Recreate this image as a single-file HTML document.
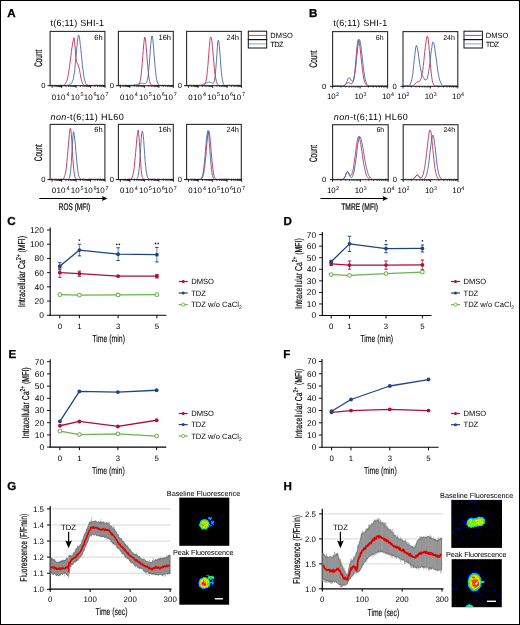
<!DOCTYPE html>
<html><head><meta charset="utf-8"><style>
html,body{margin:0;padding:0;background:#fff;}
svg{display:block;font-family:"Liberation Sans", sans-serif;will-change:transform;text-rendering:geometricPrecision;}
</style></head><body>
<svg width="520" height="625" viewBox="0 0 520 625">
<rect x="0" y="0" width="520" height="625" fill="#fff"/>
<rect x="0.5" y="0.5" width="519" height="624" fill="none" stroke="#000" stroke-width="1"/>
<text x="7.30" y="16.80" font-size="11.6" font-weight="bold" stroke="#000" stroke-width="0.3">A</text>
<text x="308.90" y="16.90" font-size="11.6" font-weight="bold" stroke="#000" stroke-width="0.3">B</text>
<text x="7.30" y="225.00" font-size="11.6" font-weight="bold" stroke="#000" stroke-width="0.3">C</text>
<text x="283.60" y="225.40" font-size="11.6" font-weight="bold" stroke="#000" stroke-width="0.3">D</text>
<text x="8.40" y="357.70" font-size="11.6" font-weight="bold" stroke="#000" stroke-width="0.3">E</text>
<text x="283.20" y="358.00" font-size="11.6" font-weight="bold" stroke="#000" stroke-width="0.3">F</text>
<text x="7.30" y="489.60" font-size="11.6" font-weight="bold" stroke="#000" stroke-width="0.3">G</text>
<text x="283.60" y="490.00" font-size="11.6" font-weight="bold" stroke="#000" stroke-width="0.3">H</text>
<text x="50.60" y="25.80" font-size="9" textLength="53.40" lengthAdjust="spacing">t(6;11) SHI-1</text>
<text x="50.50" y="119.80" font-size="9" textLength="73.20" lengthAdjust="spacing"><tspan font-style="italic">non</tspan>-t(6;11) HL60</text>
<path d="M50.40,85.54 L50.90,85.62 L51.40,85.37 L51.90,85.66 L52.40,85.43 L52.90,85.52 L53.40,85.67 L53.90,85.45 L54.40,85.68 L54.90,85.48 L55.40,85.67 L55.90,85.65 L56.40,85.49 L56.90,85.29 L57.40,85.64 L57.90,85.59 L58.40,85.39 L58.90,85.23 L59.40,85.41 L59.90,85.50 L60.40,85.21 L60.90,85.68 L61.40,85.27 L61.90,85.56 L62.40,85.63 L62.90,85.64 L63.40,85.55 L63.90,84.83 L64.40,84.84 L64.90,84.16 L65.40,83.51 L65.90,82.82 L66.40,81.63 L66.90,80.54 L67.40,78.82 L67.90,76.61 L68.40,73.71 L68.90,70.96 L69.40,67.73 L69.90,63.78 L70.40,59.99 L70.90,56.13 L71.40,51.47 L71.90,47.78 L72.40,45.05 L72.90,41.71 L73.40,39.67 L73.90,37.76 L74.40,39.09 L74.90,44.87 L75.40,50.55 L75.90,57.66 L76.40,61.27 L76.90,62.72 L77.40,63.86 L77.90,63.97 L78.40,65.80 L78.90,67.08 L79.40,69.37 L79.90,72.21 L80.40,74.70 L80.90,77.66 L81.40,79.62 L81.90,81.49 L82.40,82.89 L82.90,83.96 L83.40,84.44 L83.90,84.84 L84.40,85.46 L84.90,85.37 L85.40,85.67 L85.90,85.35 L86.40,85.38 L86.90,85.20 L87.40,85.29 L87.90,85.56 L88.40,85.51 L88.90,85.37 L89.40,85.69 L89.90,85.47 L90.40,85.62 L90.90,85.64 L91.40,85.67 L91.90,85.32 L92.40,85.64 L92.90,85.58 L93.40,85.50 L93.90,85.26 L94.40,85.66 L94.90,85.48 L95.40,85.43 L95.90,85.26 L96.40,85.29 L96.90,85.27 L97.40,85.56 L97.90,85.49 L98.40,85.52 L98.90,85.26 L99.40,85.22 L99.90,85.62 L100.40,85.61 L100.90,85.58 L101.40,85.58 L101.90,85.46 L102.40,85.41 L102.90,85.57 L103.40,85.70 L103.90,85.49 L104.40,85.52" stroke="#c42d55" stroke-width="0.9" fill="none" stroke-linejoin="round"/>
<path d="M50.40,85.42 L50.90,85.22 L51.40,85.35 L51.90,85.44 L52.40,85.39 L52.90,85.36 L53.40,85.67 L53.90,85.25 L54.40,85.31 L54.90,85.26 L55.40,85.30 L55.90,85.50 L56.40,85.50 L56.90,85.65 L57.40,85.38 L57.90,85.67 L58.40,85.67 L58.90,85.60 L59.40,85.62 L59.90,85.53 L60.40,85.67 L60.90,85.70 L61.40,85.62 L61.90,85.65 L62.40,85.52 L62.90,85.69 L63.40,85.26 L63.90,85.39 L64.40,85.63 L64.90,85.57 L65.40,85.53 L65.90,85.52 L66.40,85.64 L66.90,85.28 L67.40,85.20 L67.90,85.47 L68.40,84.98 L68.90,85.02 L69.40,84.82 L69.90,84.46 L70.40,84.23 L70.90,83.57 L71.40,83.46 L71.90,82.88 L72.40,81.38 L72.90,80.28 L73.40,78.64 L73.90,75.80 L74.40,72.87 L74.90,68.28 L75.40,62.86 L75.90,57.40 L76.40,51.74 L76.90,46.67 L77.40,41.51 L77.90,38.06 L78.40,34.98 L78.90,35.59 L79.40,37.10 L79.90,41.10 L80.40,45.48 L80.90,49.48 L81.40,54.43 L81.90,59.74 L82.40,64.63 L82.90,68.99 L83.40,72.85 L83.90,76.39 L84.40,78.72 L84.90,80.82 L85.40,82.51 L85.90,83.61 L86.40,84.26 L86.90,84.81 L87.40,84.96 L87.90,85.22 L88.40,85.48 L88.90,85.23 L89.40,85.21 L89.90,85.22 L90.40,85.52 L90.90,85.59 L91.40,85.59 L91.90,85.60 L92.40,85.60 L92.90,85.39 L93.40,85.25 L93.90,85.28 L94.40,85.46 L94.90,85.37 L95.40,85.30 L95.90,85.66 L96.40,85.37 L96.90,85.25 L97.40,85.31 L97.90,85.32 L98.40,85.46 L98.90,85.61 L99.40,85.31 L99.90,85.53 L100.40,85.30 L100.90,85.21 L101.40,85.50 L101.90,85.50 L102.40,85.23 L102.90,85.34 L103.40,85.61 L103.90,85.64 L104.40,85.62" stroke="#4665a6" stroke-width="0.9" fill="none" stroke-linejoin="round"/>
<rect x="50.10" y="31.40" width="54.80" height="54.30" fill="none" stroke="#2a2a2a" stroke-width="1.1"/>
<text x="102.60" y="39.60" font-size="7.5" text-anchor="end">6h</text>
<text x="45.60" y="88.20" font-size="7.6" text-anchor="end">0</text>
<line x1="47.50" y1="85.70" x2="50.10" y2="85.70" stroke="#000" stroke-width="0.9"/>
<line x1="52.10" y1="85.70" x2="52.10" y2="87.90" stroke="#000" stroke-width="0.8"/>
<line x1="61.60" y1="85.70" x2="61.60" y2="87.90" stroke="#000" stroke-width="0.8"/>
<line x1="76.10" y1="85.70" x2="76.10" y2="87.90" stroke="#000" stroke-width="0.8"/>
<line x1="90.60" y1="85.70" x2="90.60" y2="87.90" stroke="#000" stroke-width="0.8"/>
<line x1="105.10" y1="85.70" x2="105.10" y2="87.90" stroke="#000" stroke-width="0.8"/>
<line x1="54.96" y1="85.70" x2="54.96" y2="87.10" stroke="#000" stroke-width="0.6"/>
<line x1="56.63" y1="85.70" x2="56.63" y2="87.10" stroke="#000" stroke-width="0.6"/>
<line x1="57.82" y1="85.70" x2="57.82" y2="87.10" stroke="#000" stroke-width="0.6"/>
<line x1="58.74" y1="85.70" x2="58.74" y2="87.10" stroke="#000" stroke-width="0.6"/>
<line x1="59.49" y1="85.70" x2="59.49" y2="87.10" stroke="#000" stroke-width="0.6"/>
<line x1="60.13" y1="85.70" x2="60.13" y2="87.10" stroke="#000" stroke-width="0.6"/>
<line x1="60.68" y1="85.70" x2="60.68" y2="87.10" stroke="#000" stroke-width="0.6"/>
<line x1="61.17" y1="85.70" x2="61.17" y2="87.10" stroke="#000" stroke-width="0.6"/>
<line x1="65.96" y1="85.70" x2="65.96" y2="87.10" stroke="#000" stroke-width="0.6"/>
<line x1="68.52" y1="85.70" x2="68.52" y2="87.10" stroke="#000" stroke-width="0.6"/>
<line x1="70.33" y1="85.70" x2="70.33" y2="87.10" stroke="#000" stroke-width="0.6"/>
<line x1="71.74" y1="85.70" x2="71.74" y2="87.10" stroke="#000" stroke-width="0.6"/>
<line x1="72.88" y1="85.70" x2="72.88" y2="87.10" stroke="#000" stroke-width="0.6"/>
<line x1="73.85" y1="85.70" x2="73.85" y2="87.10" stroke="#000" stroke-width="0.6"/>
<line x1="74.69" y1="85.70" x2="74.69" y2="87.10" stroke="#000" stroke-width="0.6"/>
<line x1="75.44" y1="85.70" x2="75.44" y2="87.10" stroke="#000" stroke-width="0.6"/>
<line x1="80.46" y1="85.70" x2="80.46" y2="87.10" stroke="#000" stroke-width="0.6"/>
<line x1="83.02" y1="85.70" x2="83.02" y2="87.10" stroke="#000" stroke-width="0.6"/>
<line x1="84.83" y1="85.70" x2="84.83" y2="87.10" stroke="#000" stroke-width="0.6"/>
<line x1="86.24" y1="85.70" x2="86.24" y2="87.10" stroke="#000" stroke-width="0.6"/>
<line x1="87.38" y1="85.70" x2="87.38" y2="87.10" stroke="#000" stroke-width="0.6"/>
<line x1="88.35" y1="85.70" x2="88.35" y2="87.10" stroke="#000" stroke-width="0.6"/>
<line x1="89.19" y1="85.70" x2="89.19" y2="87.10" stroke="#000" stroke-width="0.6"/>
<line x1="89.94" y1="85.70" x2="89.94" y2="87.10" stroke="#000" stroke-width="0.6"/>
<line x1="94.96" y1="85.70" x2="94.96" y2="87.10" stroke="#000" stroke-width="0.6"/>
<line x1="97.52" y1="85.70" x2="97.52" y2="87.10" stroke="#000" stroke-width="0.6"/>
<line x1="99.33" y1="85.70" x2="99.33" y2="87.10" stroke="#000" stroke-width="0.6"/>
<line x1="100.74" y1="85.70" x2="100.74" y2="87.10" stroke="#000" stroke-width="0.6"/>
<line x1="101.88" y1="85.70" x2="101.88" y2="87.10" stroke="#000" stroke-width="0.6"/>
<line x1="102.85" y1="85.70" x2="102.85" y2="87.10" stroke="#000" stroke-width="0.6"/>
<line x1="103.69" y1="85.70" x2="103.69" y2="87.10" stroke="#000" stroke-width="0.6"/>
<line x1="104.44" y1="85.70" x2="104.44" y2="87.10" stroke="#000" stroke-width="0.6"/>
<text x="51.80" y="99.50" font-size="7.8">0</text>
<text x="56.60" y="99.50" font-size="8.0">10</text>
<text x="66.40" y="96.10" font-size="5.4">4</text>
<text x="70.70" y="99.50" font-size="8.0">10</text>
<text x="80.50" y="96.10" font-size="5.4">5</text>
<text x="83.70" y="99.50" font-size="8.0">10</text>
<text x="93.50" y="96.10" font-size="5.4">6</text>
<text x="95.70" y="99.50" font-size="8.0">10</text>
<text x="105.50" y="96.10" font-size="5.4">7</text>
<path d="M118.70,85.25 L119.20,85.30 L119.70,85.63 L120.20,85.29 L120.70,85.21 L121.20,85.37 L121.70,85.52 L122.20,85.43 L122.70,85.63 L123.20,85.69 L123.70,85.21 L124.20,85.38 L124.70,85.44 L125.20,85.23 L125.70,85.48 L126.20,85.26 L126.70,85.29 L127.20,85.59 L127.70,85.57 L128.20,85.55 L128.70,85.58 L129.20,85.41 L129.70,85.57 L130.20,85.49 L130.70,85.63 L131.20,85.24 L131.70,85.52 L132.20,85.47 L132.70,85.41 L133.20,85.25 L133.70,85.49 L134.20,85.24 L134.70,85.45 L135.20,85.43 L135.70,85.44 L136.20,85.69 L136.70,85.48 L137.20,85.61 L137.70,85.70 L138.20,85.30 L138.70,85.00 L139.20,84.13 L139.70,82.80 L140.20,81.06 L140.70,78.51 L141.20,74.64 L141.70,69.74 L142.20,63.59 L142.70,57.74 L143.20,50.40 L143.70,44.72 L144.20,40.08 L144.70,37.01 L145.20,38.38 L145.70,41.76 L146.20,46.73 L146.70,52.82 L147.20,59.91 L147.70,65.86 L148.20,71.31 L148.70,75.66 L149.20,78.88 L149.70,81.46 L150.20,83.07 L150.70,84.18 L151.20,84.61 L151.70,85.35 L152.20,85.26 L152.70,85.23 L153.20,85.57 L153.70,85.42 L154.20,85.23 L154.70,85.28 L155.20,85.63 L155.70,85.64 L156.20,85.48 L156.70,85.66 L157.20,85.58 L157.70,85.66 L158.20,85.37 L158.70,85.31 L159.20,85.25 L159.70,85.62 L160.20,85.34 L160.70,85.37 L161.20,85.63 L161.70,85.26 L162.20,85.22 L162.70,85.59 L163.20,85.22 L163.70,85.50 L164.20,85.46 L164.70,85.21 L165.20,85.28 L165.70,85.62 L166.20,85.48 L166.70,85.44 L167.20,85.53 L167.70,85.60 L168.20,85.54 L168.70,85.34 L169.20,85.69 L169.70,85.42 L170.20,85.48 L170.70,85.69 L171.20,85.53 L171.70,85.39 L172.20,85.44 L172.70,85.67" stroke="#c42d55" stroke-width="0.9" fill="none" stroke-linejoin="round"/>
<path d="M118.70,85.21 L119.20,85.31 L119.70,85.21 L120.20,85.65 L120.70,85.57 L121.20,85.68 L121.70,85.31 L122.20,85.56 L122.70,85.64 L123.20,85.49 L123.70,85.24 L124.20,85.29 L124.70,85.57 L125.20,85.63 L125.70,85.24 L126.20,85.41 L126.70,85.35 L127.20,85.66 L127.70,85.67 L128.20,85.36 L128.70,85.49 L129.20,85.66 L129.70,85.23 L130.20,85.38 L130.70,85.30 L131.20,85.66 L131.70,85.27 L132.20,85.67 L132.70,85.27 L133.20,85.47 L133.70,85.16 L134.20,84.94 L134.70,84.63 L135.20,84.86 L135.70,84.80 L136.20,84.45 L136.70,84.46 L137.20,84.38 L137.70,84.20 L138.20,84.12 L138.70,83.90 L139.20,83.71 L139.70,83.59 L140.20,83.24 L140.70,83.42 L141.20,83.24 L141.70,83.39 L142.20,83.29 L142.70,83.51 L143.20,83.45 L143.70,83.68 L144.20,83.38 L144.70,83.55 L145.20,83.75 L145.70,83.44 L146.20,82.77 L146.70,82.43 L147.20,80.58 L147.70,78.60 L148.20,75.31 L148.70,70.62 L149.20,65.49 L149.70,58.92 L150.20,51.80 L150.70,44.72 L151.20,40.29 L151.70,36.13 L152.20,35.99 L152.70,38.55 L153.20,43.35 L153.70,49.14 L154.20,55.81 L154.70,61.96 L155.20,67.74 L155.70,72.10 L156.20,76.49 L156.70,79.61 L157.20,81.87 L157.70,82.97 L158.20,83.98 L158.70,84.74 L159.20,85.56 L159.70,85.58 L160.20,85.55 L160.70,85.47 L161.20,85.62 L161.70,85.48 L162.20,85.57 L162.70,85.22 L163.20,85.21 L163.70,85.43 L164.20,85.58 L164.70,85.22 L165.20,85.55 L165.70,85.52 L166.20,85.70 L166.70,85.51 L167.20,85.46 L167.70,85.45 L168.20,85.60 L168.70,85.45 L169.20,85.70 L169.70,85.57 L170.20,85.66 L170.70,85.50 L171.20,85.68 L171.70,85.69 L172.20,85.55 L172.70,85.58" stroke="#4665a6" stroke-width="0.9" fill="none" stroke-linejoin="round"/>
<rect x="118.40" y="31.40" width="54.90" height="54.30" fill="none" stroke="#2a2a2a" stroke-width="1.1"/>
<text x="171.00" y="39.60" font-size="7.5" text-anchor="end">16h</text>
<text x="113.90" y="88.20" font-size="7.6" text-anchor="end">0</text>
<line x1="115.80" y1="85.70" x2="118.40" y2="85.70" stroke="#000" stroke-width="0.9"/>
<line x1="120.40" y1="85.70" x2="120.40" y2="87.90" stroke="#000" stroke-width="0.8"/>
<line x1="129.90" y1="85.70" x2="129.90" y2="87.90" stroke="#000" stroke-width="0.8"/>
<line x1="144.40" y1="85.70" x2="144.40" y2="87.90" stroke="#000" stroke-width="0.8"/>
<line x1="158.90" y1="85.70" x2="158.90" y2="87.90" stroke="#000" stroke-width="0.8"/>
<line x1="173.40" y1="85.70" x2="173.40" y2="87.90" stroke="#000" stroke-width="0.8"/>
<line x1="123.26" y1="85.70" x2="123.26" y2="87.10" stroke="#000" stroke-width="0.6"/>
<line x1="124.93" y1="85.70" x2="124.93" y2="87.10" stroke="#000" stroke-width="0.6"/>
<line x1="126.12" y1="85.70" x2="126.12" y2="87.10" stroke="#000" stroke-width="0.6"/>
<line x1="127.04" y1="85.70" x2="127.04" y2="87.10" stroke="#000" stroke-width="0.6"/>
<line x1="127.79" y1="85.70" x2="127.79" y2="87.10" stroke="#000" stroke-width="0.6"/>
<line x1="128.43" y1="85.70" x2="128.43" y2="87.10" stroke="#000" stroke-width="0.6"/>
<line x1="128.98" y1="85.70" x2="128.98" y2="87.10" stroke="#000" stroke-width="0.6"/>
<line x1="129.47" y1="85.70" x2="129.47" y2="87.10" stroke="#000" stroke-width="0.6"/>
<line x1="134.26" y1="85.70" x2="134.26" y2="87.10" stroke="#000" stroke-width="0.6"/>
<line x1="136.82" y1="85.70" x2="136.82" y2="87.10" stroke="#000" stroke-width="0.6"/>
<line x1="138.63" y1="85.70" x2="138.63" y2="87.10" stroke="#000" stroke-width="0.6"/>
<line x1="140.04" y1="85.70" x2="140.04" y2="87.10" stroke="#000" stroke-width="0.6"/>
<line x1="141.18" y1="85.70" x2="141.18" y2="87.10" stroke="#000" stroke-width="0.6"/>
<line x1="142.15" y1="85.70" x2="142.15" y2="87.10" stroke="#000" stroke-width="0.6"/>
<line x1="142.99" y1="85.70" x2="142.99" y2="87.10" stroke="#000" stroke-width="0.6"/>
<line x1="143.74" y1="85.70" x2="143.74" y2="87.10" stroke="#000" stroke-width="0.6"/>
<line x1="148.76" y1="85.70" x2="148.76" y2="87.10" stroke="#000" stroke-width="0.6"/>
<line x1="151.32" y1="85.70" x2="151.32" y2="87.10" stroke="#000" stroke-width="0.6"/>
<line x1="153.13" y1="85.70" x2="153.13" y2="87.10" stroke="#000" stroke-width="0.6"/>
<line x1="154.54" y1="85.70" x2="154.54" y2="87.10" stroke="#000" stroke-width="0.6"/>
<line x1="155.68" y1="85.70" x2="155.68" y2="87.10" stroke="#000" stroke-width="0.6"/>
<line x1="156.65" y1="85.70" x2="156.65" y2="87.10" stroke="#000" stroke-width="0.6"/>
<line x1="157.49" y1="85.70" x2="157.49" y2="87.10" stroke="#000" stroke-width="0.6"/>
<line x1="158.24" y1="85.70" x2="158.24" y2="87.10" stroke="#000" stroke-width="0.6"/>
<line x1="163.26" y1="85.70" x2="163.26" y2="87.10" stroke="#000" stroke-width="0.6"/>
<line x1="165.82" y1="85.70" x2="165.82" y2="87.10" stroke="#000" stroke-width="0.6"/>
<line x1="167.63" y1="85.70" x2="167.63" y2="87.10" stroke="#000" stroke-width="0.6"/>
<line x1="169.04" y1="85.70" x2="169.04" y2="87.10" stroke="#000" stroke-width="0.6"/>
<line x1="170.18" y1="85.70" x2="170.18" y2="87.10" stroke="#000" stroke-width="0.6"/>
<line x1="171.15" y1="85.70" x2="171.15" y2="87.10" stroke="#000" stroke-width="0.6"/>
<line x1="171.99" y1="85.70" x2="171.99" y2="87.10" stroke="#000" stroke-width="0.6"/>
<line x1="172.74" y1="85.70" x2="172.74" y2="87.10" stroke="#000" stroke-width="0.6"/>
<text x="120.10" y="99.50" font-size="7.8">0</text>
<text x="124.90" y="99.50" font-size="8.0">10</text>
<text x="134.70" y="96.10" font-size="5.4">4</text>
<text x="139.00" y="99.50" font-size="8.0">10</text>
<text x="148.80" y="96.10" font-size="5.4">5</text>
<text x="152.00" y="99.50" font-size="8.0">10</text>
<text x="161.80" y="96.10" font-size="5.4">6</text>
<text x="164.00" y="99.50" font-size="8.0">10</text>
<text x="173.80" y="96.10" font-size="5.4">7</text>
<path d="M186.90,85.41 L187.40,85.44 L187.90,85.32 L188.40,85.37 L188.90,85.34 L189.40,85.26 L189.90,85.51 L190.40,85.54 L190.90,85.21 L191.40,85.63 L191.90,85.34 L192.40,85.38 L192.90,85.68 L193.40,85.28 L193.90,85.25 L194.40,85.39 L194.90,85.33 L195.40,85.29 L195.90,85.63 L196.40,85.44 L196.90,85.45 L197.40,85.28 L197.90,85.30 L198.40,85.29 L198.90,85.41 L199.40,85.25 L199.90,85.36 L200.40,85.35 L200.90,85.59 L201.40,85.68 L201.90,85.63 L202.40,85.52 L202.90,85.65 L203.40,85.28 L203.90,85.42 L204.40,84.75 L204.90,84.06 L205.40,82.92 L205.90,81.33 L206.40,79.18 L206.90,75.20 L207.40,70.75 L207.90,65.48 L208.40,59.16 L208.90,52.34 L209.40,46.80 L209.90,40.39 L210.40,37.64 L210.90,37.00 L211.40,38.31 L211.90,41.05 L212.40,46.69 L212.90,51.54 L213.40,57.16 L213.90,63.40 L214.40,68.65 L214.90,72.96 L215.40,76.41 L215.90,79.17 L216.40,81.37 L216.90,82.85 L217.40,84.19 L217.90,84.83 L218.40,85.21 L218.90,85.33 L219.40,85.55 L219.90,85.42 L220.40,85.69 L220.90,85.67 L221.40,85.57 L221.90,85.36 L222.40,85.35 L222.90,85.36 L223.40,85.55 L223.90,85.44 L224.40,85.47 L224.90,85.47 L225.40,85.64 L225.90,85.25 L226.40,85.60 L226.90,85.21 L227.40,85.23 L227.90,85.69 L228.40,85.47 L228.90,85.29 L229.40,85.22 L229.90,85.48 L230.40,85.57 L230.90,85.60 L231.40,85.23 L231.90,85.59 L232.40,85.41 L232.90,85.63 L233.40,85.44 L233.90,85.22 L234.40,85.63 L234.90,85.29 L235.40,85.45 L235.90,85.26 L236.40,85.35 L236.90,85.58 L237.40,85.25 L237.90,85.46 L238.40,85.69 L238.90,85.70 L239.40,85.45 L239.90,85.47 L240.40,85.55 L240.90,85.63" stroke="#c42d55" stroke-width="0.9" fill="none" stroke-linejoin="round"/>
<path d="M186.90,85.53 L187.40,85.54 L187.90,85.28 L188.40,85.70 L188.90,85.32 L189.40,85.28 L189.90,85.64 L190.40,85.24 L190.90,85.34 L191.40,85.25 L191.90,85.56 L192.40,85.51 L192.90,85.50 L193.40,85.20 L193.90,85.41 L194.40,85.52 L194.90,85.49 L195.40,85.56 L195.90,85.68 L196.40,85.65 L196.90,85.28 L197.40,85.56 L197.90,85.23 L198.40,85.58 L198.90,85.57 L199.40,85.44 L199.90,85.61 L200.40,85.51 L200.90,85.22 L201.40,84.79 L201.90,84.68 L202.40,84.61 L202.90,84.28 L203.40,84.06 L203.90,84.06 L204.40,83.74 L204.90,83.88 L205.40,83.26 L205.90,83.18 L206.40,82.78 L206.90,82.63 L207.40,82.65 L207.90,82.62 L208.40,81.98 L208.90,82.36 L209.40,82.12 L209.90,82.23 L210.40,82.40 L210.90,82.37 L211.40,82.50 L211.90,83.19 L212.40,83.17 L212.90,83.43 L213.40,83.02 L213.90,82.33 L214.40,80.89 L214.90,78.21 L215.40,74.11 L215.90,67.94 L216.40,61.51 L216.90,54.45 L217.40,46.55 L217.90,41.20 L218.40,40.03 L218.90,42.33 L219.40,46.76 L219.90,53.11 L220.40,59.66 L220.90,66.56 L221.40,72.17 L221.90,76.74 L222.40,79.91 L222.90,82.06 L223.40,83.64 L223.90,84.72 L224.40,85.49 L224.90,85.44 L225.40,85.51 L225.90,85.53 L226.40,85.67 L226.90,85.56 L227.40,85.22 L227.90,85.64 L228.40,85.45 L228.90,85.39 L229.40,85.27 L229.90,85.59 L230.40,85.56 L230.90,85.58 L231.40,85.50 L231.90,85.48 L232.40,85.22 L232.90,85.28 L233.40,85.26 L233.90,85.69 L234.40,85.68 L234.90,85.35 L235.40,85.25 L235.90,85.46 L236.40,85.41 L236.90,85.70 L237.40,85.50 L237.90,85.24 L238.40,85.29 L238.90,85.27 L239.40,85.21 L239.90,85.58 L240.40,85.65 L240.90,85.62" stroke="#4665a6" stroke-width="0.9" fill="none" stroke-linejoin="round"/>
<rect x="186.60" y="31.40" width="54.70" height="54.30" fill="none" stroke="#2a2a2a" stroke-width="1.1"/>
<text x="239.00" y="39.60" font-size="7.5" text-anchor="end">24h</text>
<text x="182.10" y="88.20" font-size="7.6" text-anchor="end">0</text>
<line x1="184.00" y1="85.70" x2="186.60" y2="85.70" stroke="#000" stroke-width="0.9"/>
<line x1="188.60" y1="85.70" x2="188.60" y2="87.90" stroke="#000" stroke-width="0.8"/>
<line x1="198.10" y1="85.70" x2="198.10" y2="87.90" stroke="#000" stroke-width="0.8"/>
<line x1="212.60" y1="85.70" x2="212.60" y2="87.90" stroke="#000" stroke-width="0.8"/>
<line x1="227.10" y1="85.70" x2="227.10" y2="87.90" stroke="#000" stroke-width="0.8"/>
<line x1="241.60" y1="85.70" x2="241.60" y2="87.90" stroke="#000" stroke-width="0.8"/>
<line x1="191.46" y1="85.70" x2="191.46" y2="87.10" stroke="#000" stroke-width="0.6"/>
<line x1="193.13" y1="85.70" x2="193.13" y2="87.10" stroke="#000" stroke-width="0.6"/>
<line x1="194.32" y1="85.70" x2="194.32" y2="87.10" stroke="#000" stroke-width="0.6"/>
<line x1="195.24" y1="85.70" x2="195.24" y2="87.10" stroke="#000" stroke-width="0.6"/>
<line x1="195.99" y1="85.70" x2="195.99" y2="87.10" stroke="#000" stroke-width="0.6"/>
<line x1="196.63" y1="85.70" x2="196.63" y2="87.10" stroke="#000" stroke-width="0.6"/>
<line x1="197.18" y1="85.70" x2="197.18" y2="87.10" stroke="#000" stroke-width="0.6"/>
<line x1="197.67" y1="85.70" x2="197.67" y2="87.10" stroke="#000" stroke-width="0.6"/>
<line x1="202.46" y1="85.70" x2="202.46" y2="87.10" stroke="#000" stroke-width="0.6"/>
<line x1="205.02" y1="85.70" x2="205.02" y2="87.10" stroke="#000" stroke-width="0.6"/>
<line x1="206.83" y1="85.70" x2="206.83" y2="87.10" stroke="#000" stroke-width="0.6"/>
<line x1="208.24" y1="85.70" x2="208.24" y2="87.10" stroke="#000" stroke-width="0.6"/>
<line x1="209.38" y1="85.70" x2="209.38" y2="87.10" stroke="#000" stroke-width="0.6"/>
<line x1="210.35" y1="85.70" x2="210.35" y2="87.10" stroke="#000" stroke-width="0.6"/>
<line x1="211.19" y1="85.70" x2="211.19" y2="87.10" stroke="#000" stroke-width="0.6"/>
<line x1="211.94" y1="85.70" x2="211.94" y2="87.10" stroke="#000" stroke-width="0.6"/>
<line x1="216.96" y1="85.70" x2="216.96" y2="87.10" stroke="#000" stroke-width="0.6"/>
<line x1="219.52" y1="85.70" x2="219.52" y2="87.10" stroke="#000" stroke-width="0.6"/>
<line x1="221.33" y1="85.70" x2="221.33" y2="87.10" stroke="#000" stroke-width="0.6"/>
<line x1="222.74" y1="85.70" x2="222.74" y2="87.10" stroke="#000" stroke-width="0.6"/>
<line x1="223.88" y1="85.70" x2="223.88" y2="87.10" stroke="#000" stroke-width="0.6"/>
<line x1="224.85" y1="85.70" x2="224.85" y2="87.10" stroke="#000" stroke-width="0.6"/>
<line x1="225.69" y1="85.70" x2="225.69" y2="87.10" stroke="#000" stroke-width="0.6"/>
<line x1="226.44" y1="85.70" x2="226.44" y2="87.10" stroke="#000" stroke-width="0.6"/>
<line x1="231.46" y1="85.70" x2="231.46" y2="87.10" stroke="#000" stroke-width="0.6"/>
<line x1="234.02" y1="85.70" x2="234.02" y2="87.10" stroke="#000" stroke-width="0.6"/>
<line x1="235.83" y1="85.70" x2="235.83" y2="87.10" stroke="#000" stroke-width="0.6"/>
<line x1="237.24" y1="85.70" x2="237.24" y2="87.10" stroke="#000" stroke-width="0.6"/>
<line x1="238.38" y1="85.70" x2="238.38" y2="87.10" stroke="#000" stroke-width="0.6"/>
<line x1="239.35" y1="85.70" x2="239.35" y2="87.10" stroke="#000" stroke-width="0.6"/>
<line x1="240.19" y1="85.70" x2="240.19" y2="87.10" stroke="#000" stroke-width="0.6"/>
<line x1="240.94" y1="85.70" x2="240.94" y2="87.10" stroke="#000" stroke-width="0.6"/>
<text x="188.30" y="99.50" font-size="7.8">0</text>
<text x="193.10" y="99.50" font-size="8.0">10</text>
<text x="202.90" y="96.10" font-size="5.4">4</text>
<text x="207.20" y="99.50" font-size="8.0">10</text>
<text x="217.00" y="96.10" font-size="5.4">5</text>
<text x="220.20" y="99.50" font-size="8.0">10</text>
<text x="230.00" y="96.10" font-size="5.4">6</text>
<text x="232.20" y="99.50" font-size="8.0">10</text>
<text x="242.00" y="96.10" font-size="5.4">7</text>
<path d="M50.40,179.34 L50.90,179.26 L51.40,179.13 L51.90,179.24 L52.40,179.28 L52.90,179.22 L53.40,179.37 L53.90,179.32 L54.40,179.58 L54.90,179.21 L55.40,179.48 L55.90,179.14 L56.40,179.28 L56.90,179.45 L57.40,179.54 L57.90,179.47 L58.40,179.28 L58.90,179.25 L59.40,179.54 L59.90,179.56 L60.40,179.34 L60.90,179.31 L61.40,179.41 L61.90,179.49 L62.40,179.30 L62.90,179.59 L63.40,178.73 L63.90,177.99 L64.40,176.71 L64.90,175.40 L65.40,173.15 L65.90,170.58 L66.40,167.10 L66.90,162.56 L67.40,156.47 L67.90,150.76 L68.40,145.07 L68.90,139.57 L69.40,133.69 L69.90,129.63 L70.40,128.30 L70.90,130.07 L71.40,134.64 L71.90,141.92 L72.40,151.30 L72.90,159.45 L73.40,165.86 L73.90,170.92 L74.40,174.33 L74.90,176.92 L75.40,177.96 L75.90,178.76 L76.40,179.35 L76.90,179.50 L77.40,179.12 L77.90,179.44 L78.40,179.19 L78.90,179.48 L79.40,179.49 L79.90,179.22 L80.40,179.45 L80.90,179.12 L81.40,179.35 L81.90,179.51 L82.40,179.49 L82.90,179.39 L83.40,179.27 L83.90,179.13 L84.40,179.53 L84.90,179.40 L85.40,179.49 L85.90,179.11 L86.40,179.53 L86.90,179.57 L87.40,179.57 L87.90,179.40 L88.40,179.15 L88.90,179.16 L89.40,179.23 L89.90,179.10 L90.40,179.13 L90.90,179.44 L91.40,179.51 L91.90,179.13 L92.40,179.23 L92.90,179.58 L93.40,179.27 L93.90,179.41 L94.40,179.41 L94.90,179.43 L95.40,179.52 L95.90,179.60 L96.40,179.46 L96.90,179.42 L97.40,179.12 L97.90,179.54 L98.40,179.12 L98.90,179.50 L99.40,179.42 L99.90,179.19 L100.40,179.19 L100.90,179.38 L101.40,179.58 L101.90,179.36 L102.40,179.41 L102.90,179.14 L103.40,179.50 L103.90,179.42 L104.40,179.15" stroke="#c42d55" stroke-width="0.9" fill="none" stroke-linejoin="round"/>
<path d="M50.40,179.58 L50.90,179.39 L51.40,179.19 L51.90,179.22 L52.40,179.58 L52.90,179.58 L53.40,179.57 L53.90,179.14 L54.40,179.47 L54.90,179.23 L55.40,179.15 L55.90,179.43 L56.40,179.46 L56.90,179.12 L57.40,179.29 L57.90,179.47 L58.40,179.24 L58.90,179.44 L59.40,179.46 L59.90,179.60 L60.40,179.22 L60.90,179.14 L61.40,179.28 L61.90,179.13 L62.40,179.59 L62.90,179.48 L63.40,179.36 L63.90,179.12 L64.40,179.12 L64.90,179.41 L65.40,179.47 L65.90,179.39 L66.40,179.35 L66.90,179.14 L67.40,179.51 L67.90,179.20 L68.40,179.23 L68.90,178.64 L69.40,177.71 L69.90,175.99 L70.40,173.07 L70.90,168.28 L71.40,161.54 L71.90,152.78 L72.40,144.86 L72.90,137.08 L73.40,131.66 L73.90,132.55 L74.40,135.60 L74.90,140.18 L75.40,145.11 L75.90,151.55 L76.40,156.87 L76.90,162.48 L77.40,167.08 L77.90,171.34 L78.40,174.24 L78.90,176.23 L79.40,177.38 L79.90,178.17 L80.40,178.87 L80.90,179.48 L81.40,179.39 L81.90,179.29 L82.40,179.26 L82.90,179.23 L83.40,179.18 L83.90,179.27 L84.40,179.54 L84.90,179.18 L85.40,179.45 L85.90,179.32 L86.40,179.41 L86.90,179.23 L87.40,179.50 L87.90,179.48 L88.40,179.48 L88.90,179.52 L89.40,179.16 L89.90,179.31 L90.40,179.44 L90.90,179.40 L91.40,179.10 L91.90,179.35 L92.40,179.48 L92.90,179.20 L93.40,179.27 L93.90,179.10 L94.40,179.55 L94.90,179.36 L95.40,179.19 L95.90,179.18 L96.40,179.14 L96.90,179.58 L97.40,179.45 L97.90,179.54 L98.40,179.51 L98.90,179.11 L99.40,179.31 L99.90,179.13 L100.40,179.41 L100.90,179.17 L101.40,179.38 L101.90,179.47 L102.40,179.21 L102.90,179.13 L103.40,179.55 L103.90,179.30 L104.40,179.29" stroke="#4665a6" stroke-width="0.9" fill="none" stroke-linejoin="round"/>
<rect x="50.10" y="124.40" width="54.80" height="55.20" fill="none" stroke="#2a2a2a" stroke-width="1.1"/>
<text x="102.60" y="132.10" font-size="7.5" text-anchor="end">6h</text>
<text x="45.60" y="182.10" font-size="7.6" text-anchor="end">0</text>
<line x1="47.50" y1="179.60" x2="50.10" y2="179.60" stroke="#000" stroke-width="0.9"/>
<line x1="52.10" y1="179.60" x2="52.10" y2="181.80" stroke="#000" stroke-width="0.8"/>
<line x1="61.60" y1="179.60" x2="61.60" y2="181.80" stroke="#000" stroke-width="0.8"/>
<line x1="76.10" y1="179.60" x2="76.10" y2="181.80" stroke="#000" stroke-width="0.8"/>
<line x1="90.60" y1="179.60" x2="90.60" y2="181.80" stroke="#000" stroke-width="0.8"/>
<line x1="105.10" y1="179.60" x2="105.10" y2="181.80" stroke="#000" stroke-width="0.8"/>
<line x1="54.96" y1="179.60" x2="54.96" y2="181.00" stroke="#000" stroke-width="0.6"/>
<line x1="56.63" y1="179.60" x2="56.63" y2="181.00" stroke="#000" stroke-width="0.6"/>
<line x1="57.82" y1="179.60" x2="57.82" y2="181.00" stroke="#000" stroke-width="0.6"/>
<line x1="58.74" y1="179.60" x2="58.74" y2="181.00" stroke="#000" stroke-width="0.6"/>
<line x1="59.49" y1="179.60" x2="59.49" y2="181.00" stroke="#000" stroke-width="0.6"/>
<line x1="60.13" y1="179.60" x2="60.13" y2="181.00" stroke="#000" stroke-width="0.6"/>
<line x1="60.68" y1="179.60" x2="60.68" y2="181.00" stroke="#000" stroke-width="0.6"/>
<line x1="61.17" y1="179.60" x2="61.17" y2="181.00" stroke="#000" stroke-width="0.6"/>
<line x1="65.96" y1="179.60" x2="65.96" y2="181.00" stroke="#000" stroke-width="0.6"/>
<line x1="68.52" y1="179.60" x2="68.52" y2="181.00" stroke="#000" stroke-width="0.6"/>
<line x1="70.33" y1="179.60" x2="70.33" y2="181.00" stroke="#000" stroke-width="0.6"/>
<line x1="71.74" y1="179.60" x2="71.74" y2="181.00" stroke="#000" stroke-width="0.6"/>
<line x1="72.88" y1="179.60" x2="72.88" y2="181.00" stroke="#000" stroke-width="0.6"/>
<line x1="73.85" y1="179.60" x2="73.85" y2="181.00" stroke="#000" stroke-width="0.6"/>
<line x1="74.69" y1="179.60" x2="74.69" y2="181.00" stroke="#000" stroke-width="0.6"/>
<line x1="75.44" y1="179.60" x2="75.44" y2="181.00" stroke="#000" stroke-width="0.6"/>
<line x1="80.46" y1="179.60" x2="80.46" y2="181.00" stroke="#000" stroke-width="0.6"/>
<line x1="83.02" y1="179.60" x2="83.02" y2="181.00" stroke="#000" stroke-width="0.6"/>
<line x1="84.83" y1="179.60" x2="84.83" y2="181.00" stroke="#000" stroke-width="0.6"/>
<line x1="86.24" y1="179.60" x2="86.24" y2="181.00" stroke="#000" stroke-width="0.6"/>
<line x1="87.38" y1="179.60" x2="87.38" y2="181.00" stroke="#000" stroke-width="0.6"/>
<line x1="88.35" y1="179.60" x2="88.35" y2="181.00" stroke="#000" stroke-width="0.6"/>
<line x1="89.19" y1="179.60" x2="89.19" y2="181.00" stroke="#000" stroke-width="0.6"/>
<line x1="89.94" y1="179.60" x2="89.94" y2="181.00" stroke="#000" stroke-width="0.6"/>
<line x1="94.96" y1="179.60" x2="94.96" y2="181.00" stroke="#000" stroke-width="0.6"/>
<line x1="97.52" y1="179.60" x2="97.52" y2="181.00" stroke="#000" stroke-width="0.6"/>
<line x1="99.33" y1="179.60" x2="99.33" y2="181.00" stroke="#000" stroke-width="0.6"/>
<line x1="100.74" y1="179.60" x2="100.74" y2="181.00" stroke="#000" stroke-width="0.6"/>
<line x1="101.88" y1="179.60" x2="101.88" y2="181.00" stroke="#000" stroke-width="0.6"/>
<line x1="102.85" y1="179.60" x2="102.85" y2="181.00" stroke="#000" stroke-width="0.6"/>
<line x1="103.69" y1="179.60" x2="103.69" y2="181.00" stroke="#000" stroke-width="0.6"/>
<line x1="104.44" y1="179.60" x2="104.44" y2="181.00" stroke="#000" stroke-width="0.6"/>
<text x="51.80" y="193.40" font-size="7.8">0</text>
<text x="56.60" y="193.40" font-size="8.0">10</text>
<text x="66.40" y="190.00" font-size="5.4">4</text>
<text x="70.70" y="193.40" font-size="8.0">10</text>
<text x="80.50" y="190.00" font-size="5.4">5</text>
<text x="83.70" y="193.40" font-size="8.0">10</text>
<text x="93.50" y="190.00" font-size="5.4">6</text>
<text x="95.70" y="193.40" font-size="8.0">10</text>
<text x="105.50" y="190.00" font-size="5.4">7</text>
<path d="M118.70,179.49 L119.20,179.42 L119.70,179.53 L120.20,179.50 L120.70,179.47 L121.20,179.30 L121.70,179.27 L122.20,179.50 L122.70,179.59 L123.20,179.44 L123.70,179.26 L124.20,179.51 L124.70,179.44 L125.20,179.50 L125.70,179.20 L126.20,179.33 L126.70,179.57 L127.20,179.55 L127.70,179.40 L128.20,179.32 L128.70,179.28 L129.20,179.55 L129.70,179.52 L130.20,179.25 L130.70,179.40 L131.20,178.86 L131.70,178.26 L132.20,176.97 L132.70,175.94 L133.20,173.80 L133.70,171.21 L134.20,167.61 L134.70,162.78 L135.20,157.36 L135.70,152.23 L136.20,146.45 L136.70,139.98 L137.20,135.94 L137.70,132.93 L138.20,130.11 L138.70,133.39 L139.20,138.90 L139.70,147.58 L140.20,155.46 L140.70,163.43 L141.20,169.59 L141.70,173.88 L142.20,176.27 L142.70,177.84 L143.20,178.59 L143.70,179.56 L144.20,179.29 L144.70,179.41 L145.20,179.35 L145.70,179.53 L146.20,179.46 L146.70,179.34 L147.20,179.14 L147.70,179.55 L148.20,179.35 L148.70,179.20 L149.20,179.12 L149.70,179.50 L150.20,179.54 L150.70,179.13 L151.20,179.11 L151.70,179.36 L152.20,179.57 L152.70,179.14 L153.20,179.41 L153.70,179.15 L154.20,179.29 L154.70,179.19 L155.20,179.52 L155.70,179.21 L156.20,179.49 L156.70,179.40 L157.20,179.18 L157.70,179.19 L158.20,179.51 L158.70,179.49 L159.20,179.40 L159.70,179.34 L160.20,179.41 L160.70,179.54 L161.20,179.48 L161.70,179.24 L162.20,179.15 L162.70,179.58 L163.20,179.32 L163.70,179.22 L164.20,179.58 L164.70,179.18 L165.20,179.54 L165.70,179.30 L166.20,179.32 L166.70,179.29 L167.20,179.45 L167.70,179.39 L168.20,179.31 L168.70,179.39 L169.20,179.27 L169.70,179.38 L170.20,179.38 L170.70,179.59 L171.20,179.29 L171.70,179.36 L172.20,179.48 L172.70,179.22" stroke="#c42d55" stroke-width="0.9" fill="none" stroke-linejoin="round"/>
<path d="M118.70,179.21 L119.20,179.37 L119.70,179.51 L120.20,179.36 L120.70,179.55 L121.20,179.54 L121.70,179.38 L122.20,179.55 L122.70,179.38 L123.20,179.34 L123.70,179.58 L124.20,179.28 L124.70,179.56 L125.20,179.23 L125.70,179.21 L126.20,179.34 L126.70,179.57 L127.20,179.35 L127.70,179.41 L128.20,179.12 L128.70,179.53 L129.20,179.17 L129.70,179.10 L130.20,179.23 L130.70,179.19 L131.20,179.50 L131.70,179.11 L132.20,179.35 L132.70,179.12 L133.20,179.14 L133.70,179.52 L134.20,179.21 L134.70,179.13 L135.20,179.57 L135.70,179.42 L136.20,179.22 L136.70,179.52 L137.20,178.33 L137.70,177.62 L138.20,175.50 L138.70,173.03 L139.20,168.49 L139.70,162.26 L140.20,155.74 L140.70,147.70 L141.20,139.62 L141.70,133.83 L142.20,131.31 L142.70,132.04 L143.20,135.89 L143.70,140.46 L144.20,147.62 L144.70,154.30 L145.20,161.42 L145.70,166.27 L146.20,171.05 L146.70,173.91 L147.20,176.04 L147.70,177.65 L148.20,178.27 L148.70,178.97 L149.20,179.31 L149.70,179.16 L150.20,179.55 L150.70,179.10 L151.20,179.29 L151.70,179.40 L152.20,179.20 L152.70,179.47 L153.20,179.10 L153.70,179.31 L154.20,179.42 L154.70,179.22 L155.20,179.38 L155.70,179.51 L156.20,179.23 L156.70,179.58 L157.20,179.19 L157.70,179.47 L158.20,179.28 L158.70,179.11 L159.20,179.31 L159.70,179.27 L160.20,179.44 L160.70,179.60 L161.20,179.58 L161.70,179.53 L162.20,179.29 L162.70,179.38 L163.20,179.34 L163.70,179.15 L164.20,179.53 L164.70,179.49 L165.20,179.27 L165.70,179.59 L166.20,179.60 L166.70,179.42 L167.20,179.55 L167.70,179.42 L168.20,179.49 L168.70,179.31 L169.20,179.31 L169.70,179.50 L170.20,179.29 L170.70,179.36 L171.20,179.53 L171.70,179.13 L172.20,179.48 L172.70,179.53" stroke="#4665a6" stroke-width="0.9" fill="none" stroke-linejoin="round"/>
<rect x="118.40" y="124.40" width="54.90" height="55.20" fill="none" stroke="#2a2a2a" stroke-width="1.1"/>
<text x="171.00" y="132.10" font-size="7.5" text-anchor="end">16h</text>
<text x="113.90" y="182.10" font-size="7.6" text-anchor="end">0</text>
<line x1="115.80" y1="179.60" x2="118.40" y2="179.60" stroke="#000" stroke-width="0.9"/>
<line x1="120.40" y1="179.60" x2="120.40" y2="181.80" stroke="#000" stroke-width="0.8"/>
<line x1="129.90" y1="179.60" x2="129.90" y2="181.80" stroke="#000" stroke-width="0.8"/>
<line x1="144.40" y1="179.60" x2="144.40" y2="181.80" stroke="#000" stroke-width="0.8"/>
<line x1="158.90" y1="179.60" x2="158.90" y2="181.80" stroke="#000" stroke-width="0.8"/>
<line x1="173.40" y1="179.60" x2="173.40" y2="181.80" stroke="#000" stroke-width="0.8"/>
<line x1="123.26" y1="179.60" x2="123.26" y2="181.00" stroke="#000" stroke-width="0.6"/>
<line x1="124.93" y1="179.60" x2="124.93" y2="181.00" stroke="#000" stroke-width="0.6"/>
<line x1="126.12" y1="179.60" x2="126.12" y2="181.00" stroke="#000" stroke-width="0.6"/>
<line x1="127.04" y1="179.60" x2="127.04" y2="181.00" stroke="#000" stroke-width="0.6"/>
<line x1="127.79" y1="179.60" x2="127.79" y2="181.00" stroke="#000" stroke-width="0.6"/>
<line x1="128.43" y1="179.60" x2="128.43" y2="181.00" stroke="#000" stroke-width="0.6"/>
<line x1="128.98" y1="179.60" x2="128.98" y2="181.00" stroke="#000" stroke-width="0.6"/>
<line x1="129.47" y1="179.60" x2="129.47" y2="181.00" stroke="#000" stroke-width="0.6"/>
<line x1="134.26" y1="179.60" x2="134.26" y2="181.00" stroke="#000" stroke-width="0.6"/>
<line x1="136.82" y1="179.60" x2="136.82" y2="181.00" stroke="#000" stroke-width="0.6"/>
<line x1="138.63" y1="179.60" x2="138.63" y2="181.00" stroke="#000" stroke-width="0.6"/>
<line x1="140.04" y1="179.60" x2="140.04" y2="181.00" stroke="#000" stroke-width="0.6"/>
<line x1="141.18" y1="179.60" x2="141.18" y2="181.00" stroke="#000" stroke-width="0.6"/>
<line x1="142.15" y1="179.60" x2="142.15" y2="181.00" stroke="#000" stroke-width="0.6"/>
<line x1="142.99" y1="179.60" x2="142.99" y2="181.00" stroke="#000" stroke-width="0.6"/>
<line x1="143.74" y1="179.60" x2="143.74" y2="181.00" stroke="#000" stroke-width="0.6"/>
<line x1="148.76" y1="179.60" x2="148.76" y2="181.00" stroke="#000" stroke-width="0.6"/>
<line x1="151.32" y1="179.60" x2="151.32" y2="181.00" stroke="#000" stroke-width="0.6"/>
<line x1="153.13" y1="179.60" x2="153.13" y2="181.00" stroke="#000" stroke-width="0.6"/>
<line x1="154.54" y1="179.60" x2="154.54" y2="181.00" stroke="#000" stroke-width="0.6"/>
<line x1="155.68" y1="179.60" x2="155.68" y2="181.00" stroke="#000" stroke-width="0.6"/>
<line x1="156.65" y1="179.60" x2="156.65" y2="181.00" stroke="#000" stroke-width="0.6"/>
<line x1="157.49" y1="179.60" x2="157.49" y2="181.00" stroke="#000" stroke-width="0.6"/>
<line x1="158.24" y1="179.60" x2="158.24" y2="181.00" stroke="#000" stroke-width="0.6"/>
<line x1="163.26" y1="179.60" x2="163.26" y2="181.00" stroke="#000" stroke-width="0.6"/>
<line x1="165.82" y1="179.60" x2="165.82" y2="181.00" stroke="#000" stroke-width="0.6"/>
<line x1="167.63" y1="179.60" x2="167.63" y2="181.00" stroke="#000" stroke-width="0.6"/>
<line x1="169.04" y1="179.60" x2="169.04" y2="181.00" stroke="#000" stroke-width="0.6"/>
<line x1="170.18" y1="179.60" x2="170.18" y2="181.00" stroke="#000" stroke-width="0.6"/>
<line x1="171.15" y1="179.60" x2="171.15" y2="181.00" stroke="#000" stroke-width="0.6"/>
<line x1="171.99" y1="179.60" x2="171.99" y2="181.00" stroke="#000" stroke-width="0.6"/>
<line x1="172.74" y1="179.60" x2="172.74" y2="181.00" stroke="#000" stroke-width="0.6"/>
<text x="120.10" y="193.40" font-size="7.8">0</text>
<text x="124.90" y="193.40" font-size="8.0">10</text>
<text x="134.70" y="190.00" font-size="5.4">4</text>
<text x="139.00" y="193.40" font-size="8.0">10</text>
<text x="148.80" y="190.00" font-size="5.4">5</text>
<text x="152.00" y="193.40" font-size="8.0">10</text>
<text x="161.80" y="190.00" font-size="5.4">6</text>
<text x="164.00" y="193.40" font-size="8.0">10</text>
<text x="173.80" y="190.00" font-size="5.4">7</text>
<path d="M186.90,179.55 L187.40,179.28 L187.90,179.16 L188.40,179.21 L188.90,179.40 L189.40,179.47 L189.90,179.59 L190.40,179.28 L190.90,179.32 L191.40,179.42 L191.90,179.28 L192.40,179.38 L192.90,179.13 L193.40,179.23 L193.90,179.48 L194.40,179.15 L194.90,179.58 L195.40,179.33 L195.90,179.40 L196.40,179.48 L196.90,179.57 L197.40,179.21 L197.90,179.59 L198.40,179.32 L198.90,179.13 L199.40,179.53 L199.90,179.50 L200.40,179.30 L200.90,179.35 L201.40,178.76 L201.90,178.14 L202.40,177.68 L202.90,176.42 L203.40,174.72 L203.90,172.54 L204.40,168.83 L204.90,164.96 L205.40,160.29 L205.90,155.68 L206.40,148.91 L206.90,143.19 L207.40,138.23 L207.90,133.42 L208.40,131.08 L208.90,130.74 L209.40,132.86 L209.90,136.67 L210.40,142.40 L210.90,148.18 L211.40,154.01 L211.90,160.00 L212.40,165.02 L212.90,169.36 L213.40,172.92 L213.90,175.11 L214.40,176.84 L214.90,177.76 L215.40,178.61 L215.90,179.47 L216.40,179.28 L216.90,179.12 L217.40,179.49 L217.90,179.16 L218.40,179.59 L218.90,179.47 L219.40,179.48 L219.90,179.23 L220.40,179.13 L220.90,179.23 L221.40,179.44 L221.90,179.16 L222.40,179.44 L222.90,179.48 L223.40,179.15 L223.90,179.28 L224.40,179.25 L224.90,179.27 L225.40,179.11 L225.90,179.37 L226.40,179.18 L226.90,179.25 L227.40,179.17 L227.90,179.38 L228.40,179.24 L228.90,179.31 L229.40,179.45 L229.90,179.49 L230.40,179.29 L230.90,179.56 L231.40,179.14 L231.90,179.53 L232.40,179.59 L232.90,179.55 L233.40,179.14 L233.90,179.43 L234.40,179.53 L234.90,179.59 L235.40,179.58 L235.90,179.25 L236.40,179.28 L236.90,179.25 L237.40,179.23 L237.90,179.57 L238.40,179.30 L238.90,179.42 L239.40,179.19 L239.90,179.19 L240.40,179.15 L240.90,179.57" stroke="#c42d55" stroke-width="0.9" fill="none" stroke-linejoin="round"/>
<path d="M186.90,179.17 L187.40,179.14 L187.90,179.13 L188.40,179.55 L188.90,179.50 L189.40,179.54 L189.90,179.58 L190.40,179.18 L190.90,179.19 L191.40,179.28 L191.90,179.19 L192.40,179.28 L192.90,179.46 L193.40,179.55 L193.90,179.55 L194.40,179.22 L194.90,179.50 L195.40,179.44 L195.90,179.39 L196.40,179.59 L196.90,179.47 L197.40,179.46 L197.90,179.24 L198.40,179.42 L198.90,179.44 L199.40,179.12 L199.90,179.35 L200.40,179.17 L200.90,178.68 L201.40,178.38 L201.90,177.24 L202.40,175.81 L202.90,173.58 L203.40,171.10 L203.90,167.21 L204.40,162.84 L204.90,157.87 L205.40,151.24 L205.90,146.12 L206.40,139.27 L206.90,135.36 L207.40,132.26 L207.90,130.62 L208.40,131.50 L208.90,135.90 L209.40,143.87 L209.90,150.47 L210.40,157.58 L210.90,163.58 L211.40,169.17 L211.90,172.75 L212.40,175.52 L212.90,177.00 L213.40,178.40 L213.90,178.68 L214.40,179.46 L214.90,179.49 L215.40,179.25 L215.90,179.35 L216.40,179.55 L216.90,179.28 L217.40,179.56 L217.90,179.21 L218.40,179.25 L218.90,179.21 L219.40,179.29 L219.90,179.42 L220.40,179.40 L220.90,179.40 L221.40,179.15 L221.90,179.56 L222.40,179.16 L222.90,179.59 L223.40,179.50 L223.90,179.47 L224.40,179.15 L224.90,179.35 L225.40,179.41 L225.90,179.16 L226.40,179.48 L226.90,179.37 L227.40,179.33 L227.90,179.22 L228.40,179.22 L228.90,179.28 L229.40,179.43 L229.90,179.44 L230.40,179.52 L230.90,179.18 L231.40,179.27 L231.90,179.23 L232.40,179.52 L232.90,179.38 L233.40,179.21 L233.90,179.31 L234.40,179.54 L234.90,179.37 L235.40,179.16 L235.90,179.48 L236.40,179.50 L236.90,179.45 L237.40,179.25 L237.90,179.18 L238.40,179.52 L238.90,179.52 L239.40,179.48 L239.90,179.44 L240.40,179.34 L240.90,179.52" stroke="#4665a6" stroke-width="0.9" fill="none" stroke-linejoin="round"/>
<rect x="186.60" y="124.40" width="54.70" height="55.20" fill="none" stroke="#2a2a2a" stroke-width="1.1"/>
<text x="239.00" y="132.10" font-size="7.5" text-anchor="end">24h</text>
<text x="182.10" y="182.10" font-size="7.6" text-anchor="end">0</text>
<line x1="184.00" y1="179.60" x2="186.60" y2="179.60" stroke="#000" stroke-width="0.9"/>
<line x1="188.60" y1="179.60" x2="188.60" y2="181.80" stroke="#000" stroke-width="0.8"/>
<line x1="198.10" y1="179.60" x2="198.10" y2="181.80" stroke="#000" stroke-width="0.8"/>
<line x1="212.60" y1="179.60" x2="212.60" y2="181.80" stroke="#000" stroke-width="0.8"/>
<line x1="227.10" y1="179.60" x2="227.10" y2="181.80" stroke="#000" stroke-width="0.8"/>
<line x1="241.60" y1="179.60" x2="241.60" y2="181.80" stroke="#000" stroke-width="0.8"/>
<line x1="191.46" y1="179.60" x2="191.46" y2="181.00" stroke="#000" stroke-width="0.6"/>
<line x1="193.13" y1="179.60" x2="193.13" y2="181.00" stroke="#000" stroke-width="0.6"/>
<line x1="194.32" y1="179.60" x2="194.32" y2="181.00" stroke="#000" stroke-width="0.6"/>
<line x1="195.24" y1="179.60" x2="195.24" y2="181.00" stroke="#000" stroke-width="0.6"/>
<line x1="195.99" y1="179.60" x2="195.99" y2="181.00" stroke="#000" stroke-width="0.6"/>
<line x1="196.63" y1="179.60" x2="196.63" y2="181.00" stroke="#000" stroke-width="0.6"/>
<line x1="197.18" y1="179.60" x2="197.18" y2="181.00" stroke="#000" stroke-width="0.6"/>
<line x1="197.67" y1="179.60" x2="197.67" y2="181.00" stroke="#000" stroke-width="0.6"/>
<line x1="202.46" y1="179.60" x2="202.46" y2="181.00" stroke="#000" stroke-width="0.6"/>
<line x1="205.02" y1="179.60" x2="205.02" y2="181.00" stroke="#000" stroke-width="0.6"/>
<line x1="206.83" y1="179.60" x2="206.83" y2="181.00" stroke="#000" stroke-width="0.6"/>
<line x1="208.24" y1="179.60" x2="208.24" y2="181.00" stroke="#000" stroke-width="0.6"/>
<line x1="209.38" y1="179.60" x2="209.38" y2="181.00" stroke="#000" stroke-width="0.6"/>
<line x1="210.35" y1="179.60" x2="210.35" y2="181.00" stroke="#000" stroke-width="0.6"/>
<line x1="211.19" y1="179.60" x2="211.19" y2="181.00" stroke="#000" stroke-width="0.6"/>
<line x1="211.94" y1="179.60" x2="211.94" y2="181.00" stroke="#000" stroke-width="0.6"/>
<line x1="216.96" y1="179.60" x2="216.96" y2="181.00" stroke="#000" stroke-width="0.6"/>
<line x1="219.52" y1="179.60" x2="219.52" y2="181.00" stroke="#000" stroke-width="0.6"/>
<line x1="221.33" y1="179.60" x2="221.33" y2="181.00" stroke="#000" stroke-width="0.6"/>
<line x1="222.74" y1="179.60" x2="222.74" y2="181.00" stroke="#000" stroke-width="0.6"/>
<line x1="223.88" y1="179.60" x2="223.88" y2="181.00" stroke="#000" stroke-width="0.6"/>
<line x1="224.85" y1="179.60" x2="224.85" y2="181.00" stroke="#000" stroke-width="0.6"/>
<line x1="225.69" y1="179.60" x2="225.69" y2="181.00" stroke="#000" stroke-width="0.6"/>
<line x1="226.44" y1="179.60" x2="226.44" y2="181.00" stroke="#000" stroke-width="0.6"/>
<line x1="231.46" y1="179.60" x2="231.46" y2="181.00" stroke="#000" stroke-width="0.6"/>
<line x1="234.02" y1="179.60" x2="234.02" y2="181.00" stroke="#000" stroke-width="0.6"/>
<line x1="235.83" y1="179.60" x2="235.83" y2="181.00" stroke="#000" stroke-width="0.6"/>
<line x1="237.24" y1="179.60" x2="237.24" y2="181.00" stroke="#000" stroke-width="0.6"/>
<line x1="238.38" y1="179.60" x2="238.38" y2="181.00" stroke="#000" stroke-width="0.6"/>
<line x1="239.35" y1="179.60" x2="239.35" y2="181.00" stroke="#000" stroke-width="0.6"/>
<line x1="240.19" y1="179.60" x2="240.19" y2="181.00" stroke="#000" stroke-width="0.6"/>
<line x1="240.94" y1="179.60" x2="240.94" y2="181.00" stroke="#000" stroke-width="0.6"/>
<text x="188.30" y="193.40" font-size="7.8">0</text>
<text x="193.10" y="193.40" font-size="8.0">10</text>
<text x="202.90" y="190.00" font-size="5.4">4</text>
<text x="207.20" y="193.40" font-size="8.0">10</text>
<text x="217.00" y="190.00" font-size="5.4">5</text>
<text x="220.20" y="193.40" font-size="8.0">10</text>
<text x="230.00" y="190.00" font-size="5.4">6</text>
<text x="232.20" y="193.40" font-size="8.0">10</text>
<text x="242.00" y="190.00" font-size="5.4">7</text>
<text transform="translate(41.60,66.80) rotate(-90) scale(0.5899,1)" font-size="10.8" fill="#000" stroke="#000" stroke-width="0.18">Count</text>
<text transform="translate(41.60,161.20) rotate(-90) scale(0.5899,1)" font-size="10.8" fill="#000" stroke="#000" stroke-width="0.18">Count</text>
<rect x="248.30" y="31.20" width="18.40" height="8.40" fill="none" stroke="#111" stroke-width="1"/>
<rect x="248.30" y="39.60" width="18.40" height="8.40" fill="none" stroke="#111" stroke-width="1"/>
<line x1="249.10" y1="35.40" x2="265.90" y2="35.40" stroke="#c42d55" stroke-width="0.9"/>
<line x1="249.10" y1="43.90" x2="265.90" y2="43.90" stroke="#8aa0c8" stroke-width="1.0"/>
<text x="270.20" y="37.80" font-size="7.5" textLength="22.60" lengthAdjust="spacing">DMSO</text>
<text x="270.20" y="46.50" font-size="7.5" textLength="13.40" lengthAdjust="spacing">TDZ</text>
<line x1="39.30" y1="198.50" x2="103.40" y2="198.50" stroke="#000" stroke-width="1.0"/>
<path d="M107.40,198.50 L101.90,196.10 L102.80,198.50 L101.90,200.90 Z" stroke="none" stroke-width="1" fill="#000"/>
<text transform="translate(58.80,209.80) scale(0.6747,1)" font-size="9.6" fill="#000" stroke="#000" stroke-width="0.22">ROS (MFI)</text>
<text x="333.20" y="26.20" font-size="9" textLength="54.00" lengthAdjust="spacing">t(6;11) SHI-1</text>
<text x="333.70" y="119.60" font-size="9" textLength="74.00" lengthAdjust="spacing"><tspan font-style="italic">non</tspan>-t(6;11) HL60</text>
<path d="M332.90,86.14 L333.40,86.21 L333.90,85.81 L334.40,85.94 L334.90,86.25 L335.40,85.82 L335.90,86.25 L336.40,86.11 L336.90,85.81 L337.40,85.90 L337.90,85.93 L338.40,86.08 L338.90,86.20 L339.40,85.98 L339.90,86.25 L340.40,86.20 L340.90,86.11 L341.40,86.28 L341.90,86.10 L342.40,85.90 L342.90,85.95 L343.40,86.05 L343.90,85.57 L344.40,85.39 L344.90,85.24 L345.40,84.62 L345.90,84.32 L346.40,83.70 L346.90,83.20 L347.40,83.12 L347.90,82.78 L348.40,82.55 L348.90,82.78 L349.40,83.08 L349.90,83.06 L350.40,83.27 L350.90,83.58 L351.40,83.75 L351.90,83.55 L352.40,83.18 L352.90,82.23 L353.40,80.74 L353.90,78.43 L354.40,74.88 L354.90,71.07 L355.40,65.65 L355.90,59.45 L356.40,53.47 L356.90,47.85 L357.40,43.69 L357.90,40.31 L358.40,39.41 L358.90,40.33 L359.40,43.23 L359.90,46.43 L360.40,50.43 L360.90,56.14 L361.40,60.36 L361.90,64.87 L362.40,69.50 L362.90,73.15 L363.40,75.95 L363.90,79.22 L364.40,80.94 L364.90,82.75 L365.40,83.56 L365.90,84.33 L366.40,85.16 L366.90,85.79 L367.40,86.01 L367.90,86.03 L368.40,85.94 L368.90,86.04 L369.40,85.98 L369.90,85.89 L370.40,86.04 L370.90,86.09 L371.40,85.83 L371.90,86.19 L372.40,85.96 L372.90,86.10 L373.40,85.92 L373.90,86.24 L374.40,85.81 L374.90,86.12 L375.40,86.27 L375.90,86.16 L376.40,86.10 L376.90,86.29 L377.40,86.09 L377.90,86.09 L378.40,85.95 L378.90,86.12 L379.40,86.17 L379.90,86.19 L380.40,85.93 L380.90,85.83 L381.40,86.04 L381.90,86.19 L382.40,85.90 L382.90,86.10 L383.40,86.19 L383.90,86.24 L384.40,85.91 L384.90,85.90 L385.40,85.98 L385.90,86.07 L386.40,86.02 L386.90,86.19" stroke="#c42d55" stroke-width="0.9" fill="none" stroke-linejoin="round"/>
<path d="M332.90,85.82 L333.40,86.12 L333.90,85.98 L334.40,85.89 L334.90,85.89 L335.40,86.07 L335.90,86.15 L336.40,86.03 L336.90,86.24 L337.40,85.88 L337.90,86.12 L338.40,85.87 L338.90,86.17 L339.40,86.11 L339.90,86.17 L340.40,86.09 L340.90,86.21 L341.40,86.30 L341.90,85.94 L342.40,86.16 L342.90,86.18 L343.40,86.15 L343.90,86.06 L344.40,85.51 L344.90,84.95 L345.40,84.31 L345.90,83.67 L346.40,82.37 L346.90,81.30 L347.40,80.66 L347.90,79.06 L348.40,78.11 L348.90,77.63 L349.40,77.98 L349.90,77.85 L350.40,78.66 L350.90,79.89 L351.40,80.67 L351.90,80.64 L352.40,81.05 L352.90,81.05 L353.40,80.30 L353.90,78.78 L354.40,76.52 L354.90,73.15 L355.40,69.90 L355.90,65.90 L356.40,60.42 L356.90,55.64 L357.40,51.66 L357.90,46.25 L358.40,43.07 L358.90,40.36 L359.40,39.62 L359.90,40.06 L360.40,42.39 L360.90,45.53 L361.40,50.42 L361.90,54.15 L362.40,58.95 L362.90,63.23 L363.40,67.78 L363.90,71.20 L364.40,74.80 L364.90,77.79 L365.40,80.05 L365.90,81.88 L366.40,83.03 L366.90,84.28 L367.40,84.79 L367.90,85.48 L368.40,85.66 L368.90,86.05 L369.40,86.03 L369.90,85.87 L370.40,86.30 L370.90,85.88 L371.40,86.07 L371.90,86.02 L372.40,85.97 L372.90,85.88 L373.40,86.11 L373.90,86.09 L374.40,85.82 L374.90,86.26 L375.40,85.98 L375.90,85.98 L376.40,86.29 L376.90,86.00 L377.40,85.96 L377.90,85.83 L378.40,86.13 L378.90,85.81 L379.40,86.04 L379.90,86.06 L380.40,85.85 L380.90,86.28 L381.40,85.94 L381.90,85.99 L382.40,86.13 L382.90,85.87 L383.40,86.12 L383.90,86.06 L384.40,86.04 L384.90,85.91 L385.40,86.19 L385.90,86.08 L386.40,86.09 L386.90,86.02" stroke="#4665a6" stroke-width="0.9" fill="none" stroke-linejoin="round"/>
<rect x="332.60" y="31.60" width="55.00" height="54.70" fill="none" stroke="#2a2a2a" stroke-width="1.1"/>
<text x="383.60" y="39.70" font-size="7.0" text-anchor="end">6h</text>
<text x="326.30" y="88.80" font-size="7.6" text-anchor="end">0</text>
<line x1="330.00" y1="86.30" x2="332.60" y2="86.30" stroke="#000" stroke-width="0.9"/>
<line x1="332.60" y1="86.30" x2="332.60" y2="88.50" stroke="#000" stroke-width="0.8"/>
<line x1="360.10" y1="86.30" x2="360.10" y2="88.50" stroke="#000" stroke-width="0.8"/>
<line x1="387.60" y1="86.30" x2="387.60" y2="88.50" stroke="#000" stroke-width="0.8"/>
<line x1="340.88" y1="86.30" x2="340.88" y2="87.70" stroke="#000" stroke-width="0.6"/>
<line x1="345.72" y1="86.30" x2="345.72" y2="87.70" stroke="#000" stroke-width="0.6"/>
<line x1="349.16" y1="86.30" x2="349.16" y2="87.70" stroke="#000" stroke-width="0.6"/>
<line x1="351.82" y1="86.30" x2="351.82" y2="87.70" stroke="#000" stroke-width="0.6"/>
<line x1="354.00" y1="86.30" x2="354.00" y2="87.70" stroke="#000" stroke-width="0.6"/>
<line x1="355.84" y1="86.30" x2="355.84" y2="87.70" stroke="#000" stroke-width="0.6"/>
<line x1="357.43" y1="86.30" x2="357.43" y2="87.70" stroke="#000" stroke-width="0.6"/>
<line x1="358.84" y1="86.30" x2="358.84" y2="87.70" stroke="#000" stroke-width="0.6"/>
<line x1="368.38" y1="86.30" x2="368.38" y2="87.70" stroke="#000" stroke-width="0.6"/>
<line x1="373.22" y1="86.30" x2="373.22" y2="87.70" stroke="#000" stroke-width="0.6"/>
<line x1="376.66" y1="86.30" x2="376.66" y2="87.70" stroke="#000" stroke-width="0.6"/>
<line x1="379.32" y1="86.30" x2="379.32" y2="87.70" stroke="#000" stroke-width="0.6"/>
<line x1="381.50" y1="86.30" x2="381.50" y2="87.70" stroke="#000" stroke-width="0.6"/>
<line x1="383.34" y1="86.30" x2="383.34" y2="87.70" stroke="#000" stroke-width="0.6"/>
<line x1="384.93" y1="86.30" x2="384.93" y2="87.70" stroke="#000" stroke-width="0.6"/>
<line x1="386.34" y1="86.30" x2="386.34" y2="87.70" stroke="#000" stroke-width="0.6"/>
<text x="326.90" y="99.30" font-size="7.9">10</text>
<text x="335.90" y="95.90" font-size="5.3">2</text>
<text x="354.40" y="99.30" font-size="7.9">10</text>
<text x="363.40" y="95.90" font-size="5.3">3</text>
<text x="381.90" y="99.30" font-size="7.9">10</text>
<text x="390.90" y="95.90" font-size="5.3">4</text>
<path d="M403.30,85.89 L403.80,86.15 L404.30,85.89 L404.80,86.10 L405.30,86.05 L405.80,86.16 L406.30,86.05 L406.80,85.81 L407.30,85.97 L407.80,85.90 L408.30,86.13 L408.80,86.14 L409.30,86.15 L409.80,86.01 L410.30,85.98 L410.80,85.91 L411.30,86.28 L411.80,85.94 L412.30,85.86 L412.80,85.54 L413.30,85.52 L413.80,85.04 L414.30,84.80 L414.80,84.26 L415.30,83.39 L415.80,83.11 L416.30,82.67 L416.80,82.26 L417.30,81.94 L417.80,81.98 L418.30,81.88 L418.80,81.74 L419.30,81.45 L419.80,81.04 L420.30,80.20 L420.80,79.33 L421.30,77.36 L421.80,75.33 L422.30,72.32 L422.80,69.61 L423.30,65.75 L423.80,61.70 L424.30,56.32 L424.80,51.48 L425.30,47.33 L425.80,43.68 L426.30,39.52 L426.80,37.06 L427.30,36.13 L427.80,37.07 L428.30,39.88 L428.80,44.46 L429.30,50.56 L429.80,56.83 L430.30,62.90 L430.80,68.36 L431.30,73.98 L431.80,77.44 L432.30,80.71 L432.80,82.75 L433.30,83.80 L433.80,84.88 L434.30,85.30 L434.80,86.08 L435.30,86.29 L435.80,86.11 L436.30,86.00 L436.80,85.83 L437.30,85.81 L437.80,86.06 L438.30,86.09 L438.80,86.25 L439.30,85.98 L439.80,86.19 L440.30,86.22 L440.80,86.29 L441.30,86.30 L441.80,85.96 L442.30,86.24 L442.80,85.82 L443.30,86.26 L443.80,85.87 L444.30,86.24 L444.80,86.29 L445.30,85.94 L445.80,86.18 L446.30,85.93 L446.80,86.21 L447.30,86.27 L447.80,85.91 L448.30,85.94 L448.80,85.87 L449.30,85.94 L449.80,86.26 L450.30,85.99 L450.80,85.95 L451.30,86.07 L451.80,85.83 L452.30,86.17 L452.80,85.82 L453.30,85.94 L453.80,86.29 L454.30,86.29 L454.80,85.97 L455.30,85.89 L455.80,86.26 L456.30,86.14 L456.80,85.94 L457.30,86.22" stroke="#c42d55" stroke-width="0.9" fill="none" stroke-linejoin="round"/>
<path d="M403.30,85.87 L403.80,86.06 L404.30,86.27 L404.80,86.12 L405.30,86.01 L405.80,86.08 L406.30,85.96 L406.80,86.23 L407.30,85.90 L407.80,86.12 L408.30,85.98 L408.80,85.99 L409.30,85.57 L409.80,85.09 L410.30,84.10 L410.80,82.87 L411.30,81.37 L411.80,79.36 L412.30,76.78 L412.80,73.55 L413.30,68.69 L413.80,64.38 L414.30,59.45 L414.80,55.39 L415.30,50.89 L415.80,47.14 L416.30,45.50 L416.80,45.78 L417.30,47.74 L417.80,50.23 L418.30,53.04 L418.80,57.50 L419.30,60.94 L419.80,64.56 L420.30,67.36 L420.80,70.01 L421.30,72.50 L421.80,74.34 L422.30,75.43 L422.80,76.47 L423.30,77.36 L423.80,78.08 L424.30,78.78 L424.80,79.95 L425.30,79.82 L425.80,79.96 L426.30,79.70 L426.80,79.25 L427.30,78.30 L427.80,76.14 L428.30,73.81 L428.80,70.92 L429.30,67.14 L429.80,63.68 L430.30,59.69 L430.80,54.75 L431.30,50.24 L431.80,47.46 L432.30,43.83 L432.80,41.89 L433.30,42.82 L433.80,43.33 L434.30,45.31 L434.80,48.48 L435.30,52.27 L435.80,55.97 L436.30,59.31 L436.80,63.21 L437.30,67.30 L437.80,71.07 L438.30,73.53 L438.80,76.25 L439.30,78.88 L439.80,80.50 L440.30,81.79 L440.80,82.97 L441.30,84.07 L441.80,84.76 L442.30,85.18 L442.80,85.74 L443.30,86.20 L443.80,86.21 L444.30,85.95 L444.80,86.12 L445.30,86.02 L445.80,86.10 L446.30,86.04 L446.80,86.23 L447.30,86.28 L447.80,85.80 L448.30,86.11 L448.80,86.25 L449.30,85.98 L449.80,85.91 L450.30,86.22 L450.80,86.00 L451.30,86.13 L451.80,86.04 L452.30,86.29 L452.80,86.28 L453.30,85.80 L453.80,85.87 L454.30,86.06 L454.80,86.02 L455.30,86.17 L455.80,85.91 L456.30,86.09 L456.80,85.83 L457.30,85.92" stroke="#4665a6" stroke-width="0.9" fill="none" stroke-linejoin="round"/>
<rect x="403.00" y="31.60" width="54.80" height="54.70" fill="none" stroke="#2a2a2a" stroke-width="1.1"/>
<text x="454.90" y="39.70" font-size="7.0" text-anchor="end">24h</text>
<text x="396.70" y="88.80" font-size="7.6" text-anchor="end">0</text>
<line x1="400.40" y1="86.30" x2="403.00" y2="86.30" stroke="#000" stroke-width="0.9"/>
<line x1="403.00" y1="86.30" x2="403.00" y2="88.50" stroke="#000" stroke-width="0.8"/>
<line x1="430.40" y1="86.30" x2="430.40" y2="88.50" stroke="#000" stroke-width="0.8"/>
<line x1="457.80" y1="86.30" x2="457.80" y2="88.50" stroke="#000" stroke-width="0.8"/>
<line x1="411.25" y1="86.30" x2="411.25" y2="87.70" stroke="#000" stroke-width="0.6"/>
<line x1="416.07" y1="86.30" x2="416.07" y2="87.70" stroke="#000" stroke-width="0.6"/>
<line x1="419.50" y1="86.30" x2="419.50" y2="87.70" stroke="#000" stroke-width="0.6"/>
<line x1="422.15" y1="86.30" x2="422.15" y2="87.70" stroke="#000" stroke-width="0.6"/>
<line x1="424.32" y1="86.30" x2="424.32" y2="87.70" stroke="#000" stroke-width="0.6"/>
<line x1="426.16" y1="86.30" x2="426.16" y2="87.70" stroke="#000" stroke-width="0.6"/>
<line x1="427.74" y1="86.30" x2="427.74" y2="87.70" stroke="#000" stroke-width="0.6"/>
<line x1="429.15" y1="86.30" x2="429.15" y2="87.70" stroke="#000" stroke-width="0.6"/>
<line x1="438.65" y1="86.30" x2="438.65" y2="87.70" stroke="#000" stroke-width="0.6"/>
<line x1="443.47" y1="86.30" x2="443.47" y2="87.70" stroke="#000" stroke-width="0.6"/>
<line x1="446.90" y1="86.30" x2="446.90" y2="87.70" stroke="#000" stroke-width="0.6"/>
<line x1="449.55" y1="86.30" x2="449.55" y2="87.70" stroke="#000" stroke-width="0.6"/>
<line x1="451.72" y1="86.30" x2="451.72" y2="87.70" stroke="#000" stroke-width="0.6"/>
<line x1="453.56" y1="86.30" x2="453.56" y2="87.70" stroke="#000" stroke-width="0.6"/>
<line x1="455.14" y1="86.30" x2="455.14" y2="87.70" stroke="#000" stroke-width="0.6"/>
<line x1="456.55" y1="86.30" x2="456.55" y2="87.70" stroke="#000" stroke-width="0.6"/>
<text x="397.30" y="99.30" font-size="7.9">10</text>
<text x="406.30" y="95.90" font-size="5.3">2</text>
<text x="424.70" y="99.30" font-size="7.9">10</text>
<text x="433.70" y="95.90" font-size="5.3">3</text>
<text x="452.10" y="99.30" font-size="7.9">10</text>
<text x="461.10" y="95.90" font-size="5.3">4</text>
<path d="M332.90,179.29 L333.40,179.22 L333.90,179.57 L334.40,179.68 L334.90,179.60 L335.40,179.61 L335.90,179.66 L336.40,179.67 L336.90,179.42 L337.40,179.26 L337.90,179.47 L338.40,179.23 L338.90,179.25 L339.40,179.67 L339.90,179.40 L340.40,179.50 L340.90,179.64 L341.40,179.22 L341.90,179.57 L342.40,179.42 L342.90,179.38 L343.40,178.83 L343.90,178.50 L344.40,177.95 L344.90,176.96 L345.40,175.95 L345.90,174.14 L346.40,172.82 L346.90,172.31 L347.40,171.90 L347.90,171.88 L348.40,172.50 L348.90,173.12 L349.40,174.15 L349.90,175.03 L350.40,175.98 L350.90,175.54 L351.40,175.09 L351.90,174.12 L352.40,172.37 L352.90,170.99 L353.40,168.43 L353.90,164.94 L354.40,161.34 L354.90,157.82 L355.40,154.26 L355.90,149.88 L356.40,145.74 L356.90,143.08 L357.40,139.80 L357.90,137.75 L358.40,136.82 L358.90,136.33 L359.40,137.89 L359.90,139.63 L360.40,142.25 L360.90,144.48 L361.40,148.67 L361.90,151.29 L362.40,155.43 L362.90,159.03 L363.40,161.42 L363.90,165.08 L364.40,167.19 L364.90,169.64 L365.40,171.68 L365.90,173.90 L366.40,175.10 L366.90,176.44 L367.40,176.86 L367.90,177.61 L368.40,178.26 L368.90,178.75 L369.40,179.10 L369.90,179.29 L370.40,179.46 L370.90,179.39 L371.40,179.63 L371.90,179.59 L372.40,179.67 L372.90,179.34 L373.40,179.42 L373.90,179.63 L374.40,179.26 L374.90,179.57 L375.40,179.49 L375.90,179.62 L376.40,179.56 L376.90,179.28 L377.40,179.53 L377.90,179.62 L378.40,179.45 L378.90,179.54 L379.40,179.25 L379.90,179.64 L380.40,179.21 L380.90,179.67 L381.40,179.25 L381.90,179.37 L382.40,179.59 L382.90,179.46 L383.40,179.56 L383.90,179.57 L384.40,179.60 L384.90,179.52 L385.40,179.20 L385.90,179.20 L386.40,179.24 L386.90,179.65 L387.40,179.56" stroke="#c42d55" stroke-width="0.9" fill="none" stroke-linejoin="round"/>
<path d="M332.90,179.25 L333.40,179.67 L333.90,179.34 L334.40,179.55 L334.90,179.21 L335.40,179.69 L335.90,179.30 L336.40,179.53 L336.90,179.63 L337.40,179.70 L337.90,179.28 L338.40,179.44 L338.90,179.61 L339.40,179.48 L339.90,179.24 L340.40,179.59 L340.90,179.41 L341.40,179.63 L341.90,179.61 L342.40,179.31 L342.90,179.34 L343.40,179.22 L343.90,178.81 L344.40,178.12 L344.90,176.88 L345.40,175.77 L345.90,174.60 L346.40,173.39 L346.90,172.11 L347.40,171.54 L347.90,171.67 L348.40,172.61 L348.90,173.99 L349.40,175.28 L349.90,175.97 L350.40,176.99 L350.90,177.29 L351.40,177.76 L351.90,177.05 L352.40,176.65 L352.90,175.28 L353.40,173.77 L353.90,172.10 L354.40,170.08 L354.90,166.52 L355.40,163.57 L355.90,159.48 L356.40,156.11 L356.90,152.10 L357.40,147.21 L357.90,144.03 L358.40,141.08 L358.90,138.31 L359.40,136.52 L359.90,137.25 L360.40,137.12 L360.90,138.55 L361.40,140.30 L361.90,143.16 L362.40,144.96 L362.90,147.72 L363.40,150.70 L363.90,154.41 L364.40,157.01 L364.90,160.26 L365.40,162.66 L365.90,165.81 L366.40,167.44 L366.90,169.46 L367.40,171.60 L367.90,173.14 L368.40,174.45 L368.90,175.55 L369.40,176.76 L369.90,176.96 L370.40,177.96 L370.90,178.45 L371.40,178.85 L371.90,179.05 L372.40,179.29 L372.90,179.68 L373.40,179.65 L373.90,179.35 L374.40,179.60 L374.90,179.69 L375.40,179.40 L375.90,179.41 L376.40,179.44 L376.90,179.35 L377.40,179.65 L377.90,179.27 L378.40,179.34 L378.90,179.68 L379.40,179.64 L379.90,179.45 L380.40,179.45 L380.90,179.56 L381.40,179.64 L381.90,179.50 L382.40,179.63 L382.90,179.40 L383.40,179.27 L383.90,179.63 L384.40,179.41 L384.90,179.33 L385.40,179.62 L385.90,179.29 L386.40,179.23 L386.90,179.51 L387.40,179.49" stroke="#4665a6" stroke-width="0.9" fill="none" stroke-linejoin="round"/>
<rect x="332.60" y="124.70" width="55.60" height="55.00" fill="none" stroke="#2a2a2a" stroke-width="1.1"/>
<text x="384.20" y="131.70" font-size="7.0" text-anchor="end">6h</text>
<text x="326.30" y="182.20" font-size="7.6" text-anchor="end">0</text>
<line x1="330.00" y1="179.70" x2="332.60" y2="179.70" stroke="#000" stroke-width="0.9"/>
<line x1="332.60" y1="179.70" x2="332.60" y2="181.90" stroke="#000" stroke-width="0.8"/>
<line x1="360.40" y1="179.70" x2="360.40" y2="181.90" stroke="#000" stroke-width="0.8"/>
<line x1="388.20" y1="179.70" x2="388.20" y2="181.90" stroke="#000" stroke-width="0.8"/>
<line x1="340.97" y1="179.70" x2="340.97" y2="181.10" stroke="#000" stroke-width="0.6"/>
<line x1="345.86" y1="179.70" x2="345.86" y2="181.10" stroke="#000" stroke-width="0.6"/>
<line x1="349.34" y1="179.70" x2="349.34" y2="181.10" stroke="#000" stroke-width="0.6"/>
<line x1="352.03" y1="179.70" x2="352.03" y2="181.10" stroke="#000" stroke-width="0.6"/>
<line x1="354.23" y1="179.70" x2="354.23" y2="181.10" stroke="#000" stroke-width="0.6"/>
<line x1="356.09" y1="179.70" x2="356.09" y2="181.10" stroke="#000" stroke-width="0.6"/>
<line x1="357.71" y1="179.70" x2="357.71" y2="181.10" stroke="#000" stroke-width="0.6"/>
<line x1="359.13" y1="179.70" x2="359.13" y2="181.10" stroke="#000" stroke-width="0.6"/>
<line x1="368.77" y1="179.70" x2="368.77" y2="181.10" stroke="#000" stroke-width="0.6"/>
<line x1="373.66" y1="179.70" x2="373.66" y2="181.10" stroke="#000" stroke-width="0.6"/>
<line x1="377.14" y1="179.70" x2="377.14" y2="181.10" stroke="#000" stroke-width="0.6"/>
<line x1="379.83" y1="179.70" x2="379.83" y2="181.10" stroke="#000" stroke-width="0.6"/>
<line x1="382.03" y1="179.70" x2="382.03" y2="181.10" stroke="#000" stroke-width="0.6"/>
<line x1="383.89" y1="179.70" x2="383.89" y2="181.10" stroke="#000" stroke-width="0.6"/>
<line x1="385.51" y1="179.70" x2="385.51" y2="181.10" stroke="#000" stroke-width="0.6"/>
<line x1="386.93" y1="179.70" x2="386.93" y2="181.10" stroke="#000" stroke-width="0.6"/>
<text x="326.90" y="193.00" font-size="7.9">10</text>
<text x="335.90" y="189.60" font-size="5.3">2</text>
<text x="354.70" y="193.00" font-size="7.9">10</text>
<text x="363.70" y="189.60" font-size="5.3">3</text>
<text x="382.50" y="193.00" font-size="7.9">10</text>
<text x="391.50" y="189.60" font-size="5.3">4</text>
<path d="M403.50,179.28 L404.00,179.44 L404.50,179.50 L405.00,179.23 L405.50,179.31 L406.00,179.53 L406.50,179.58 L407.00,179.53 L407.50,179.48 L408.00,179.21 L408.50,179.30 L409.00,179.24 L409.50,179.29 L410.00,179.28 L410.50,179.67 L411.00,179.44 L411.50,179.22 L412.00,179.23 L412.50,179.58 L413.00,179.49 L413.50,178.72 L414.00,178.41 L414.50,177.76 L415.00,177.37 L415.50,176.48 L416.00,175.81 L416.50,175.61 L417.00,175.30 L417.50,174.87 L418.00,175.35 L418.50,175.79 L419.00,176.55 L419.50,177.00 L420.00,177.37 L420.50,177.59 L421.00,178.04 L421.50,177.43 L422.00,177.06 L422.50,175.93 L423.00,174.93 L423.50,173.11 L424.00,170.76 L424.50,168.42 L425.00,165.71 L425.50,161.99 L426.00,158.18 L426.50,153.35 L427.00,149.69 L427.50,145.22 L428.00,140.43 L428.50,137.36 L429.00,133.37 L429.50,130.39 L430.00,129.90 L430.50,130.58 L431.00,132.24 L431.50,135.53 L432.00,140.53 L432.50,145.56 L433.00,150.78 L433.50,155.73 L434.00,160.42 L434.50,164.81 L435.00,168.49 L435.50,171.58 L436.00,173.64 L436.50,175.29 L437.00,176.78 L437.50,177.77 L438.00,178.40 L438.50,179.09 L439.00,179.34 L439.50,179.47 L440.00,179.43 L440.50,179.39 L441.00,179.47 L441.50,179.54 L442.00,179.58 L442.50,179.59 L443.00,179.44 L443.50,179.51 L444.00,179.41 L444.50,179.69 L445.00,179.52 L445.50,179.27 L446.00,179.58 L446.50,179.42 L447.00,179.45 L447.50,179.56 L448.00,179.21 L448.50,179.55 L449.00,179.31 L449.50,179.62 L450.00,179.67 L450.50,179.26 L451.00,179.48 L451.50,179.67 L452.00,179.51 L452.50,179.48 L453.00,179.33 L453.50,179.65 L454.00,179.59 L454.50,179.22 L455.00,179.33 L455.50,179.62 L456.00,179.53 L456.50,179.52 L457.00,179.36 L457.50,179.39" stroke="#c42d55" stroke-width="0.9" fill="none" stroke-linejoin="round"/>
<path d="M403.50,179.28 L404.00,179.29 L404.50,179.44 L405.00,179.33 L405.50,179.33 L406.00,179.32 L406.50,179.46 L407.00,179.31 L407.50,179.35 L408.00,179.24 L408.50,179.64 L409.00,179.26 L409.50,179.70 L410.00,179.32 L410.50,179.41 L411.00,179.45 L411.50,179.22 L412.00,179.41 L412.50,179.49 L413.00,179.31 L413.50,178.59 L414.00,178.28 L414.50,177.84 L415.00,177.15 L415.50,176.47 L416.00,175.69 L416.50,175.47 L417.00,175.18 L417.50,175.18 L418.00,175.67 L418.50,176.29 L419.00,176.69 L419.50,177.33 L420.00,178.12 L420.50,178.64 L421.00,179.13 L421.50,179.55 L422.00,179.63 L422.50,179.41 L423.00,179.41 L423.50,179.66 L424.00,178.79 L424.50,178.74 L425.00,177.93 L425.50,177.17 L426.00,176.06 L426.50,175.13 L427.00,173.21 L427.50,170.60 L428.00,168.53 L428.50,165.27 L429.00,161.08 L429.50,157.03 L430.00,152.19 L430.50,147.96 L431.00,144.10 L431.50,139.76 L432.00,137.60 L432.50,135.78 L433.00,135.04 L433.50,136.64 L434.00,139.09 L434.50,142.15 L435.00,146.57 L435.50,150.29 L436.00,155.17 L436.50,159.70 L437.00,164.10 L437.50,167.37 L438.00,170.34 L438.50,172.68 L439.00,174.61 L439.50,175.93 L440.00,177.01 L440.50,178.08 L441.00,178.67 L441.50,178.96 L442.00,179.20 L442.50,179.53 L443.00,179.43 L443.50,179.29 L444.00,179.61 L444.50,179.54 L445.00,179.21 L445.50,179.29 L446.00,179.44 L446.50,179.64 L447.00,179.25 L447.50,179.36 L448.00,179.29 L448.50,179.20 L449.00,179.26 L449.50,179.49 L450.00,179.62 L450.50,179.56 L451.00,179.44 L451.50,179.45 L452.00,179.61 L452.50,179.61 L453.00,179.38 L453.50,179.40 L454.00,179.52 L454.50,179.20 L455.00,179.38 L455.50,179.68 L456.00,179.49 L456.50,179.31 L457.00,179.55 L457.50,179.35" stroke="#4665a6" stroke-width="0.9" fill="none" stroke-linejoin="round"/>
<rect x="403.20" y="124.70" width="54.80" height="55.00" fill="none" stroke="#2a2a2a" stroke-width="1.1"/>
<text x="455.10" y="131.70" font-size="7.0" text-anchor="end">24h</text>
<text x="396.90" y="182.20" font-size="7.6" text-anchor="end">0</text>
<line x1="400.60" y1="179.70" x2="403.20" y2="179.70" stroke="#000" stroke-width="0.9"/>
<line x1="403.20" y1="179.70" x2="403.20" y2="181.90" stroke="#000" stroke-width="0.8"/>
<line x1="430.60" y1="179.70" x2="430.60" y2="181.90" stroke="#000" stroke-width="0.8"/>
<line x1="458.00" y1="179.70" x2="458.00" y2="181.90" stroke="#000" stroke-width="0.8"/>
<line x1="411.45" y1="179.70" x2="411.45" y2="181.10" stroke="#000" stroke-width="0.6"/>
<line x1="416.27" y1="179.70" x2="416.27" y2="181.10" stroke="#000" stroke-width="0.6"/>
<line x1="419.70" y1="179.70" x2="419.70" y2="181.10" stroke="#000" stroke-width="0.6"/>
<line x1="422.35" y1="179.70" x2="422.35" y2="181.10" stroke="#000" stroke-width="0.6"/>
<line x1="424.52" y1="179.70" x2="424.52" y2="181.10" stroke="#000" stroke-width="0.6"/>
<line x1="426.36" y1="179.70" x2="426.36" y2="181.10" stroke="#000" stroke-width="0.6"/>
<line x1="427.94" y1="179.70" x2="427.94" y2="181.10" stroke="#000" stroke-width="0.6"/>
<line x1="429.35" y1="179.70" x2="429.35" y2="181.10" stroke="#000" stroke-width="0.6"/>
<line x1="438.85" y1="179.70" x2="438.85" y2="181.10" stroke="#000" stroke-width="0.6"/>
<line x1="443.67" y1="179.70" x2="443.67" y2="181.10" stroke="#000" stroke-width="0.6"/>
<line x1="447.10" y1="179.70" x2="447.10" y2="181.10" stroke="#000" stroke-width="0.6"/>
<line x1="449.75" y1="179.70" x2="449.75" y2="181.10" stroke="#000" stroke-width="0.6"/>
<line x1="451.92" y1="179.70" x2="451.92" y2="181.10" stroke="#000" stroke-width="0.6"/>
<line x1="453.76" y1="179.70" x2="453.76" y2="181.10" stroke="#000" stroke-width="0.6"/>
<line x1="455.34" y1="179.70" x2="455.34" y2="181.10" stroke="#000" stroke-width="0.6"/>
<line x1="456.75" y1="179.70" x2="456.75" y2="181.10" stroke="#000" stroke-width="0.6"/>
<text x="397.50" y="193.00" font-size="7.9">10</text>
<text x="406.50" y="189.60" font-size="5.3">2</text>
<text x="424.90" y="193.00" font-size="7.9">10</text>
<text x="433.90" y="189.60" font-size="5.3">3</text>
<text x="452.30" y="193.00" font-size="7.9">10</text>
<text x="461.30" y="189.60" font-size="5.3">4</text>
<text transform="translate(316.60,67.40) rotate(-90) scale(0.5899,1)" font-size="10.8" fill="#000" stroke="#000" stroke-width="0.18">Count</text>
<text transform="translate(316.80,162.00) rotate(-90) scale(0.5899,1)" font-size="10.8" fill="#000" stroke="#000" stroke-width="0.18">Count</text>
<rect x="464.00" y="31.20" width="18.40" height="8.40" fill="none" stroke="#111" stroke-width="1"/>
<rect x="464.00" y="39.60" width="18.40" height="8.40" fill="none" stroke="#111" stroke-width="1"/>
<line x1="464.80" y1="35.40" x2="481.60" y2="35.40" stroke="#c42d55" stroke-width="0.9"/>
<line x1="464.80" y1="43.90" x2="481.60" y2="43.90" stroke="#8aa0c8" stroke-width="1.0"/>
<text x="485.80" y="37.80" font-size="7.5" textLength="22.60" lengthAdjust="spacing">DMSO</text>
<text x="485.80" y="46.50" font-size="7.5" textLength="13.40" lengthAdjust="spacing">TDZ</text>
<line x1="320.40" y1="198.50" x2="384.10" y2="198.50" stroke="#000" stroke-width="1.0"/>
<path d="M388.10,198.50 L382.60,196.10 L383.50,198.50 L382.60,200.90 Z" stroke="none" stroke-width="1" fill="#000"/>
<text transform="translate(341.20,210.00) scale(0.6990,1)" font-size="9.6" fill="#000" stroke="#000" stroke-width="0.22">TMRE (MFI)</text>
<line x1="50.20" y1="227.50" x2="50.20" y2="315.80" stroke="#000" stroke-width="1.1"/>
<line x1="49.70" y1="315.30" x2="166.30" y2="315.30" stroke="#000" stroke-width="1.1"/>
<line x1="47.00" y1="315.30" x2="50.20" y2="315.30" stroke="#000" stroke-width="0.9"/>
<text x="43.90" y="318.20" font-size="8.4" text-anchor="end">0</text>
<line x1="47.00" y1="301.08" x2="50.20" y2="301.08" stroke="#000" stroke-width="0.9"/>
<text x="43.90" y="303.98" font-size="8.4" text-anchor="end">20</text>
<line x1="47.00" y1="286.87" x2="50.20" y2="286.87" stroke="#000" stroke-width="0.9"/>
<text x="43.90" y="289.77" font-size="8.4" text-anchor="end">40</text>
<line x1="47.00" y1="272.65" x2="50.20" y2="272.65" stroke="#000" stroke-width="0.9"/>
<text x="43.90" y="275.55" font-size="8.4" text-anchor="end">60</text>
<line x1="47.00" y1="258.43" x2="50.20" y2="258.43" stroke="#000" stroke-width="0.9"/>
<text x="43.90" y="261.33" font-size="8.4" text-anchor="end">80</text>
<line x1="47.00" y1="244.22" x2="50.20" y2="244.22" stroke="#000" stroke-width="0.9"/>
<text x="43.90" y="247.12" font-size="8.4" text-anchor="end">100</text>
<line x1="47.00" y1="230.00" x2="50.20" y2="230.00" stroke="#000" stroke-width="0.9"/>
<text x="43.90" y="232.90" font-size="8.4" text-anchor="end">120</text>
<line x1="59.80" y1="315.30" x2="59.80" y2="318.30" stroke="#000" stroke-width="1.0"/>
<text x="59.80" y="328.70" font-size="7.8" text-anchor="middle">0</text>
<line x1="79.40" y1="315.30" x2="79.40" y2="318.30" stroke="#000" stroke-width="1.0"/>
<text x="79.40" y="328.70" font-size="7.8" text-anchor="middle">1</text>
<line x1="118.10" y1="315.30" x2="118.10" y2="318.30" stroke="#000" stroke-width="1.0"/>
<text x="118.10" y="328.70" font-size="7.8" text-anchor="middle">3</text>
<line x1="156.90" y1="315.30" x2="156.90" y2="318.30" stroke="#000" stroke-width="1.0"/>
<text x="156.90" y="328.70" font-size="7.8" text-anchor="middle">5</text>
<text transform="translate(92.20,341.80) scale(0.6783,1)" font-size="10.2" fill="#000" stroke="#000" stroke-width="0.1">Time (min)</text>
<text transform="translate(24.80,307.00) rotate(-90) scale(0.6974,1)" font-size="10" fill="#000" stroke="#000" stroke-width="0.16">Intracellular Ca<tspan font-size="7" dy="-4.2">2+</tspan><tspan dy="4.2"> (MFI)</tspan></text>
<line x1="59.80" y1="268.03" x2="59.80" y2="277.27" stroke="#ad0f3b" stroke-width="0.9" stroke-opacity="0.75"/>
<line x1="58.10" y1="268.03" x2="61.50" y2="268.03" stroke="#ad0f3b" stroke-width="1.0"/>
<line x1="58.10" y1="277.27" x2="61.50" y2="277.27" stroke="#ad0f3b" stroke-width="1.0"/>
<line x1="79.40" y1="271.16" x2="79.40" y2="276.28" stroke="#ad0f3b" stroke-width="0.9" stroke-opacity="0.75"/>
<line x1="77.70" y1="271.16" x2="81.10" y2="271.16" stroke="#ad0f3b" stroke-width="1.0"/>
<line x1="77.70" y1="276.28" x2="81.10" y2="276.28" stroke="#ad0f3b" stroke-width="1.0"/>
<line x1="156.90" y1="274.43" x2="156.90" y2="277.98" stroke="#ad0f3b" stroke-width="0.9" stroke-opacity="0.75"/>
<line x1="155.20" y1="274.43" x2="158.60" y2="274.43" stroke="#ad0f3b" stroke-width="1.0"/>
<line x1="155.20" y1="277.98" x2="158.60" y2="277.98" stroke="#ad0f3b" stroke-width="1.0"/>
<path d="M59.80,272.65 L79.40,273.72 L118.10,276.20 L156.90,276.20" stroke="#ad0f3b" stroke-width="1.3" fill="none" stroke-linejoin="round"/>
<circle cx="59.80" cy="272.65" r="1.9" fill="#ad0f3b"/>
<circle cx="79.40" cy="273.72" r="1.9" fill="#ad0f3b"/>
<circle cx="118.10" cy="276.20" r="1.9" fill="#ad0f3b"/>
<circle cx="156.90" cy="276.20" r="1.9" fill="#ad0f3b"/>
<line x1="59.80" y1="262.70" x2="59.80" y2="269.81" stroke="#1d4583" stroke-width="0.9" stroke-opacity="0.75"/>
<line x1="58.10" y1="262.70" x2="61.50" y2="262.70" stroke="#1d4583" stroke-width="1.0"/>
<line x1="58.10" y1="269.81" x2="61.50" y2="269.81" stroke="#1d4583" stroke-width="1.0"/>
<line x1="79.40" y1="244.22" x2="79.40" y2="255.87" stroke="#1d4583" stroke-width="0.9" stroke-opacity="0.75"/>
<line x1="77.70" y1="244.22" x2="81.10" y2="244.22" stroke="#1d4583" stroke-width="1.0"/>
<line x1="77.70" y1="255.87" x2="81.10" y2="255.87" stroke="#1d4583" stroke-width="1.0"/>
<line x1="118.10" y1="247.77" x2="118.10" y2="260.57" stroke="#1d4583" stroke-width="0.9" stroke-opacity="0.75"/>
<line x1="116.40" y1="247.77" x2="119.80" y2="247.77" stroke="#1d4583" stroke-width="1.0"/>
<line x1="116.40" y1="260.57" x2="119.80" y2="260.57" stroke="#1d4583" stroke-width="1.0"/>
<line x1="156.90" y1="247.42" x2="156.90" y2="261.92" stroke="#1d4583" stroke-width="0.9" stroke-opacity="0.75"/>
<line x1="155.20" y1="247.42" x2="158.60" y2="247.42" stroke="#1d4583" stroke-width="1.0"/>
<line x1="155.20" y1="261.92" x2="158.60" y2="261.92" stroke="#1d4583" stroke-width="1.0"/>
<path d="M59.80,266.25 L79.40,250.05 L118.10,254.17 L156.90,254.67" stroke="#1d4583" stroke-width="1.3" fill="none" stroke-linejoin="round"/>
<circle cx="59.80" cy="266.25" r="1.9" fill="#1d4583"/>
<circle cx="79.40" cy="250.05" r="1.9" fill="#1d4583"/>
<circle cx="118.10" cy="254.17" r="1.9" fill="#1d4583"/>
<circle cx="156.90" cy="254.67" r="1.9" fill="#1d4583"/>
<path d="M59.80,294.69 L79.40,295.11 L118.10,294.97 L156.90,294.69" stroke="#6ab44c" stroke-width="1.3" fill="none" stroke-linejoin="round"/>
<circle cx="59.80" cy="294.69" r="1.85" fill="#fff" stroke="#6ab44c" stroke-width="1.05"/>
<circle cx="79.40" cy="295.11" r="1.85" fill="#fff" stroke="#6ab44c" stroke-width="1.05"/>
<circle cx="118.10" cy="294.97" r="1.85" fill="#fff" stroke="#6ab44c" stroke-width="1.05"/>
<circle cx="156.90" cy="294.69" r="1.85" fill="#fff" stroke="#6ab44c" stroke-width="1.05"/>
<circle cx="79.40" cy="240.10" r="0.85" fill="#222"/>
<circle cx="116.80" cy="244.30" r="0.85" fill="#222"/>
<circle cx="119.40" cy="244.30" r="0.85" fill="#222"/>
<circle cx="155.60" cy="243.40" r="0.85" fill="#222"/>
<circle cx="158.20" cy="243.40" r="0.85" fill="#222"/>
<line x1="178.70" y1="281.50" x2="187.70" y2="281.50" stroke="#ad0f3b" stroke-width="1.2"/>
<circle cx="183.20" cy="281.50" r="1.5" fill="#ad0f3b"/>
<text x="191.20" y="284.20" font-size="7.6">DMSO</text>
<line x1="178.70" y1="293.00" x2="187.70" y2="293.00" stroke="#1d4583" stroke-width="1.2"/>
<circle cx="183.20" cy="293.00" r="1.5" fill="#1d4583"/>
<text x="191.20" y="295.70" font-size="7.6">TDZ</text>
<line x1="178.70" y1="304.60" x2="187.70" y2="304.60" stroke="#6ab44c" stroke-width="1.2"/>
<circle cx="183.20" cy="304.60" r="1.6" fill="#fff" stroke="#6ab44c" stroke-width="0.9"/>
<text x="191.20" y="307.30" font-size="7.6">TDZ w/o CaCl<tspan font-size="5" dy="1.8">2</tspan></text>
<line x1="322.30" y1="232.10" x2="322.30" y2="316.00" stroke="#000" stroke-width="1.1"/>
<line x1="321.80" y1="315.50" x2="431.50" y2="315.50" stroke="#000" stroke-width="1.1"/>
<line x1="319.10" y1="315.50" x2="322.30" y2="315.50" stroke="#000" stroke-width="0.9"/>
<text x="316.20" y="318.40" font-size="8.4" text-anchor="end">0</text>
<line x1="319.10" y1="303.94" x2="322.30" y2="303.94" stroke="#000" stroke-width="0.9"/>
<text x="316.20" y="306.84" font-size="8.4" text-anchor="end">10</text>
<line x1="319.10" y1="292.39" x2="322.30" y2="292.39" stroke="#000" stroke-width="0.9"/>
<text x="316.20" y="295.29" font-size="8.4" text-anchor="end">20</text>
<line x1="319.10" y1="280.83" x2="322.30" y2="280.83" stroke="#000" stroke-width="0.9"/>
<text x="316.20" y="283.73" font-size="8.4" text-anchor="end">30</text>
<line x1="319.10" y1="269.27" x2="322.30" y2="269.27" stroke="#000" stroke-width="0.9"/>
<text x="316.20" y="272.17" font-size="8.4" text-anchor="end">40</text>
<line x1="319.10" y1="257.71" x2="322.30" y2="257.71" stroke="#000" stroke-width="0.9"/>
<text x="316.20" y="260.61" font-size="8.4" text-anchor="end">50</text>
<line x1="319.10" y1="246.16" x2="322.30" y2="246.16" stroke="#000" stroke-width="0.9"/>
<text x="316.20" y="249.06" font-size="8.4" text-anchor="end">60</text>
<line x1="319.10" y1="234.60" x2="322.30" y2="234.60" stroke="#000" stroke-width="0.9"/>
<text x="316.20" y="237.50" font-size="8.4" text-anchor="end">70</text>
<line x1="331.20" y1="315.50" x2="331.20" y2="318.50" stroke="#000" stroke-width="1.0"/>
<text x="331.20" y="328.70" font-size="7.8" text-anchor="middle">0</text>
<line x1="349.50" y1="315.50" x2="349.50" y2="318.50" stroke="#000" stroke-width="1.0"/>
<text x="349.50" y="328.70" font-size="7.8" text-anchor="middle">1</text>
<line x1="386.00" y1="315.50" x2="386.00" y2="318.50" stroke="#000" stroke-width="1.0"/>
<text x="386.00" y="328.70" font-size="7.8" text-anchor="middle">3</text>
<line x1="422.40" y1="315.50" x2="422.40" y2="318.50" stroke="#000" stroke-width="1.0"/>
<text x="422.40" y="328.70" font-size="7.8" text-anchor="middle">5</text>
<text transform="translate(360.30,341.70) scale(0.6783,1)" font-size="10.2" fill="#000" stroke="#000" stroke-width="0.1">Time (min)</text>
<text transform="translate(301.60,308.70) rotate(-90) scale(0.6915,1)" font-size="10" fill="#000" stroke="#000" stroke-width="0.16">Intracellular Ca<tspan font-size="7" dy="-4.2">2+</tspan><tspan dy="4.2"> (MFI)</tspan></text>
<line x1="331.20" y1="262.11" x2="331.20" y2="265.57" stroke="#ad0f3b" stroke-width="0.9" stroke-opacity="0.75"/>
<line x1="329.50" y1="262.11" x2="332.90" y2="262.11" stroke="#ad0f3b" stroke-width="1.0"/>
<line x1="329.50" y1="265.57" x2="332.90" y2="265.57" stroke="#ad0f3b" stroke-width="1.0"/>
<line x1="349.50" y1="261.07" x2="349.50" y2="269.16" stroke="#ad0f3b" stroke-width="0.9" stroke-opacity="0.75"/>
<line x1="347.80" y1="261.07" x2="351.20" y2="261.07" stroke="#ad0f3b" stroke-width="1.0"/>
<line x1="347.80" y1="269.16" x2="351.20" y2="269.16" stroke="#ad0f3b" stroke-width="1.0"/>
<line x1="386.00" y1="261.07" x2="386.00" y2="269.16" stroke="#ad0f3b" stroke-width="0.9" stroke-opacity="0.75"/>
<line x1="384.30" y1="261.07" x2="387.70" y2="261.07" stroke="#ad0f3b" stroke-width="1.0"/>
<line x1="384.30" y1="269.16" x2="387.70" y2="269.16" stroke="#ad0f3b" stroke-width="1.0"/>
<line x1="422.40" y1="260.03" x2="422.40" y2="269.73" stroke="#ad0f3b" stroke-width="0.9" stroke-opacity="0.75"/>
<line x1="420.70" y1="260.03" x2="424.10" y2="260.03" stroke="#ad0f3b" stroke-width="1.0"/>
<line x1="420.70" y1="269.73" x2="424.10" y2="269.73" stroke="#ad0f3b" stroke-width="1.0"/>
<path d="M331.20,263.84 L349.50,265.11 L386.00,265.11 L422.40,264.88" stroke="#ad0f3b" stroke-width="1.3" fill="none" stroke-linejoin="round"/>
<circle cx="331.20" cy="263.84" r="1.9" fill="#ad0f3b"/>
<circle cx="349.50" cy="265.11" r="1.9" fill="#ad0f3b"/>
<circle cx="386.00" cy="265.11" r="1.9" fill="#ad0f3b"/>
<circle cx="422.40" cy="264.88" r="1.9" fill="#ad0f3b"/>
<line x1="331.20" y1="260.37" x2="331.20" y2="263.15" stroke="#1d4583" stroke-width="0.9" stroke-opacity="0.75"/>
<line x1="329.50" y1="260.37" x2="332.90" y2="260.37" stroke="#1d4583" stroke-width="1.0"/>
<line x1="329.50" y1="263.15" x2="332.90" y2="263.15" stroke="#1d4583" stroke-width="1.0"/>
<line x1="349.50" y1="236.22" x2="349.50" y2="251.47" stroke="#1d4583" stroke-width="0.9" stroke-opacity="0.75"/>
<line x1="347.80" y1="236.22" x2="351.20" y2="236.22" stroke="#1d4583" stroke-width="1.0"/>
<line x1="347.80" y1="251.47" x2="351.20" y2="251.47" stroke="#1d4583" stroke-width="1.0"/>
<line x1="386.00" y1="244.42" x2="386.00" y2="252.74" stroke="#1d4583" stroke-width="0.9" stroke-opacity="0.75"/>
<line x1="384.30" y1="244.42" x2="387.70" y2="244.42" stroke="#1d4583" stroke-width="1.0"/>
<line x1="384.30" y1="252.74" x2="387.70" y2="252.74" stroke="#1d4583" stroke-width="1.0"/>
<line x1="422.40" y1="245.00" x2="422.40" y2="251.94" stroke="#1d4583" stroke-width="0.9" stroke-opacity="0.75"/>
<line x1="420.70" y1="245.00" x2="424.10" y2="245.00" stroke="#1d4583" stroke-width="1.0"/>
<line x1="420.70" y1="251.94" x2="424.10" y2="251.94" stroke="#1d4583" stroke-width="1.0"/>
<path d="M331.20,261.76 L349.50,243.85 L386.00,248.58 L422.40,248.47" stroke="#1d4583" stroke-width="1.3" fill="none" stroke-linejoin="round"/>
<circle cx="331.20" cy="261.76" r="1.9" fill="#1d4583"/>
<circle cx="349.50" cy="243.85" r="1.9" fill="#1d4583"/>
<circle cx="386.00" cy="248.58" r="1.9" fill="#1d4583"/>
<circle cx="422.40" cy="248.47" r="1.9" fill="#1d4583"/>
<path d="M331.20,274.59 L349.50,275.40 L386.00,273.55 L422.40,272.05" stroke="#6ab44c" stroke-width="1.3" fill="none" stroke-linejoin="round"/>
<circle cx="331.20" cy="274.59" r="1.85" fill="#fff" stroke="#6ab44c" stroke-width="1.05"/>
<circle cx="349.50" cy="275.40" r="1.85" fill="#fff" stroke="#6ab44c" stroke-width="1.05"/>
<circle cx="386.00" cy="273.55" r="1.85" fill="#fff" stroke="#6ab44c" stroke-width="1.05"/>
<circle cx="422.40" cy="272.05" r="1.85" fill="#fff" stroke="#6ab44c" stroke-width="1.05"/>
<circle cx="386.00" cy="240.80" r="0.85" fill="#222"/>
<circle cx="422.40" cy="240.80" r="0.85" fill="#222"/>
<line x1="451.00" y1="281.50" x2="460.00" y2="281.50" stroke="#ad0f3b" stroke-width="1.2"/>
<circle cx="455.50" cy="281.50" r="1.5" fill="#ad0f3b"/>
<text x="463.50" y="284.20" font-size="7.6">DMSO</text>
<line x1="451.00" y1="293.00" x2="460.00" y2="293.00" stroke="#1d4583" stroke-width="1.2"/>
<circle cx="455.50" cy="293.00" r="1.5" fill="#1d4583"/>
<text x="463.50" y="295.70" font-size="7.6">TDZ</text>
<line x1="451.00" y1="304.60" x2="460.00" y2="304.60" stroke="#6ab44c" stroke-width="1.2"/>
<circle cx="455.50" cy="304.60" r="1.6" fill="#fff" stroke="#6ab44c" stroke-width="0.9"/>
<text x="463.50" y="307.30" font-size="7.6">TDZ w/o CaCl<tspan font-size="5" dy="1.8">2</tspan></text>
<line x1="50.20" y1="359.20" x2="50.20" y2="447.60" stroke="#000" stroke-width="1.1"/>
<line x1="49.70" y1="447.10" x2="166.30" y2="447.10" stroke="#000" stroke-width="1.1"/>
<line x1="47.00" y1="447.10" x2="50.20" y2="447.10" stroke="#000" stroke-width="0.9"/>
<text x="44.10" y="450.00" font-size="8.4" text-anchor="end">0</text>
<line x1="47.00" y1="434.90" x2="50.20" y2="434.90" stroke="#000" stroke-width="0.9"/>
<text x="44.10" y="437.80" font-size="8.4" text-anchor="end">10</text>
<line x1="47.00" y1="422.70" x2="50.20" y2="422.70" stroke="#000" stroke-width="0.9"/>
<text x="44.10" y="425.60" font-size="8.4" text-anchor="end">20</text>
<line x1="47.00" y1="410.50" x2="50.20" y2="410.50" stroke="#000" stroke-width="0.9"/>
<text x="44.10" y="413.40" font-size="8.4" text-anchor="end">30</text>
<line x1="47.00" y1="398.30" x2="50.20" y2="398.30" stroke="#000" stroke-width="0.9"/>
<text x="44.10" y="401.20" font-size="8.4" text-anchor="end">40</text>
<line x1="47.00" y1="386.10" x2="50.20" y2="386.10" stroke="#000" stroke-width="0.9"/>
<text x="44.10" y="389.00" font-size="8.4" text-anchor="end">50</text>
<line x1="47.00" y1="373.90" x2="50.20" y2="373.90" stroke="#000" stroke-width="0.9"/>
<text x="44.10" y="376.80" font-size="8.4" text-anchor="end">60</text>
<line x1="47.00" y1="361.70" x2="50.20" y2="361.70" stroke="#000" stroke-width="0.9"/>
<text x="44.10" y="364.60" font-size="8.4" text-anchor="end">70</text>
<line x1="59.90" y1="447.10" x2="59.90" y2="450.10" stroke="#000" stroke-width="1.0"/>
<text x="59.90" y="460.50" font-size="7.8" text-anchor="middle">0</text>
<line x1="79.40" y1="447.10" x2="79.40" y2="450.10" stroke="#000" stroke-width="1.0"/>
<text x="79.40" y="460.50" font-size="7.8" text-anchor="middle">1</text>
<line x1="117.90" y1="447.10" x2="117.90" y2="450.10" stroke="#000" stroke-width="1.0"/>
<text x="117.90" y="460.50" font-size="7.8" text-anchor="middle">3</text>
<line x1="156.60" y1="447.10" x2="156.60" y2="450.10" stroke="#000" stroke-width="1.0"/>
<text x="156.60" y="460.50" font-size="7.8" text-anchor="middle">5</text>
<text transform="translate(92.00,473.60) scale(0.6783,1)" font-size="10.2" fill="#000" stroke="#000" stroke-width="0.1">Time (min)</text>
<text transform="translate(28.90,438.30) rotate(-90) scale(0.6964,1)" font-size="10" fill="#000" stroke="#000" stroke-width="0.16">Intracellular Ca<tspan font-size="7" dy="-4.2">2+</tspan><tspan dy="4.2"> (MFI)</tspan></text>
<path d="M59.90,425.75 L79.40,421.48 L117.90,426.48 L156.60,420.26" stroke="#ad0f3b" stroke-width="1.3" fill="none" stroke-linejoin="round"/>
<circle cx="59.90" cy="425.75" r="1.9" fill="#ad0f3b"/>
<circle cx="79.40" cy="421.48" r="1.9" fill="#ad0f3b"/>
<circle cx="117.90" cy="426.48" r="1.9" fill="#ad0f3b"/>
<circle cx="156.60" cy="420.26" r="1.9" fill="#ad0f3b"/>
<path d="M59.90,421.36 L79.40,391.47 L117.90,392.08 L156.60,390.25" stroke="#1d4583" stroke-width="1.3" fill="none" stroke-linejoin="round"/>
<circle cx="59.90" cy="421.36" r="1.9" fill="#1d4583"/>
<circle cx="79.40" cy="391.47" r="1.9" fill="#1d4583"/>
<circle cx="117.90" cy="392.08" r="1.9" fill="#1d4583"/>
<circle cx="156.60" cy="390.25" r="1.9" fill="#1d4583"/>
<path d="M59.90,431.12 L79.40,434.53 L117.90,433.80 L156.60,436.12" stroke="#6ab44c" stroke-width="1.3" fill="none" stroke-linejoin="round"/>
<circle cx="59.90" cy="431.12" r="1.85" fill="#fff" stroke="#6ab44c" stroke-width="1.05"/>
<circle cx="79.40" cy="434.53" r="1.85" fill="#fff" stroke="#6ab44c" stroke-width="1.05"/>
<circle cx="117.90" cy="433.80" r="1.85" fill="#fff" stroke="#6ab44c" stroke-width="1.05"/>
<circle cx="156.60" cy="436.12" r="1.85" fill="#fff" stroke="#6ab44c" stroke-width="1.05"/>
<line x1="178.70" y1="413.50" x2="187.70" y2="413.50" stroke="#ad0f3b" stroke-width="1.2"/>
<circle cx="183.20" cy="413.50" r="1.5" fill="#ad0f3b"/>
<text x="191.20" y="416.20" font-size="7.6">DMSO</text>
<line x1="178.70" y1="424.60" x2="187.70" y2="424.60" stroke="#1d4583" stroke-width="1.2"/>
<circle cx="183.20" cy="424.60" r="1.5" fill="#1d4583"/>
<text x="191.20" y="427.30" font-size="7.6">TDZ</text>
<line x1="178.70" y1="436.00" x2="187.70" y2="436.00" stroke="#6ab44c" stroke-width="1.2"/>
<circle cx="183.20" cy="436.00" r="1.6" fill="#fff" stroke="#6ab44c" stroke-width="0.9"/>
<text x="191.20" y="438.70" font-size="7.6">TDZ w/o CaCl<tspan font-size="5" dy="1.8">2</tspan></text>
<line x1="322.00" y1="359.00" x2="322.00" y2="447.80" stroke="#000" stroke-width="1.1"/>
<line x1="321.50" y1="447.30" x2="438.60" y2="447.30" stroke="#000" stroke-width="1.1"/>
<line x1="318.80" y1="447.30" x2="322.00" y2="447.30" stroke="#000" stroke-width="0.9"/>
<text x="316.40" y="450.20" font-size="8.4" text-anchor="end">0</text>
<line x1="318.80" y1="435.04" x2="322.00" y2="435.04" stroke="#000" stroke-width="0.9"/>
<text x="316.40" y="437.94" font-size="8.4" text-anchor="end">10</text>
<line x1="318.80" y1="422.79" x2="322.00" y2="422.79" stroke="#000" stroke-width="0.9"/>
<text x="316.40" y="425.69" font-size="8.4" text-anchor="end">20</text>
<line x1="318.80" y1="410.53" x2="322.00" y2="410.53" stroke="#000" stroke-width="0.9"/>
<text x="316.40" y="413.43" font-size="8.4" text-anchor="end">30</text>
<line x1="318.80" y1="398.27" x2="322.00" y2="398.27" stroke="#000" stroke-width="0.9"/>
<text x="316.40" y="401.17" font-size="8.4" text-anchor="end">40</text>
<line x1="318.80" y1="386.01" x2="322.00" y2="386.01" stroke="#000" stroke-width="0.9"/>
<text x="316.40" y="388.91" font-size="8.4" text-anchor="end">50</text>
<line x1="318.80" y1="373.76" x2="322.00" y2="373.76" stroke="#000" stroke-width="0.9"/>
<text x="316.40" y="376.66" font-size="8.4" text-anchor="end">60</text>
<line x1="318.80" y1="361.50" x2="322.00" y2="361.50" stroke="#000" stroke-width="0.9"/>
<text x="316.40" y="364.40" font-size="8.4" text-anchor="end">70</text>
<line x1="331.60" y1="447.30" x2="331.60" y2="450.30" stroke="#000" stroke-width="1.0"/>
<text x="331.60" y="460.50" font-size="7.8" text-anchor="middle">0</text>
<line x1="351.00" y1="447.30" x2="351.00" y2="450.30" stroke="#000" stroke-width="1.0"/>
<text x="351.00" y="460.50" font-size="7.8" text-anchor="middle">1</text>
<line x1="389.80" y1="447.30" x2="389.80" y2="450.30" stroke="#000" stroke-width="1.0"/>
<text x="389.80" y="460.50" font-size="7.8" text-anchor="middle">3</text>
<line x1="428.50" y1="447.30" x2="428.50" y2="450.30" stroke="#000" stroke-width="1.0"/>
<text x="428.50" y="460.50" font-size="7.8" text-anchor="middle">5</text>
<text transform="translate(364.00,473.60) scale(0.6783,1)" font-size="10.2" fill="#000" stroke="#000" stroke-width="0.1">Time (min)</text>
<text transform="translate(301.80,438.60) rotate(-90) scale(0.6865,1)" font-size="10" fill="#000" stroke="#000" stroke-width="0.16">Intracellular Ca<tspan font-size="7" dy="-4.2">2+</tspan><tspan dy="4.2"> (MFI)</tspan></text>
<path d="M331.60,412.37 L351.00,410.53 L389.80,409.30 L428.50,410.53" stroke="#ad0f3b" stroke-width="1.3" fill="none" stroke-linejoin="round"/>
<circle cx="331.60" cy="412.37" r="1.9" fill="#ad0f3b"/>
<circle cx="351.00" cy="410.53" r="1.9" fill="#ad0f3b"/>
<circle cx="389.80" cy="409.30" r="1.9" fill="#ad0f3b"/>
<circle cx="428.50" cy="410.53" r="1.9" fill="#ad0f3b"/>
<path d="M331.60,411.26 L351.00,399.50 L389.80,386.01 L428.50,379.52" stroke="#1d4583" stroke-width="1.3" fill="none" stroke-linejoin="round"/>
<circle cx="331.60" cy="411.26" r="1.9" fill="#1d4583"/>
<circle cx="351.00" cy="399.50" r="1.9" fill="#1d4583"/>
<circle cx="389.80" cy="386.01" r="1.9" fill="#1d4583"/>
<circle cx="428.50" cy="379.52" r="1.9" fill="#1d4583"/>
<line x1="451.00" y1="413.50" x2="460.00" y2="413.50" stroke="#ad0f3b" stroke-width="1.2"/>
<circle cx="455.50" cy="413.50" r="1.5" fill="#ad0f3b"/>
<text x="463.50" y="416.20" font-size="7.6">DMSO</text>
<line x1="451.00" y1="424.70" x2="460.00" y2="424.70" stroke="#1d4583" stroke-width="1.2"/>
<circle cx="455.50" cy="424.70" r="1.5" fill="#1d4583"/>
<text x="463.50" y="427.40" font-size="7.6">TDZ</text>
<line x1="51.70" y1="573.22" x2="171.00" y2="573.22" stroke="#d2d2d2" stroke-width="0.9"/>
<line x1="51.70" y1="557.14" x2="171.00" y2="557.14" stroke="#d2d2d2" stroke-width="0.9"/>
<line x1="51.70" y1="541.06" x2="171.00" y2="541.06" stroke="#d2d2d2" stroke-width="0.9"/>
<line x1="51.70" y1="524.98" x2="171.00" y2="524.98" stroke="#d2d2d2" stroke-width="0.9"/>
<line x1="51.70" y1="508.90" x2="171.00" y2="508.90" stroke="#d2d2d2" stroke-width="0.9"/>
<line x1="50.20" y1="506.30" x2="50.20" y2="589.70" stroke="#000" stroke-width="1.2"/>
<line x1="49.70" y1="589.20" x2="171.50" y2="589.20" stroke="#000" stroke-width="1.2"/>
<line x1="47.00" y1="589.30" x2="50.20" y2="589.30" stroke="#000" stroke-width="1.0"/>
<text x="44.00" y="592.10" font-size="7.9" text-anchor="end">1.0</text>
<line x1="47.00" y1="573.22" x2="50.20" y2="573.22" stroke="#000" stroke-width="1.0"/>
<text x="44.00" y="576.02" font-size="7.9" text-anchor="end">1.1</text>
<line x1="47.00" y1="557.14" x2="50.20" y2="557.14" stroke="#000" stroke-width="1.0"/>
<text x="44.00" y="559.94" font-size="7.9" text-anchor="end">1.2</text>
<line x1="47.00" y1="541.06" x2="50.20" y2="541.06" stroke="#000" stroke-width="1.0"/>
<text x="44.00" y="543.86" font-size="7.9" text-anchor="end">1.3</text>
<line x1="47.00" y1="524.98" x2="50.20" y2="524.98" stroke="#000" stroke-width="1.0"/>
<text x="44.00" y="527.78" font-size="7.9" text-anchor="end">1.4</text>
<line x1="47.00" y1="508.90" x2="50.20" y2="508.90" stroke="#000" stroke-width="1.0"/>
<text x="44.00" y="511.70" font-size="7.9" text-anchor="end">1.5</text>
<line x1="50.20" y1="589.20" x2="50.20" y2="592.00" stroke="#000" stroke-width="1.0"/>
<text x="50.20" y="601.60" font-size="7.9" text-anchor="middle">0</text>
<line x1="90.20" y1="589.20" x2="90.20" y2="592.00" stroke="#000" stroke-width="1.0"/>
<text x="90.20" y="601.60" font-size="7.9" text-anchor="middle">100</text>
<line x1="130.20" y1="589.20" x2="130.20" y2="592.00" stroke="#000" stroke-width="1.0"/>
<text x="130.20" y="601.60" font-size="7.9" text-anchor="middle">200</text>
<line x1="170.20" y1="589.20" x2="170.20" y2="592.00" stroke="#000" stroke-width="1.0"/>
<text x="170.20" y="601.60" font-size="7.9" text-anchor="middle">300</text>
<text transform="translate(95.50,615.10) scale(0.6696,1)" font-size="10.2" fill="#000" stroke="#000" stroke-width="0.1">Time (sec)</text>
<text transform="translate(27.40,581.70) rotate(-90) scale(0.6761,1)" font-size="10.0" fill="#000" stroke="#000" stroke-width="0.18">Fluorescence (F/Fmin)</text>
<path d="M50.60,558.26 L51.10,558.57 L51.60,558.29 L52.10,559.78 L52.60,558.66 L53.10,558.84 L53.60,560.35 L54.10,559.35 L54.60,559.98 L55.10,560.81 L55.60,561.20 L56.10,561.77 L56.60,562.72 L57.10,562.42 L57.60,561.87 L58.10,562.12 L58.60,563.11 L59.10,561.49 L59.60,562.90 L60.10,562.07 L60.60,560.86 L61.10,562.07 L61.60,560.63 L62.10,560.65 L62.60,560.55 L63.10,561.33 L63.60,560.34 L64.10,561.39 L64.60,560.08 L65.10,560.81 L65.60,559.48 L66.10,559.15 L66.60,558.11 L67.10,558.57 L67.60,558.73 L68.10,557.98 L68.60,557.59 L69.10,556.00 L69.60,555.87 L70.10,556.54 L70.60,555.26 L71.10,556.45 L71.60,556.09 L72.10,556.19 L72.60,555.72 L73.10,554.30 L73.60,552.91 L74.10,552.14 L74.60,552.30 L75.10,552.08 L75.60,550.82 L76.10,548.65 L76.60,549.12 L77.10,548.13 L77.60,546.64 L78.10,546.58 L78.60,546.45 L79.10,546.29 L79.60,545.75 L80.10,545.01 L80.60,544.17 L81.10,543.62 L81.60,543.23 L82.10,540.69 L82.60,539.47 L83.10,538.77 L83.60,536.91 L84.10,535.61 L84.60,533.81 L85.10,533.40 L85.60,532.73 L86.10,531.57 L86.60,529.05 L87.10,529.34 L87.60,527.55 L88.10,526.24 L88.60,525.54 L89.10,523.32 L89.60,522.28 L90.10,522.32 L90.60,523.17 L91.10,521.15 L91.60,522.39 L92.10,522.43 L92.60,521.64 L93.10,521.08 L93.60,521.75 L94.10,521.68 L94.60,521.62 L95.10,520.62 L95.60,521.79 L96.10,521.15 L96.60,521.78 L97.10,522.24 L97.60,522.62 L98.10,521.76 L98.60,521.70 L99.10,522.64 L99.60,522.45 L100.10,522.88 L100.60,521.77 L101.10,523.36 L101.60,522.06 L102.10,522.13 L102.60,522.55 L103.10,521.52 L103.60,523.08 L104.10,523.07 L104.60,522.54 L105.10,522.90 L105.60,523.43 L106.10,522.60 L106.60,522.84 L107.10,522.69 L107.60,523.28 L108.10,523.42 L108.60,523.45 L109.10,523.89 L109.60,525.41 L110.10,525.66 L110.60,526.03 L111.10,526.06 L111.60,526.35 L112.10,527.27 L112.60,527.94 L113.10,528.81 L113.60,529.72 L114.10,529.20 L114.60,530.04 L115.10,531.38 L115.60,531.00 L116.10,532.05 L116.60,532.92 L117.10,533.80 L117.60,534.92 L118.10,534.36 L118.60,536.38 L119.10,537.10 L119.60,537.71 L120.10,538.07 L120.60,538.96 L121.10,538.23 L121.60,538.69 L122.10,541.16 L122.60,541.03 L123.10,542.07 L123.60,541.59 L124.10,543.09 L124.60,543.08 L125.10,545.22 L125.60,543.90 L126.10,545.84 L126.60,545.87 L127.10,545.40 L127.60,546.27 L128.10,547.25 L128.60,548.00 L129.10,549.11 L129.60,549.30 L130.10,549.59 L130.60,549.63 L131.10,551.20 L131.60,551.97 L132.10,552.25 L132.60,552.69 L133.10,552.72 L133.60,553.52 L134.10,554.48 L134.60,554.27 L135.10,554.08 L135.60,555.06 L136.10,554.06 L136.60,554.88 L137.10,555.11 L137.60,555.57 L138.10,556.44 L138.60,557.77 L139.10,556.29 L139.60,556.58 L140.10,557.79 L140.60,558.42 L141.10,558.39 L141.60,558.64 L142.10,559.38 L142.60,559.12 L143.10,558.82 L143.60,559.73 L144.10,559.26 L144.60,559.52 L145.10,560.53 L145.60,560.84 L146.10,560.94 L146.60,561.42 L147.10,561.33 L147.60,561.69 L148.10,562.18 L148.60,562.22 L149.10,562.32 L149.60,562.94 L150.10,563.30 L150.60,562.03 L151.10,562.23 L151.60,562.41 L152.10,562.65 L152.60,560.56 L153.10,561.13 L153.60,561.16 L154.10,561.22 L154.60,560.41 L155.10,560.14 L155.60,559.40 L156.10,560.29 L156.60,559.75 L157.10,559.52 L157.60,559.32 L158.10,560.39 L158.60,558.63 L159.10,558.48 L159.60,559.57 L160.10,558.23 L160.60,558.12 L161.10,559.23 L161.60,558.44 L162.10,557.84 L162.60,559.32 L163.10,558.24 L163.60,557.88 L164.10,558.87 L164.60,557.61 L165.10,557.45 L165.60,558.06 L166.10,557.39 L166.60,557.82 L167.10,556.89 L167.60,557.59 L168.10,555.58 L168.60,555.42 L169.10,556.85 L169.60,555.13 L170.10,555.13 L170.10,572.86 L169.60,574.01 L169.10,572.79 L168.60,572.89 L168.10,573.92 L167.60,574.23 L167.10,574.12 L166.60,573.69 L166.10,573.59 L165.60,574.42 L165.10,573.83 L164.60,574.26 L164.10,574.14 L163.60,574.50 L163.10,575.31 L162.60,575.58 L162.10,575.12 L161.60,575.15 L161.10,574.27 L160.60,574.31 L160.10,574.13 L159.60,574.30 L159.10,574.83 L158.60,575.45 L158.10,574.56 L157.60,574.80 L157.10,575.01 L156.60,574.22 L156.10,575.22 L155.60,573.82 L155.10,574.96 L154.60,574.33 L154.10,574.37 L153.60,573.31 L153.10,574.31 L152.60,573.08 L152.10,574.69 L151.60,573.13 L151.10,573.83 L150.60,573.09 L150.10,574.01 L149.60,572.73 L149.10,574.00 L148.60,572.59 L148.10,572.41 L147.60,571.50 L147.10,571.41 L146.60,570.98 L146.10,572.46 L145.60,572.12 L145.10,571.95 L144.60,571.56 L144.10,571.48 L143.60,571.05 L143.10,569.31 L142.60,568.78 L142.10,569.04 L141.60,568.72 L141.10,568.88 L140.60,567.63 L140.10,567.53 L139.60,568.73 L139.10,567.75 L138.60,567.51 L138.10,567.84 L137.60,567.40 L137.10,566.02 L136.60,565.75 L136.10,565.86 L135.60,565.83 L135.10,565.99 L134.60,564.81 L134.10,564.68 L133.60,564.28 L133.10,562.64 L132.60,562.30 L132.10,563.22 L131.60,562.98 L131.10,562.38 L130.60,562.11 L130.10,561.79 L129.60,560.17 L129.10,560.30 L128.60,558.45 L128.10,558.35 L127.60,558.40 L127.10,558.43 L126.60,557.42 L126.10,556.75 L125.60,557.53 L125.10,557.01 L124.60,555.10 L124.10,555.28 L123.60,553.65 L123.10,553.39 L122.60,553.96 L122.10,553.81 L121.60,551.71 L121.10,551.55 L120.60,551.02 L120.10,550.13 L119.60,549.31 L119.10,548.91 L118.60,548.54 L118.10,548.82 L117.60,547.99 L117.10,547.48 L116.60,545.95 L116.10,545.82 L115.60,544.90 L115.10,544.24 L114.60,544.73 L114.10,544.35 L113.60,542.52 L113.10,543.82 L112.60,542.09 L112.10,542.59 L111.60,541.39 L111.10,541.85 L110.60,539.57 L110.10,540.05 L109.60,539.45 L109.10,539.12 L108.60,537.81 L108.10,538.84 L107.60,538.49 L107.10,537.18 L106.60,537.47 L106.10,536.87 L105.60,536.33 L105.10,537.92 L104.60,537.34 L104.10,536.04 L103.60,535.97 L103.10,537.11 L102.60,536.89 L102.10,535.39 L101.60,536.91 L101.10,536.03 L100.60,536.64 L100.10,536.03 L99.60,535.05 L99.10,536.43 L98.60,535.59 L98.10,535.60 L97.60,535.70 L97.10,535.96 L96.60,535.57 L96.10,535.35 L95.60,534.22 L95.10,533.78 L94.60,534.12 L94.10,535.40 L93.60,534.74 L93.10,534.19 L92.60,534.01 L92.10,534.06 L91.60,535.23 L91.10,535.89 L90.60,535.11 L90.10,534.89 L89.60,535.69 L89.10,537.16 L88.60,539.55 L88.10,540.72 L87.60,541.07 L87.10,543.53 L86.60,543.92 L86.10,544.99 L85.60,546.94 L85.10,547.31 L84.60,548.21 L84.10,550.70 L83.60,551.10 L83.10,551.39 L82.60,553.70 L82.10,554.19 L81.60,555.17 L81.10,554.27 L80.60,555.57 L80.10,557.22 L79.60,557.93 L79.10,557.59 L78.60,558.89 L78.10,559.42 L77.60,560.40 L77.10,559.83 L76.60,561.25 L76.10,559.82 L75.60,561.41 L75.10,562.66 L74.60,561.42 L74.10,561.97 L73.60,562.62 L73.10,564.38 L72.60,564.70 L72.10,563.62 L71.60,564.55 L71.10,564.96 L70.60,566.85 L70.10,566.25 L69.60,570.07 L69.10,572.98 L68.60,576.47 L68.10,575.50 L67.60,575.65 L67.10,574.97 L66.60,574.94 L66.10,573.91 L65.60,573.38 L65.10,572.72 L64.60,573.43 L64.10,573.38 L63.60,573.43 L63.10,573.24 L62.60,574.60 L62.10,574.37 L61.60,573.50 L61.10,573.73 L60.60,574.28 L60.10,575.30 L59.60,574.66 L59.10,575.80 L58.60,575.80 L58.10,575.92 L57.60,574.37 L57.10,574.69 L56.60,575.88 L56.10,574.63 L55.60,574.83 L55.10,574.26 L54.60,573.69 L54.10,574.09 L53.60,574.09 L53.10,574.65 L52.60,574.14 L52.10,572.54 L51.60,573.20 L51.10,573.02 L50.60,572.95 Z" stroke="#5a5a5a" stroke-width="0.7" fill="#8e8e8e" stroke-linejoin="round"/>
<path d="M112.98,542.84V544.83M91.00,535.16V537.84M109.64,524.52V521.36M135.29,565.11V567.14M149.42,573.16V576.29M146.99,571.94V575.16M165.15,574.43V576.74M135.53,565.26V567.32M100.89,522.40V519.17M169.12,556.04V554.53M75.04,551.40V549.52M166.58,557.07V555.14M64.33,573.71V576.65M72.06,555.76V553.38M120.45,551.01V552.10M63.60,560.91V559.26M78.75,558.34V560.83M77.39,547.37V545.53M71.23,565.31V567.09M116.17,546.15V548.34M81.75,554.20V557.49M91.51,521.99V518.12M108.32,522.98V521.83M163.92,574.67V576.64M113.70,529.27V527.45M169.03,573.64V575.23M51.90,559.09V556.97M145.89,571.40V573.91M69.41,556.53V554.57M81.63,554.38V556.67M126.78,557.73V559.39M114.54,530.25V526.94M50.76,572.89V576.01M148.92,562.19V560.38M136.30,555.15V552.71M106.65,537.44V539.91M153.14,561.26V557.90M100.47,535.82V537.04M149.43,562.40V559.77M113.47,529.01V525.51" stroke="#888" stroke-width="0.5" fill="none"/>
<path d="M50.60,567.70 L51.10,567.25 L51.60,567.42 L52.10,566.99 L52.60,567.71 L53.10,568.24 L53.60,567.04 L54.10,566.98 L54.60,567.11 L55.10,568.62 L55.60,568.28 L56.10,568.14 L56.60,569.24 L57.10,568.48 L57.60,569.54 L58.10,568.96 L58.60,568.25 L59.10,568.91 L59.60,568.18 L60.10,568.40 L60.60,569.41 L61.10,568.17 L61.60,568.95 L62.10,568.29 L62.60,567.67 L63.10,568.03 L63.60,568.80 L64.10,568.55 L64.60,568.40 L65.10,568.50 L65.60,568.14 L66.10,567.02 L66.60,567.29 L67.10,567.63 L67.60,567.82 L68.10,566.30 L68.60,565.39 L69.10,565.42 L69.60,564.26 L70.10,561.95 L70.60,561.09 L71.10,560.96 L71.60,559.16 L72.10,558.93 L72.60,559.24 L73.10,558.27 L73.60,558.35 L74.10,557.91 L74.60,557.59 L75.10,557.75 L75.60,556.34 L76.10,556.99 L76.60,554.99 L77.10,555.54 L77.60,553.92 L78.10,554.65 L78.60,553.90 L79.10,553.18 L79.60,552.22 L80.10,551.94 L80.60,551.43 L81.10,550.43 L81.60,549.47 L82.10,548.14 L82.60,546.25 L83.10,545.98 L83.60,545.04 L84.10,544.20 L84.60,541.99 L85.10,540.56 L85.60,539.77 L86.10,538.91 L86.60,537.86 L87.10,535.89 L87.60,534.20 L88.10,534.05 L88.60,531.84 L89.10,530.87 L89.60,530.45 L90.10,529.82 L90.60,527.78 L91.10,527.53 L91.60,527.75 L92.10,527.28 L92.60,528.19 L93.10,526.74 L93.60,527.53 L94.10,528.20 L94.60,527.56 L95.10,527.69 L95.60,527.50 L96.10,528.04 L96.60,527.97 L97.10,527.61 L97.60,527.81 L98.10,529.17 L98.60,529.25 L99.10,528.70 L99.60,529.24 L100.10,529.35 L100.60,529.90 L101.10,529.70 L101.60,529.88 L102.10,529.30 L102.60,529.46 L103.10,528.86 L103.60,529.37 L104.10,529.16 L104.60,530.34 L105.10,529.82 L105.60,529.41 L106.10,530.25 L106.60,530.46 L107.10,529.75 L107.60,529.50 L108.10,530.03 L108.60,530.40 L109.10,530.16 L109.60,531.33 L110.10,532.04 L110.60,532.69 L111.10,533.88 L111.60,533.17 L112.10,535.00 L112.60,534.45 L113.10,534.95 L113.60,535.64 L114.10,536.44 L114.60,536.68 L115.10,537.92 L115.60,538.55 L116.10,539.11 L116.60,539.53 L117.10,540.80 L117.60,542.07 L118.10,542.75 L118.60,542.70 L119.10,544.55 L119.60,544.01 L120.10,544.34 L120.60,546.01 L121.10,546.40 L121.60,546.95 L122.10,546.60 L122.60,547.78 L123.10,547.65 L123.60,548.98 L124.10,548.89 L124.60,550.54 L125.10,549.85 L125.60,550.94 L126.10,551.45 L126.60,552.16 L127.10,553.05 L127.60,553.38 L128.10,552.96 L128.60,554.63 L129.10,555.08 L129.60,555.16 L130.10,555.92 L130.60,556.25 L131.10,556.14 L131.60,557.04 L132.10,557.01 L132.60,557.33 L133.10,557.79 L133.60,558.02 L134.10,558.62 L134.60,559.37 L135.10,559.88 L135.60,560.74 L136.10,560.68 L136.60,559.90 L137.10,560.29 L137.60,561.34 L138.10,561.68 L138.60,562.39 L139.10,562.63 L139.60,561.99 L140.10,562.84 L140.60,563.88 L141.10,563.63 L141.60,564.04 L142.10,564.45 L142.60,564.01 L143.10,565.14 L143.60,565.44 L144.10,566.07 L144.60,565.56 L145.10,565.54 L145.60,566.55 L146.10,566.94 L146.60,566.88 L147.10,566.21 L147.60,567.08 L148.10,567.04 L148.60,568.11 L149.10,568.63 L149.60,567.54 L150.10,568.58 L150.60,568.88 L151.10,568.99 L151.60,568.58 L152.10,569.79 L152.60,568.81 L153.10,568.24 L153.60,567.91 L154.10,568.48 L154.60,567.51 L155.10,568.21 L155.60,567.86 L156.10,566.60 L156.60,567.63 L157.10,568.09 L157.60,567.87 L158.10,567.44 L158.60,567.15 L159.10,567.97 L159.60,568.60 L160.10,568.51 L160.60,568.36 L161.10,567.18 L161.60,567.29 L162.10,567.36 L162.60,567.66 L163.10,566.44 L163.60,567.20 L164.10,566.13 L164.60,566.11 L165.10,566.30 L165.60,566.66 L166.10,566.46 L166.60,565.20 L167.10,566.00 L167.60,566.30 L168.10,566.10 L168.60,565.82 L169.10,565.45 L169.60,565.28 L170.10,565.26" stroke="#e00000" stroke-width="1.6" fill="none" stroke-linejoin="round"/>
<line x1="68.50" y1="555.50" x2="68.50" y2="578.50" stroke="#aaa" stroke-width="0.7"/>
<line x1="68.60" y1="561.80" x2="68.60" y2="572.20" stroke="#e10000" stroke-width="1.0"/>
<text x="68.60" y="530.20" font-size="7.7" text-anchor="middle">TDZ</text>
<line x1="68.60" y1="531.70" x2="68.60" y2="544.20" stroke="#000" stroke-width="1.2"/>
<path d="M68.60,548.20 L65.30,540.50 L68.60,541.80 L71.90,540.50 Z" stroke="none" stroke-width="1" fill="#000"/>
<line x1="323.80" y1="563.90" x2="443.00" y2="563.90" stroke="#d2d2d2" stroke-width="0.9"/>
<line x1="323.80" y1="538.90" x2="443.00" y2="538.90" stroke="#d2d2d2" stroke-width="0.9"/>
<line x1="323.80" y1="513.90" x2="443.00" y2="513.90" stroke="#d2d2d2" stroke-width="0.9"/>
<line x1="322.30" y1="508.80" x2="322.30" y2="589.30" stroke="#000" stroke-width="1.2"/>
<line x1="321.80" y1="588.80" x2="443.50" y2="588.80" stroke="#000" stroke-width="1.2"/>
<line x1="319.10" y1="588.80" x2="322.30" y2="588.80" stroke="#000" stroke-width="1.0"/>
<text x="316.00" y="591.60" font-size="7.9" text-anchor="end">1.0</text>
<line x1="319.10" y1="563.90" x2="322.30" y2="563.90" stroke="#000" stroke-width="1.0"/>
<text x="316.00" y="566.70" font-size="7.9" text-anchor="end">1.5</text>
<line x1="319.10" y1="538.90" x2="322.30" y2="538.90" stroke="#000" stroke-width="1.0"/>
<text x="316.00" y="541.70" font-size="7.9" text-anchor="end">2.0</text>
<line x1="319.10" y1="513.90" x2="322.30" y2="513.90" stroke="#000" stroke-width="1.0"/>
<text x="316.00" y="516.70" font-size="7.9" text-anchor="end">2.5</text>
<line x1="322.30" y1="588.80" x2="322.30" y2="591.60" stroke="#000" stroke-width="1.0"/>
<text x="322.30" y="601.60" font-size="7.9" text-anchor="middle">0</text>
<line x1="362.20" y1="588.80" x2="362.20" y2="591.60" stroke="#000" stroke-width="1.0"/>
<text x="362.20" y="601.60" font-size="7.9" text-anchor="middle">100</text>
<line x1="402.10" y1="588.80" x2="402.10" y2="591.60" stroke="#000" stroke-width="1.0"/>
<text x="402.10" y="601.60" font-size="7.9" text-anchor="middle">200</text>
<line x1="442.00" y1="588.80" x2="442.00" y2="591.60" stroke="#000" stroke-width="1.0"/>
<text x="442.00" y="601.60" font-size="7.9" text-anchor="middle">300</text>
<text transform="translate(367.50,615.60) scale(0.6654,1)" font-size="10.2" fill="#000" stroke="#000" stroke-width="0.1">Time (sec)</text>
<text transform="translate(299.50,583.70) rotate(-90) scale(0.6830,1)" font-size="10.0" fill="#000" stroke="#000" stroke-width="0.18">Fluorescence (F/Fmin)</text>
<path d="M322.60,554.85 L323.10,553.62 L323.60,554.97 L324.10,555.25 L324.60,554.86 L325.10,556.11 L325.60,556.44 L326.10,557.12 L326.60,557.94 L327.10,556.80 L327.60,556.75 L328.10,557.62 L328.60,557.53 L329.10,556.95 L329.60,556.60 L330.10,556.98 L330.60,557.15 L331.10,557.16 L331.60,557.05 L332.10,557.64 L332.60,557.01 L333.10,557.50 L333.60,555.41 L334.10,556.61 L334.60,556.29 L335.10,556.34 L335.60,556.00 L336.10,553.90 L336.60,555.30 L337.10,553.33 L337.60,554.93 L338.10,556.09 L338.60,557.33 L339.10,559.84 L339.60,560.84 L340.10,561.33 L340.60,563.80 L341.10,565.15 L341.60,565.17 L342.10,566.00 L342.60,567.62 L343.10,568.62 L343.60,569.94 L344.10,571.07 L344.60,570.91 L345.10,572.40 L345.60,573.63 L346.10,573.96 L346.60,574.14 L347.10,575.96 L347.60,575.26 L348.10,572.07 L348.60,569.87 L349.10,567.81 L349.60,565.77 L350.10,563.15 L350.60,561.92 L351.10,561.10 L351.60,561.50 L352.10,560.38 L352.60,561.31 L353.10,560.45 L353.60,558.62 L354.10,559.29 L354.60,557.89 L355.10,557.13 L355.60,556.16 L356.10,554.07 L356.60,552.31 L357.10,551.43 L357.60,549.51 L358.10,546.67 L358.60,545.49 L359.10,543.85 L359.60,541.66 L360.10,540.94 L360.60,539.20 L361.10,536.15 L361.60,533.62 L362.10,534.11 L362.60,533.07 L363.10,532.78 L363.60,532.41 L364.10,532.59 L364.60,532.56 L365.10,531.65 L365.60,531.45 L366.10,531.22 L366.60,530.98 L367.10,528.82 L367.60,530.06 L368.10,528.85 L368.60,528.12 L369.10,527.35 L369.60,525.85 L370.10,526.41 L370.60,526.03 L371.10,524.32 L371.60,523.87 L372.10,523.83 L372.60,524.06 L373.10,522.68 L373.60,522.53 L374.10,521.12 L374.60,520.87 L375.10,520.56 L375.60,522.06 L376.10,520.44 L376.60,520.94 L377.10,520.87 L377.60,520.79 L378.10,519.48 L378.60,521.64 L379.10,521.53 L379.60,521.94 L380.10,522.27 L380.60,522.07 L381.10,523.12 L381.60,523.13 L382.10,522.57 L382.60,522.81 L383.10,524.85 L383.60,524.28 L384.10,524.71 L384.60,525.61 L385.10,525.58 L385.60,526.66 L386.10,526.22 L386.60,526.72 L387.10,526.42 L387.60,528.50 L388.10,528.34 L388.60,528.93 L389.10,529.73 L389.60,530.04 L390.10,529.38 L390.60,531.26 L391.10,530.97 L391.60,531.77 L392.10,532.71 L392.60,532.28 L393.10,532.54 L393.60,534.44 L394.10,535.16 L394.60,536.07 L395.10,535.02 L395.60,536.34 L396.10,537.10 L396.60,537.22 L397.10,537.78 L397.60,537.37 L398.10,537.75 L398.60,539.68 L399.10,539.76 L399.60,539.53 L400.10,539.40 L400.60,538.98 L401.10,539.55 L401.60,540.65 L402.10,539.81 L402.60,541.22 L403.10,541.18 L403.60,541.07 L404.10,540.86 L404.60,541.18 L405.10,541.97 L405.60,542.24 L406.10,542.81 L406.60,543.91 L407.10,544.02 L407.60,544.39 L408.10,544.84 L408.60,544.75 L409.10,545.24 L409.60,544.98 L410.10,545.72 L410.60,546.47 L411.10,547.01 L411.60,546.95 L412.10,545.99 L412.60,547.54 L413.10,547.04 L413.60,548.50 L414.10,548.55 L414.60,548.48 L415.10,546.13 L415.60,546.54 L416.10,543.90 L416.60,542.98 L417.10,541.82 L417.60,541.18 L418.10,540.09 L418.60,539.36 L419.10,539.29 L419.60,540.12 L420.10,539.06 L420.60,537.75 L421.10,538.30 L421.60,536.91 L422.10,537.69 L422.60,538.07 L423.10,537.45 L423.60,536.72 L424.10,537.50 L424.60,537.82 L425.10,537.50 L425.60,537.80 L426.10,536.84 L426.60,537.92 L427.10,537.20 L427.60,536.45 L428.10,536.39 L428.60,536.54 L429.10,536.51 L429.60,538.11 L430.10,538.72 L430.60,537.74 L431.10,537.58 L431.60,539.39 L432.10,539.14 L432.60,538.96 L433.10,538.81 L433.60,539.47 L434.10,538.89 L434.60,540.35 L435.10,539.07 L435.60,541.03 L436.10,540.85 L436.60,540.91 L437.10,539.78 L437.60,541.72 L438.10,540.00 L438.60,540.81 L439.10,539.94 L439.60,539.10 L440.10,538.49 L440.60,539.46 L441.10,537.70 L441.60,538.38 L441.60,569.52 L441.10,569.99 L440.60,569.86 L440.10,570.16 L439.60,570.01 L439.10,569.63 L438.60,569.86 L438.10,569.06 L437.60,570.10 L437.10,569.87 L436.60,569.26 L436.10,570.19 L435.60,570.14 L435.10,569.14 L434.60,568.99 L434.10,569.57 L433.60,568.95 L433.10,568.63 L432.60,568.05 L432.10,567.50 L431.60,569.30 L431.10,569.07 L430.60,568.91 L430.10,567.63 L429.60,567.15 L429.10,568.56 L428.60,568.48 L428.10,567.32 L427.60,566.89 L427.10,567.08 L426.60,566.99 L426.10,567.61 L425.60,566.50 L425.10,566.75 L424.60,567.47 L424.10,567.55 L423.60,566.24 L423.10,567.70 L422.60,567.15 L422.10,566.16 L421.60,566.93 L421.10,567.42 L420.60,567.54 L420.10,567.87 L419.60,567.35 L419.10,566.61 L418.60,566.76 L418.10,567.96 L417.60,566.62 L417.10,567.15 L416.60,568.01 L416.10,568.02 L415.60,566.70 L415.10,567.01 L414.60,567.29 L414.10,566.72 L413.60,567.57 L413.10,565.41 L412.60,565.21 L412.10,565.77 L411.60,564.63 L411.10,564.86 L410.60,564.41 L410.10,563.20 L409.60,562.85 L409.10,563.79 L408.60,561.69 L408.10,562.99 L407.60,562.66 L407.10,561.40 L406.60,562.11 L406.10,561.79 L405.60,561.21 L405.10,560.02 L404.60,560.43 L404.10,559.43 L403.60,559.68 L403.10,560.50 L402.60,559.23 L402.10,559.76 L401.60,560.01 L401.10,559.65 L400.60,558.80 L400.10,559.07 L399.60,557.50 L399.10,557.35 L398.60,558.11 L398.10,557.27 L397.60,556.72 L397.10,556.50 L396.60,557.11 L396.10,556.69 L395.60,557.16 L395.10,555.66 L394.60,556.14 L394.10,555.94 L393.60,554.71 L393.10,556.02 L392.60,555.88 L392.10,554.68 L391.60,555.32 L391.10,553.74 L390.60,554.30 L390.10,555.04 L389.60,554.52 L389.10,553.12 L388.60,554.61 L388.10,552.94 L387.60,553.18 L387.10,552.57 L386.60,553.86 L386.10,552.43 L385.60,553.38 L385.10,553.07 L384.60,552.97 L384.10,552.35 L383.60,552.65 L383.10,552.13 L382.60,551.05 L382.10,552.25 L381.60,551.74 L381.10,550.55 L380.60,552.06 L380.10,550.83 L379.60,551.49 L379.10,551.50 L378.60,550.50 L378.10,551.97 L377.60,551.14 L377.10,552.40 L376.60,552.83 L376.10,552.37 L375.60,552.63 L375.10,553.10 L374.60,553.40 L374.10,553.96 L373.60,554.38 L373.10,554.66 L372.60,553.28 L372.10,555.18 L371.60,554.54 L371.10,555.04 L370.60,555.93 L370.10,555.70 L369.60,556.40 L369.10,556.91 L368.60,556.52 L368.10,557.56 L367.60,559.12 L367.10,558.33 L366.60,559.66 L366.10,560.36 L365.60,561.96 L365.10,561.99 L364.60,562.51 L364.10,562.87 L363.60,563.10 L363.10,564.91 L362.60,564.22 L362.10,566.01 L361.60,566.57 L361.10,568.16 L360.60,569.42 L360.10,568.91 L359.60,570.43 L359.10,571.68 L358.60,571.03 L358.10,572.27 L357.60,571.38 L357.10,572.53 L356.60,572.47 L356.10,571.49 L355.60,571.74 L355.10,571.88 L354.60,571.86 L354.10,573.12 L353.60,574.63 L353.10,574.14 L352.60,575.49 L352.10,576.55 L351.60,576.36 L351.10,577.03 L350.60,578.44 L350.10,577.54 L349.60,579.10 L349.10,579.46 L348.60,581.26 L348.10,580.85 L347.60,582.42 L347.10,583.66 L346.60,584.59 L346.10,584.77 L345.60,585.01 L345.10,584.98 L344.60,585.57 L344.10,584.58 L343.60,584.38 L343.10,585.40 L342.60,585.62 L342.10,586.52 L341.60,585.82 L341.10,584.54 L340.60,585.06 L340.10,584.16 L339.60,584.85 L339.10,584.19 L338.60,584.22 L338.10,583.86 L337.60,583.31 L337.10,582.36 L336.60,582.83 L336.10,581.48 L335.60,581.15 L335.10,581.90 L334.60,582.30 L334.10,581.77 L333.60,581.23 L333.10,580.73 L332.60,582.24 L332.10,582.06 L331.60,580.61 L331.10,581.96 L330.60,581.14 L330.10,581.55 L329.60,580.60 L329.10,582.03 L328.60,580.76 L328.10,581.40 L327.60,580.20 L327.10,580.99 L326.60,580.39 L326.10,580.80 L325.60,579.42 L325.10,580.14 L324.60,579.10 L324.10,579.19 L323.60,578.83 L323.10,579.57 L322.60,580.10 Z" stroke="#5a5a5a" stroke-width="0.7" fill="#a5a5a5" stroke-linejoin="round"/>
<path d="M322.60,553.49V580.20M323.85,554.02V579.29M325.18,555.93V581.89M326.50,556.56V583.08M327.53,558.06V580.44M328.91,557.96V582.97M329.87,557.36V582.58M330.78,557.00V583.90M332.19,556.81V583.58M333.49,554.53V581.60M334.66,554.19V583.06M336.04,555.25V581.98M337.17,554.27V581.76M338.59,558.13V583.67M339.50,558.72V585.31M340.46,560.54V587.32M341.88,564.25V587.12M342.80,567.94V585.33M343.71,568.49V586.42M344.87,570.42V584.99M345.96,574.31V584.71M347.46,574.62V583.89M348.97,567.29V580.05M350.54,563.17V578.25M352.06,559.51V576.13M353.54,557.73V575.56M354.63,556.83V573.99M356.12,553.00V574.46M357.52,549.89V572.77M358.56,544.62V571.55M360.16,539.67V570.96M361.64,534.07V567.77M362.71,532.88V565.46M364.10,531.47V562.54M365.46,530.53V562.13M366.67,528.19V561.08M368.03,527.84V558.51M369.23,525.78V557.26M370.18,526.25V555.21M371.12,524.65V555.65M372.33,523.75V554.24M373.55,522.16V553.44M374.79,519.88V551.82M375.70,520.53V554.47M377.04,520.15V554.36M378.42,518.68V553.50M379.35,521.49V553.06M380.52,519.83V550.48M382.08,521.97V552.08M383.56,523.36V552.63M384.59,523.26V551.80M385.70,526.51V551.63M386.80,527.77V553.61M387.95,529.02V554.01M389.05,529.39V554.69M390.18,531.17V556.47M391.76,532.16V556.11M393.07,533.59V556.18M394.16,534.71V556.29M395.09,535.92V558.50M396.53,537.17V559.10M397.66,536.39V557.21M399.18,538.53V559.89M400.18,539.21V558.55M401.63,538.26V558.54M402.81,541.26V558.89M403.80,542.19V560.21M405.01,540.04V562.05M406.44,542.95V561.62M407.63,544.04V561.17M408.72,542.30V561.84M409.97,545.52V565.38M410.90,545.12V566.05M412.12,547.16V567.68M413.04,544.99V568.22M414.55,546.14V567.95M415.89,544.35V568.64M417.06,540.10V567.58M418.35,541.12V566.60M419.87,538.96V567.58M421.46,536.48V566.69M422.74,536.36V568.15M423.83,536.81V569.41M425.15,536.01V568.73M426.58,537.48V569.28M427.81,537.73V567.85M429.41,535.61V570.16M430.66,536.86V568.59M432.07,537.80V568.70M433.66,538.57V567.99M435.13,540.60V569.21M436.34,540.70V570.11M437.55,540.08V571.13M438.93,540.79V570.03M439.91,538.98V571.05M441.41,538.85V572.07" stroke="#7a7a7a" stroke-width="0.45" fill="none"/>
<path d="M411.04,564.63V568.09M391.33,531.53V529.66M374.63,552.73V556.15M427.25,537.19V535.80M400.40,539.70V536.95M383.40,524.12V522.07M431.29,538.35V536.26M341.91,566.11V564.71M398.94,538.99V537.26M419.07,567.34V569.19M410.32,564.01V566.64M396.76,556.69V558.49M362.12,533.58V531.89M383.89,524.48V522.91M332.79,556.80V555.16M341.24,585.43V588.46M386.41,552.83V554.88M331.49,581.40V584.31M340.23,562.23V559.18M406.86,543.38V541.21M368.64,527.87V524.41M340.08,561.80V558.04M343.79,569.88V566.52M397.09,537.97V535.59M330.04,581.40V583.06M375.30,552.46V554.70M369.73,526.56V524.71M396.38,556.55V557.84M323.12,554.48V552.98M394.09,534.60V532.08M379.27,551.31V553.11M353.90,559.02V556.04M351.30,561.68V558.54M385.83,525.93V522.39M337.74,555.23V552.59M377.12,551.93V553.30M400.77,539.87V538.53M406.05,561.30V562.57M326.58,557.00V554.27M326.38,580.59V581.63M411.21,564.78V566.74M419.91,539.18V535.86M391.23,554.60V557.59M416.56,567.54V569.18M326.35,556.97V553.73M384.43,524.88V522.46M325.60,580.30V582.72M392.47,532.79V529.14M379.03,520.97V517.57M340.30,584.72V587.28M362.30,533.46V530.91M357.64,549.16V545.69M411.90,565.37V568.28M371.07,555.37V556.97M353.37,559.56V556.52M334.44,555.77V551.98M324.26,579.81V581.98M437.21,569.76V571.92M387.89,553.37V555.02M324.92,580.05V582.41M418.11,540.54V539.31M334.88,555.50V551.61M420.01,539.10V536.76M438.20,540.58V538.63M385.73,525.85V523.14M331.16,557.56V556.23M327.29,580.92V583.18M341.67,565.64V561.98M365.71,531.16V528.72M429.50,568.01V570.20M397.54,538.32V534.51M355.12,556.77V554.30M418.23,567.40V570.06M322.85,579.29V582.57M337.62,554.90V553.25M338.14,556.36V553.86M405.56,542.55V539.93M404.64,560.58V564.01M406.92,543.41V542.24M357.75,548.76V544.88M409.50,545.03V543.02M372.96,553.96V557.40M362.35,565.52V567.55M430.57,538.05V534.75M392.22,554.97V557.86M369.21,527.19V524.33M407.91,544.04V541.96M380.97,522.32V520.17M360.95,536.95V535.75M341.18,564.66V562.55M438.30,540.49V536.76M404.81,560.67V563.30M436.92,569.68V570.88M322.91,579.31V581.17M400.71,558.60V562.07M385.28,525.52V522.74M405.82,542.72V539.31M323.04,554.40V550.87M428.53,567.86V571.02M376.92,520.49V518.05M384.32,524.80V522.69M379.82,521.48V518.77M330.30,557.45V556.27M344.68,571.66V568.38M440.62,570.55V573.60M374.59,521.66V519.02M438.31,570.04V571.07M405.00,560.77V564.00M433.67,539.33V537.09M350.71,562.28V558.64" stroke="#888" stroke-width="0.5" fill="none"/>
<path d="M322.60,565.74 L323.10,565.47 L323.60,565.77 L324.10,567.25 L324.60,568.43 L325.10,568.87 L325.60,569.37 L326.10,569.36 L326.60,570.07 L327.10,570.21 L327.60,569.99 L328.10,570.12 L328.60,569.66 L329.10,569.89 L329.60,569.70 L330.10,571.77 L330.60,570.42 L331.10,570.98 L331.60,571.47 L332.10,570.10 L332.60,570.88 L333.10,571.76 L333.60,569.60 L334.10,572.00 L334.60,571.08 L335.10,570.74 L335.60,570.49 L336.10,570.30 L336.60,569.65 L337.10,568.85 L337.60,568.36 L338.10,568.40 L338.60,569.94 L339.10,569.64 L339.60,570.84 L340.10,570.95 L340.60,572.25 L341.10,573.48 L341.60,575.00 L342.10,574.39 L342.60,575.96 L343.10,577.68 L343.60,577.67 L344.10,579.02 L344.60,577.52 L345.10,577.46 L345.60,579.23 L346.10,579.18 L346.60,578.46 L347.10,579.79 L347.60,579.62 L348.10,577.44 L348.60,575.85 L349.10,575.47 L349.60,572.65 L350.10,571.08 L350.60,570.29 L351.10,568.11 L351.60,569.49 L352.10,567.64 L352.60,566.76 L353.10,567.14 L353.60,566.09 L354.10,567.12 L354.60,567.30 L355.10,568.42 L355.60,567.10 L356.10,569.79 L356.60,570.38 L357.10,568.53 L357.60,563.55 L358.10,559.87 L358.60,559.09 L359.10,557.41 L359.60,556.91 L360.10,556.01 L360.60,552.95 L361.10,553.39 L361.60,552.53 L362.10,550.68 L362.60,550.32 L363.10,550.37 L363.60,549.10 L364.10,548.15 L364.60,549.44 L365.10,547.69 L365.60,548.60 L366.10,545.98 L366.60,546.33 L367.10,545.93 L367.60,546.27 L368.10,544.56 L368.60,545.15 L369.10,543.57 L369.60,543.05 L370.10,543.61 L370.60,542.82 L371.10,543.31 L371.60,541.56 L372.10,540.50 L372.60,541.11 L373.10,539.00 L373.60,539.80 L374.10,540.20 L374.60,537.73 L375.10,538.94 L375.60,538.11 L376.10,538.94 L376.60,536.70 L377.10,536.07 L377.60,536.09 L378.10,535.91 L378.60,537.59 L379.10,537.10 L379.60,536.14 L380.10,537.29 L380.60,536.97 L381.10,536.84 L381.60,538.13 L382.10,538.19 L382.60,538.06 L383.10,538.07 L383.60,538.67 L384.10,540.04 L384.60,538.82 L385.10,540.29 L385.60,539.25 L386.10,539.78 L386.60,541.45 L387.10,540.81 L387.60,540.62 L388.10,540.64 L388.60,542.73 L389.10,542.53 L389.60,542.57 L390.10,542.45 L390.60,544.00 L391.10,543.47 L391.60,543.73 L392.10,544.83 L392.60,545.65 L393.10,545.56 L393.60,545.76 L394.10,546.63 L394.60,546.84 L395.10,546.21 L395.60,546.77 L396.10,547.82 L396.60,547.31 L397.10,546.54 L397.60,547.17 L398.10,547.54 L398.60,548.55 L399.10,547.48 L399.60,549.81 L400.10,548.29 L400.60,549.61 L401.10,550.54 L401.60,550.81 L402.10,550.49 L402.60,550.25 L403.10,549.32 L403.60,551.42 L404.10,550.11 L404.60,552.23 L405.10,552.07 L405.60,552.57 L406.10,552.58 L406.60,553.57 L407.10,552.94 L407.60,553.79 L408.10,553.66 L408.60,553.82 L409.10,555.06 L409.60,555.52 L410.10,553.85 L410.60,554.40 L411.10,556.33 L411.60,556.13 L412.10,556.29 L412.60,556.11 L413.10,556.96 L413.60,556.79 L414.10,557.30 L414.60,557.58 L415.10,557.14 L415.60,557.56 L416.10,555.85 L416.60,555.49 L417.10,556.17 L417.60,556.67 L418.10,554.49 L418.60,553.95 L419.10,553.57 L419.60,554.22 L420.10,552.80 L420.60,552.37 L421.10,554.06 L421.60,552.43 L422.10,553.15 L422.60,552.60 L423.10,552.63 L423.60,552.61 L424.10,551.59 L424.60,551.71 L425.10,551.67 L425.60,553.31 L426.10,553.01 L426.60,551.70 L427.10,552.63 L427.60,553.10 L428.10,552.80 L428.60,554.16 L429.10,552.55 L429.60,554.03 L430.10,552.76 L430.60,554.36 L431.10,554.38 L431.60,553.11 L432.10,553.31 L432.60,553.49 L433.10,555.29 L433.60,554.94 L434.10,555.16 L434.60,554.75 L435.10,555.20 L435.60,554.72 L436.10,556.47 L436.60,556.52 L437.10,555.78 L437.60,555.41 L438.10,556.99 L438.60,555.98 L439.10,556.96 L439.60,556.74 L440.10,555.81 L440.60,554.57 L441.10,554.39 L441.60,554.32" stroke="#e00000" stroke-width="1.8" fill="none" stroke-linejoin="round"/>
<text x="340.40" y="530.20" font-size="7.7" text-anchor="middle">TDZ</text>
<line x1="340.40" y1="531.70" x2="340.40" y2="544.20" stroke="#000" stroke-width="1.2"/>
<path d="M340.40,548.20 L337.10,540.50 L340.40,541.80 L343.70,540.50 Z" stroke="none" stroke-width="1" fill="#000"/>
<rect x="179.30" y="497.60" width="50.00" height="48.20" fill="#000" stroke="none" stroke-width="1"/>
<g shape-rendering="crispEdges"><rect x="208" y="517" width="1" height="1" fill="#003bff"/><rect x="209" y="517" width="1" height="1" fill="#00ccb2"/><rect x="210" y="517" width="1" height="1" fill="#002bff"/><rect x="211" y="517" width="1" height="1" fill="#0082ff"/><rect x="208" y="518" width="1" height="1" fill="#00aaff"/><rect x="209" y="518" width="1" height="1" fill="#0079ff"/><rect x="210" y="518" width="1" height="1" fill="#00aef6"/><rect x="211" y="518" width="1" height="1" fill="#0059ff"/><rect x="201" y="519" width="1" height="1" fill="#00006b"/><rect x="202" y="519" width="1" height="1" fill="#002dff"/><rect x="203" y="519" width="1" height="1" fill="#00a9ff"/><rect x="204" y="519" width="1" height="1" fill="#009fff"/><rect x="205" y="519" width="1" height="1" fill="#008cff"/><rect x="206" y="519" width="1" height="1" fill="#0065ff"/><rect x="207" y="519" width="1" height="1" fill="#000044"/><rect x="208" y="519" width="1" height="1" fill="#00007b"/><rect x="209" y="519" width="1" height="1" fill="#0021ff"/><rect x="210" y="519" width="1" height="1" fill="#00adf8"/><rect x="211" y="519" width="1" height="1" fill="#000093"/><rect x="200" y="520" width="1" height="1" fill="#0011f1"/><rect x="201" y="520" width="1" height="1" fill="#00abfc"/><rect x="202" y="520" width="1" height="1" fill="#27e844"/><rect x="203" y="520" width="1" height="1" fill="#84ec00"/><rect x="204" y="520" width="1" height="1" fill="#50ea0d"/><rect x="205" y="520" width="1" height="1" fill="#3de926"/><rect x="206" y="520" width="1" height="1" fill="#31e937"/><rect x="207" y="520" width="1" height="1" fill="#00bcd6"/><rect x="208" y="520" width="1" height="1" fill="#000acc"/><rect x="209" y="520" width="1" height="1" fill="#0004aa"/><rect x="211" y="520" width="1" height="1" fill="#0012f6"/><rect x="212" y="520" width="1" height="1" fill="#000aca"/><rect x="213" y="520" width="1" height="1" fill="#000ddc"/><rect x="200" y="521" width="1" height="1" fill="#00b4e9"/><rect x="201" y="521" width="1" height="1" fill="#45ea1c"/><rect x="202" y="521" width="1" height="1" fill="#e3f000"/><rect x="203" y="521" width="1" height="1" fill="#acee00"/><rect x="204" y="521" width="1" height="1" fill="#97ed00"/><rect x="205" y="521" width="1" height="1" fill="#56eb05"/><rect x="206" y="521" width="1" height="1" fill="#f4d600"/><rect x="207" y="521" width="1" height="1" fill="#01e677"/><rect x="208" y="521" width="1" height="1" fill="#0042ff"/><rect x="209" y="521" width="1" height="1" fill="#000036"/><rect x="211" y="521" width="1" height="1" fill="#008eff"/><rect x="212" y="521" width="1" height="1" fill="#0074ff"/><rect x="213" y="521" width="1" height="1" fill="#0079ff"/><rect x="199" y="522" width="1" height="1" fill="#0008c2"/><rect x="200" y="522" width="1" height="1" fill="#03e674"/><rect x="201" y="522" width="1" height="1" fill="#72ec00"/><rect x="202" y="522" width="1" height="1" fill="#9fed00"/><rect x="203" y="522" width="1" height="1" fill="#a8ee00"/><rect x="204" y="522" width="1" height="1" fill="#c6ef00"/><rect x="205" y="522" width="1" height="1" fill="#f3dd00"/><rect x="206" y="522" width="1" height="1" fill="#f0ee00"/><rect x="207" y="522" width="1" height="1" fill="#a9ee00"/><rect x="208" y="522" width="1" height="1" fill="#0de766"/><rect x="209" y="522" width="1" height="1" fill="#0007bc"/><rect x="211" y="522" width="1" height="1" fill="#008fff"/><rect x="212" y="522" width="1" height="1" fill="#0073ff"/><rect x="213" y="522" width="1" height="1" fill="#00a1ff"/><rect x="214" y="522" width="1" height="1" fill="#00005a"/><rect x="199" y="523" width="1" height="1" fill="#0033ff"/><rect x="200" y="523" width="1" height="1" fill="#3be929"/><rect x="201" y="523" width="1" height="1" fill="#f5d000"/><rect x="202" y="523" width="1" height="1" fill="#d7ef00"/><rect x="203" y="523" width="1" height="1" fill="#fab000"/><rect x="204" y="523" width="1" height="1" fill="#96ed00"/><rect x="205" y="523" width="1" height="1" fill="#a2ed00"/><rect x="206" y="523" width="1" height="1" fill="#61eb00"/><rect x="207" y="523" width="1" height="1" fill="#87ec00"/><rect x="208" y="523" width="1" height="1" fill="#76ec00"/><rect x="209" y="523" width="1" height="1" fill="#0017ff"/><rect x="211" y="523" width="1" height="1" fill="#006bff"/><rect x="212" y="523" width="1" height="1" fill="#00a3ff"/><rect x="213" y="523" width="1" height="1" fill="#0047ff"/><rect x="198" y="524" width="1" height="1" fill="#00005a"/><rect x="199" y="524" width="1" height="1" fill="#06e670"/><rect x="200" y="524" width="1" height="1" fill="#41ea21"/><rect x="201" y="524" width="1" height="1" fill="#78ec00"/><rect x="202" y="524" width="1" height="1" fill="#ff6300"/><rect x="203" y="524" width="1" height="1" fill="#cfef00"/><rect x="204" y="524" width="1" height="1" fill="#4eea0f"/><rect x="205" y="524" width="1" height="1" fill="#6bec00"/><rect x="206" y="524" width="1" height="1" fill="#e2f000"/><rect x="207" y="524" width="1" height="1" fill="#e1f000"/><rect x="208" y="524" width="1" height="1" fill="#37e92f"/><rect x="209" y="524" width="1" height="1" fill="#00d79a"/><rect x="210" y="524" width="1" height="1" fill="#0005af"/><rect x="211" y="524" width="1" height="1" fill="#0009c4"/><rect x="212" y="524" width="1" height="1" fill="#002eff"/><rect x="213" y="524" width="1" height="1" fill="#005dff"/><rect x="199" y="525" width="1" height="1" fill="#00e678"/><rect x="200" y="525" width="1" height="1" fill="#43ea1f"/><rect x="201" y="525" width="1" height="1" fill="#f9b600"/><rect x="202" y="525" width="1" height="1" fill="#ff7700"/><rect x="203" y="525" width="1" height="1" fill="#ff4400"/><rect x="204" y="525" width="1" height="1" fill="#bcee00"/><rect x="205" y="525" width="1" height="1" fill="#edf000"/><rect x="206" y="525" width="1" height="1" fill="#fd9b00"/><rect x="207" y="525" width="1" height="1" fill="#f2e200"/><rect x="208" y="525" width="1" height="1" fill="#00d69c"/><rect x="209" y="525" width="1" height="1" fill="#0050ff"/><rect x="210" y="525" width="1" height="1" fill="#0051ff"/><rect x="211" y="525" width="1" height="1" fill="#006aff"/><rect x="199" y="526" width="1" height="1" fill="#0012f6"/><rect x="200" y="526" width="1" height="1" fill="#1de851"/><rect x="201" y="526" width="1" height="1" fill="#eff000"/><rect x="202" y="526" width="1" height="1" fill="#94ed00"/><rect x="203" y="526" width="1" height="1" fill="#c0ee00"/><rect x="204" y="526" width="1" height="1" fill="#eaf000"/><rect x="205" y="526" width="1" height="1" fill="#ff8700"/><rect x="206" y="526" width="1" height="1" fill="#f8b900"/><rect x="207" y="526" width="1" height="1" fill="#57eb04"/><rect x="208" y="526" width="1" height="1" fill="#00ccb3"/><rect x="209" y="526" width="1" height="1" fill="#000dd8"/><rect x="210" y="526" width="1" height="1" fill="#002bff"/><rect x="211" y="526" width="1" height="1" fill="#0004ac"/><rect x="199" y="527" width="1" height="1" fill="#000063"/><rect x="200" y="527" width="1" height="1" fill="#0063ff"/><rect x="201" y="527" width="1" height="1" fill="#53eb09"/><rect x="202" y="527" width="1" height="1" fill="#82ec00"/><rect x="203" y="527" width="1" height="1" fill="#e2f000"/><rect x="204" y="527" width="1" height="1" fill="#d2ef00"/><rect x="205" y="527" width="1" height="1" fill="#6dec00"/><rect x="206" y="527" width="1" height="1" fill="#76ec00"/><rect x="207" y="527" width="1" height="1" fill="#0ce768"/><rect x="208" y="527" width="1" height="1" fill="#0062ff"/><rect x="201" y="528" width="1" height="1" fill="#00a7ff"/><rect x="202" y="528" width="1" height="1" fill="#00da94"/><rect x="203" y="528" width="1" height="1" fill="#4eea10"/><rect x="204" y="528" width="1" height="1" fill="#20e84e"/><rect x="205" y="528" width="1" height="1" fill="#74ec00"/><rect x="206" y="528" width="1" height="1" fill="#15e75c"/><rect x="207" y="528" width="1" height="1" fill="#004bff"/><rect x="201" y="529" width="1" height="1" fill="#000bce"/><rect x="202" y="529" width="1" height="1" fill="#007cff"/><rect x="203" y="529" width="1" height="1" fill="#0035ff"/><rect x="204" y="529" width="1" height="1" fill="#0024ff"/><rect x="205" y="529" width="1" height="1" fill="#0068ff"/><rect x="206" y="529" width="1" height="1" fill="#0004ad"/></g>
<text x="166.80" y="495.90" font-size="7.3" textLength="73.40" lengthAdjust="spacing">Baseline Fluorescence</text>
<rect x="179.30" y="557.10" width="49.80" height="47.60" fill="#000" stroke="none" stroke-width="1"/>
<g shape-rendering="crispEdges"><rect x="205" y="575" width="1" height="1" fill="#000edf"/><rect x="206" y="575" width="1" height="1" fill="#0023ff"/><rect x="207" y="575" width="1" height="1" fill="#007fff"/><rect x="208" y="575" width="1" height="1" fill="#008cff"/><rect x="209" y="575" width="1" height="1" fill="#00007c"/><rect x="210" y="575" width="1" height="1" fill="#000092"/><rect x="211" y="575" width="1" height="1" fill="#00019b"/><rect x="208" y="576" width="1" height="1" fill="#00b5e6"/><rect x="209" y="576" width="1" height="1" fill="#00d995"/><rect x="210" y="576" width="1" height="1" fill="#34e933"/><rect x="211" y="576" width="1" height="1" fill="#2ee93b"/><rect x="212" y="576" width="1" height="1" fill="#1ce852"/><rect x="213" y="576" width="1" height="1" fill="#008eff"/><rect x="201" y="577" width="1" height="1" fill="#000072"/><rect x="202" y="577" width="1" height="1" fill="#000dda"/><rect x="203" y="577" width="1" height="1" fill="#00a2ff"/><rect x="204" y="577" width="1" height="1" fill="#00b5e6"/><rect x="205" y="577" width="1" height="1" fill="#00c3c6"/><rect x="206" y="577" width="1" height="1" fill="#002fff"/><rect x="207" y="577" width="1" height="1" fill="#0040ff"/><rect x="208" y="577" width="1" height="1" fill="#0de766"/><rect x="209" y="577" width="1" height="1" fill="#41ea22"/><rect x="210" y="577" width="1" height="1" fill="#00ceae"/><rect x="211" y="577" width="1" height="1" fill="#2fe93a"/><rect x="212" y="577" width="1" height="1" fill="#00d897"/><rect x="213" y="577" width="1" height="1" fill="#34e933"/><rect x="214" y="577" width="1" height="1" fill="#0012f3"/><rect x="200" y="578" width="1" height="1" fill="#0035ff"/><rect x="201" y="578" width="1" height="1" fill="#0094ff"/><rect x="202" y="578" width="1" height="1" fill="#00dd8b"/><rect x="203" y="578" width="1" height="1" fill="#53eb09"/><rect x="204" y="578" width="1" height="1" fill="#d9ef00"/><rect x="205" y="578" width="1" height="1" fill="#bdee00"/><rect x="206" y="578" width="1" height="1" fill="#32e936"/><rect x="207" y="578" width="1" height="1" fill="#009aff"/><rect x="208" y="578" width="1" height="1" fill="#10e763"/><rect x="209" y="578" width="1" height="1" fill="#0ae76b"/><rect x="210" y="578" width="1" height="1" fill="#00e282"/><rect x="211" y="578" width="1" height="1" fill="#11e762"/><rect x="212" y="578" width="1" height="1" fill="#0ee766"/><rect x="213" y="578" width="1" height="1" fill="#2ae840"/><rect x="214" y="578" width="1" height="1" fill="#0009c7"/><rect x="199" y="579" width="1" height="1" fill="#0045ff"/><rect x="200" y="579" width="1" height="1" fill="#3de926"/><rect x="201" y="579" width="1" height="1" fill="#1be754"/><rect x="202" y="579" width="1" height="1" fill="#dbef00"/><rect x="203" y="579" width="1" height="1" fill="#f2e100"/><rect x="204" y="579" width="1" height="1" fill="#fd9a00"/><rect x="205" y="579" width="1" height="1" fill="#caef00"/><rect x="206" y="579" width="1" height="1" fill="#f5cd00"/><rect x="207" y="579" width="1" height="1" fill="#c5ef00"/><rect x="208" y="579" width="1" height="1" fill="#00d799"/><rect x="209" y="579" width="1" height="1" fill="#0025ff"/><rect x="210" y="579" width="1" height="1" fill="#00b3ec"/><rect x="211" y="579" width="1" height="1" fill="#0050ff"/><rect x="212" y="579" width="1" height="1" fill="#0005af"/><rect x="199" y="580" width="1" height="1" fill="#0070ff"/><rect x="200" y="580" width="1" height="1" fill="#98ed00"/><rect x="201" y="580" width="1" height="1" fill="#f0ef00"/><rect x="202" y="580" width="1" height="1" fill="#c8ef00"/><rect x="203" y="580" width="1" height="1" fill="#ff6500"/><rect x="204" y="580" width="1" height="1" fill="#e2f000"/><rect x="205" y="580" width="1" height="1" fill="#fc9d00"/><rect x="206" y="580" width="1" height="1" fill="#e1ef00"/><rect x="207" y="580" width="1" height="1" fill="#deef00"/><rect x="208" y="580" width="1" height="1" fill="#81ec00"/><rect x="209" y="580" width="1" height="1" fill="#0091ff"/><rect x="210" y="580" width="1" height="1" fill="#000080"/><rect x="211" y="580" width="1" height="1" fill="#000039"/><rect x="212" y="580" width="1" height="1" fill="#00adf8"/><rect x="213" y="580" width="1" height="1" fill="#000ddc"/><rect x="198" y="581" width="1" height="1" fill="#000084"/><rect x="199" y="581" width="1" height="1" fill="#00c8bb"/><rect x="200" y="581" width="1" height="1" fill="#f5d100"/><rect x="201" y="581" width="1" height="1" fill="#f4d500"/><rect x="202" y="581" width="1" height="1" fill="#c4ef00"/><rect x="203" y="581" width="1" height="1" fill="#ff4d00"/><rect x="204" y="581" width="1" height="1" fill="#ff8800"/><rect x="205" y="581" width="1" height="1" fill="#f7bf00"/><rect x="206" y="581" width="1" height="1" fill="#f8be00"/><rect x="207" y="581" width="1" height="1" fill="#f6c500"/><rect x="208" y="581" width="1" height="1" fill="#f0ef00"/><rect x="209" y="581" width="1" height="1" fill="#00da92"/><rect x="210" y="581" width="1" height="1" fill="#000052"/><rect x="211" y="581" width="1" height="1" fill="#0014fd"/><rect x="212" y="581" width="1" height="1" fill="#0053ff"/><rect x="213" y="581" width="1" height="1" fill="#000ac8"/><rect x="198" y="582" width="1" height="1" fill="#0017ff"/><rect x="199" y="582" width="1" height="1" fill="#44ea1d"/><rect x="200" y="582" width="1" height="1" fill="#f8bd00"/><rect x="201" y="582" width="1" height="1" fill="#faae00"/><rect x="202" y="582" width="1" height="1" fill="#ff2287"/><rect x="203" y="582" width="1" height="1" fill="#ff2075"/><rect x="204" y="582" width="1" height="1" fill="#fd9900"/><rect x="205" y="582" width="1" height="1" fill="#ff7b00"/><rect x="206" y="582" width="1" height="1" fill="#e9f000"/><rect x="207" y="582" width="1" height="1" fill="#59eb01"/><rect x="208" y="582" width="1" height="1" fill="#c6ef00"/><rect x="209" y="582" width="1" height="1" fill="#05e671"/><rect x="210" y="582" width="1" height="1" fill="#009fff"/><rect x="211" y="582" width="1" height="1" fill="#009cff"/><rect x="212" y="582" width="1" height="1" fill="#00b3ec"/><rect x="213" y="582" width="1" height="1" fill="#0074ff"/><rect x="198" y="583" width="1" height="1" fill="#0045ff"/><rect x="199" y="583" width="1" height="1" fill="#0ce768"/><rect x="200" y="583" width="1" height="1" fill="#f3db00"/><rect x="201" y="583" width="1" height="1" fill="#ff7d00"/><rect x="202" y="583" width="1" height="1" fill="#ff1618"/><rect x="203" y="583" width="1" height="1" fill="#ff1506"/><rect x="204" y="583" width="1" height="1" fill="#ff3300"/><rect x="205" y="583" width="1" height="1" fill="#ff2e00"/><rect x="206" y="583" width="1" height="1" fill="#b6ee00"/><rect x="207" y="583" width="1" height="1" fill="#faad00"/><rect x="208" y="583" width="1" height="1" fill="#ff8800"/><rect x="209" y="583" width="1" height="1" fill="#57eb04"/><rect x="210" y="583" width="1" height="1" fill="#002cff"/><rect x="211" y="583" width="1" height="1" fill="#0019ff"/><rect x="212" y="583" width="1" height="1" fill="#009aff"/><rect x="213" y="583" width="1" height="1" fill="#0053ff"/><rect x="198" y="584" width="1" height="1" fill="#0015ff"/><rect x="199" y="584" width="1" height="1" fill="#02e675"/><rect x="200" y="584" width="1" height="1" fill="#fd9b00"/><rect x="201" y="584" width="1" height="1" fill="#fba900"/><rect x="202" y="584" width="1" height="1" fill="#ff24a2"/><rect x="203" y="584" width="1" height="1" fill="#ff2183"/><rect x="204" y="584" width="1" height="1" fill="#ff1a3e"/><rect x="205" y="584" width="1" height="1" fill="#ff1401"/><rect x="206" y="584" width="1" height="1" fill="#fd9b00"/><rect x="207" y="584" width="1" height="1" fill="#f9b400"/><rect x="208" y="584" width="1" height="1" fill="#87ec00"/><rect x="209" y="584" width="1" height="1" fill="#3fea24"/><rect x="210" y="584" width="1" height="1" fill="#0014ff"/><rect x="211" y="584" width="1" height="1" fill="#0016ff"/><rect x="212" y="584" width="1" height="1" fill="#0042ff"/><rect x="213" y="584" width="1" height="1" fill="#0017ff"/><rect x="198" y="585" width="1" height="1" fill="#0005b1"/><rect x="199" y="585" width="1" height="1" fill="#11e761"/><rect x="200" y="585" width="1" height="1" fill="#82ec00"/><rect x="201" y="585" width="1" height="1" fill="#bcee00"/><rect x="202" y="585" width="1" height="1" fill="#ff8400"/><rect x="203" y="585" width="1" height="1" fill="#ff8f00"/><rect x="204" y="585" width="1" height="1" fill="#ff1b4b"/><rect x="205" y="585" width="1" height="1" fill="#ff27c1"/><rect x="206" y="585" width="1" height="1" fill="#91ed00"/><rect x="207" y="585" width="1" height="1" fill="#87ec00"/><rect x="208" y="585" width="1" height="1" fill="#2ce83d"/><rect x="209" y="585" width="1" height="1" fill="#00b4e9"/><rect x="210" y="585" width="1" height="1" fill="#0003a6"/><rect x="212" y="585" width="1" height="1" fill="#001dff"/><rect x="199" y="586" width="1" height="1" fill="#0080ff"/><rect x="200" y="586" width="1" height="1" fill="#00e183"/><rect x="201" y="586" width="1" height="1" fill="#c4ef00"/><rect x="202" y="586" width="1" height="1" fill="#9ced00"/><rect x="203" y="586" width="1" height="1" fill="#f2e500"/><rect x="204" y="586" width="1" height="1" fill="#f1ec00"/><rect x="205" y="586" width="1" height="1" fill="#d2ef00"/><rect x="206" y="586" width="1" height="1" fill="#f3dc00"/><rect x="207" y="586" width="1" height="1" fill="#b4ee00"/><rect x="208" y="586" width="1" height="1" fill="#00ccb2"/><rect x="209" y="586" width="1" height="1" fill="#0086ff"/><rect x="200" y="587" width="1" height="1" fill="#001cff"/><rect x="201" y="587" width="1" height="1" fill="#00d996"/><rect x="202" y="587" width="1" height="1" fill="#56eb05"/><rect x="203" y="587" width="1" height="1" fill="#50ea0d"/><rect x="204" y="587" width="1" height="1" fill="#cfef00"/><rect x="205" y="587" width="1" height="1" fill="#48ea18"/><rect x="206" y="587" width="1" height="1" fill="#29e842"/><rect x="207" y="587" width="1" height="1" fill="#00c3c8"/><rect x="208" y="587" width="1" height="1" fill="#0007ba"/><rect x="201" y="588" width="1" height="1" fill="#0003a5"/><rect x="202" y="588" width="1" height="1" fill="#00c1cb"/><rect x="203" y="588" width="1" height="1" fill="#008cff"/><rect x="204" y="588" width="1" height="1" fill="#0069ff"/><rect x="205" y="588" width="1" height="1" fill="#005cff"/><rect x="206" y="588" width="1" height="1" fill="#0013f8"/><rect x="207" y="588" width="1" height="1" fill="#00029f"/><rect x="205" y="589" width="1" height="1" fill="#00004c"/></g>
<line x1="214.80" y1="598.80" x2="222.90" y2="598.80" stroke="#fff" stroke-width="1.4"/>
<text x="173.00" y="554.50" font-size="7.3" textLength="60.50" lengthAdjust="spacing">Peak Fluorescence</text>
<rect x="451.30" y="499.90" width="50.70" height="48.00" fill="#000" stroke="none" stroke-width="1"/>
<g shape-rendering="crispEdges"><rect x="470" y="500" width="1" height="1" fill="#000097"/><rect x="474" y="500" width="1" height="1" fill="#00019a"/><rect x="479" y="500" width="1" height="1" fill="#00005a"/><rect x="498" y="500" width="1" height="1" fill="#000082"/><rect x="452" y="502" width="1" height="1" fill="#000097"/><rect x="461" y="502" width="1" height="1" fill="#000077"/><rect x="474" y="502" width="1" height="1" fill="#00004f"/><rect x="463" y="503" width="1" height="1" fill="#000081"/><rect x="467" y="503" width="1" height="1" fill="#000071"/><rect x="488" y="503" width="1" height="1" fill="#00006f"/><rect x="478" y="505" width="1" height="1" fill="#00019d"/><rect x="486" y="505" width="1" height="1" fill="#000097"/><rect x="476" y="507" width="1" height="1" fill="#000059"/><rect x="490" y="507" width="1" height="1" fill="#00007e"/><rect x="497" y="507" width="1" height="1" fill="#000089"/><rect x="489" y="508" width="1" height="1" fill="#00004b"/><rect x="454" y="509" width="1" height="1" fill="#00005c"/><rect x="479" y="509" width="1" height="1" fill="#00029f"/><rect x="481" y="509" width="1" height="1" fill="#000071"/><rect x="482" y="509" width="1" height="1" fill="#00019b"/><rect x="476" y="510" width="1" height="1" fill="#00004f"/><rect x="464" y="511" width="1" height="1" fill="#000095"/><rect x="482" y="511" width="1" height="1" fill="#00029f"/><rect x="486" y="511" width="1" height="1" fill="#000069"/><rect x="485" y="512" width="1" height="1" fill="#000056"/><rect x="474" y="514" width="1" height="1" fill="#000050"/><rect x="492" y="514" width="1" height="1" fill="#000053"/><rect x="455" y="516" width="1" height="1" fill="#00003f"/><rect x="478" y="516" width="1" height="1" fill="#000cd6"/><rect x="479" y="516" width="1" height="1" fill="#001eff"/><rect x="480" y="516" width="1" height="1" fill="#000199"/><rect x="481" y="516" width="1" height="1" fill="#00029f"/><rect x="457" y="517" width="1" height="1" fill="#000056"/><rect x="468" y="517" width="1" height="1" fill="#000049"/><rect x="470" y="517" width="1" height="1" fill="#00029f"/><rect x="471" y="517" width="1" height="1" fill="#0011f0"/><rect x="472" y="517" width="1" height="1" fill="#00003e"/><rect x="476" y="517" width="1" height="1" fill="#0010ea"/><rect x="477" y="517" width="1" height="1" fill="#0092ff"/><rect x="478" y="517" width="1" height="1" fill="#00e57a"/><rect x="479" y="517" width="1" height="1" fill="#1fe84e"/><rect x="480" y="517" width="1" height="1" fill="#00a7ff"/><rect x="481" y="517" width="1" height="1" fill="#00d69c"/><rect x="482" y="517" width="1" height="1" fill="#0082ff"/><rect x="483" y="517" width="1" height="1" fill="#0018ff"/><rect x="493" y="517" width="1" height="1" fill="#000081"/><rect x="500" y="517" width="1" height="1" fill="#000074"/><rect x="452" y="518" width="1" height="1" fill="#0002a1"/><rect x="468" y="518" width="1" height="1" fill="#000fe4"/><rect x="469" y="518" width="1" height="1" fill="#0066ff"/><rect x="470" y="518" width="1" height="1" fill="#00b1f0"/><rect x="471" y="518" width="1" height="1" fill="#00cead"/><rect x="472" y="518" width="1" height="1" fill="#00adf8"/><rect x="473" y="518" width="1" height="1" fill="#0042ff"/><rect x="474" y="518" width="1" height="1" fill="#00c5c2"/><rect x="475" y="518" width="1" height="1" fill="#00bfd0"/><rect x="476" y="518" width="1" height="1" fill="#00bbd8"/><rect x="477" y="518" width="1" height="1" fill="#35e931"/><rect x="478" y="518" width="1" height="1" fill="#43ea1e"/><rect x="479" y="518" width="1" height="1" fill="#71ec00"/><rect x="480" y="518" width="1" height="1" fill="#4fea0f"/><rect x="481" y="518" width="1" height="1" fill="#47ea19"/><rect x="482" y="518" width="1" height="1" fill="#0be769"/><rect x="483" y="518" width="1" height="1" fill="#00b3ea"/><rect x="484" y="518" width="1" height="1" fill="#000ee1"/><rect x="461" y="519" width="1" height="1" fill="#000082"/><rect x="467" y="519" width="1" height="1" fill="#0012f4"/><rect x="468" y="519" width="1" height="1" fill="#0076ff"/><rect x="469" y="519" width="1" height="1" fill="#1de852"/><rect x="470" y="519" width="1" height="1" fill="#e9f000"/><rect x="471" y="519" width="1" height="1" fill="#50ea0d"/><rect x="472" y="519" width="1" height="1" fill="#37e92e"/><rect x="473" y="519" width="1" height="1" fill="#49ea17"/><rect x="474" y="519" width="1" height="1" fill="#50ea0d"/><rect x="475" y="519" width="1" height="1" fill="#68eb00"/><rect x="476" y="519" width="1" height="1" fill="#6eec00"/><rect x="477" y="519" width="1" height="1" fill="#5beb00"/><rect x="478" y="519" width="1" height="1" fill="#e1ef00"/><rect x="479" y="519" width="1" height="1" fill="#b2ee00"/><rect x="480" y="519" width="1" height="1" fill="#e0ef00"/><rect x="481" y="519" width="1" height="1" fill="#a3ed00"/><rect x="482" y="519" width="1" height="1" fill="#abee00"/><rect x="483" y="519" width="1" height="1" fill="#28e843"/><rect x="484" y="519" width="1" height="1" fill="#00e37f"/><rect x="485" y="519" width="1" height="1" fill="#0005b1"/><rect x="496" y="519" width="1" height="1" fill="#00019d"/><rect x="501" y="519" width="1" height="1" fill="#000043"/><rect x="462" y="520" width="1" height="1" fill="#00008c"/><rect x="465" y="520" width="1" height="1" fill="#00004a"/><rect x="466" y="520" width="1" height="1" fill="#000080"/><rect x="467" y="520" width="1" height="1" fill="#0079ff"/><rect x="468" y="520" width="1" height="1" fill="#4cea13"/><rect x="469" y="520" width="1" height="1" fill="#93ed00"/><rect x="470" y="520" width="1" height="1" fill="#99ed00"/><rect x="471" y="520" width="1" height="1" fill="#c1ee00"/><rect x="472" y="520" width="1" height="1" fill="#46ea1b"/><rect x="473" y="520" width="1" height="1" fill="#7cec00"/><rect x="474" y="520" width="1" height="1" fill="#30e938"/><rect x="475" y="520" width="1" height="1" fill="#c3ee00"/><rect x="476" y="520" width="1" height="1" fill="#f0ee00"/><rect x="477" y="520" width="1" height="1" fill="#f4d200"/><rect x="478" y="520" width="1" height="1" fill="#d8ef00"/><rect x="479" y="520" width="1" height="1" fill="#f3dd00"/><rect x="480" y="520" width="1" height="1" fill="#f3df00"/><rect x="481" y="520" width="1" height="1" fill="#61eb00"/><rect x="482" y="520" width="1" height="1" fill="#9bed00"/><rect x="483" y="520" width="1" height="1" fill="#6cec00"/><rect x="484" y="520" width="1" height="1" fill="#00bdd4"/><rect x="485" y="520" width="1" height="1" fill="#0004a9"/><rect x="462" y="521" width="1" height="1" fill="#000078"/><rect x="466" y="521" width="1" height="1" fill="#000ddd"/><rect x="467" y="521" width="1" height="1" fill="#0de767"/><rect x="468" y="521" width="1" height="1" fill="#73ec00"/><rect x="469" y="521" width="1" height="1" fill="#71ec00"/><rect x="470" y="521" width="1" height="1" fill="#f1ea00"/><rect x="471" y="521" width="1" height="1" fill="#f9b600"/><rect x="472" y="521" width="1" height="1" fill="#fba600"/><rect x="473" y="521" width="1" height="1" fill="#a4ed00"/><rect x="474" y="521" width="1" height="1" fill="#5aeb01"/><rect x="475" y="521" width="1" height="1" fill="#91ed00"/><rect x="476" y="521" width="1" height="1" fill="#e7f000"/><rect x="477" y="521" width="1" height="1" fill="#ff8b00"/><rect x="478" y="521" width="1" height="1" fill="#adee00"/><rect x="479" y="521" width="1" height="1" fill="#faaf00"/><rect x="480" y="521" width="1" height="1" fill="#a9ee00"/><rect x="481" y="521" width="1" height="1" fill="#afee00"/><rect x="482" y="521" width="1" height="1" fill="#b6ee00"/><rect x="483" y="521" width="1" height="1" fill="#50ea0e"/><rect x="484" y="521" width="1" height="1" fill="#00c5c2"/><rect x="485" y="521" width="1" height="1" fill="#0007bc"/><rect x="464" y="522" width="1" height="1" fill="#000097"/><rect x="466" y="522" width="1" height="1" fill="#0012f5"/><rect x="467" y="522" width="1" height="1" fill="#33e934"/><rect x="468" y="522" width="1" height="1" fill="#90ed00"/><rect x="469" y="522" width="1" height="1" fill="#4bea14"/><rect x="470" y="522" width="1" height="1" fill="#f0f000"/><rect x="471" y="522" width="1" height="1" fill="#adee00"/><rect x="472" y="522" width="1" height="1" fill="#4dea11"/><rect x="473" y="522" width="1" height="1" fill="#48ea18"/><rect x="474" y="522" width="1" height="1" fill="#b0ee00"/><rect x="475" y="522" width="1" height="1" fill="#36e930"/><rect x="476" y="522" width="1" height="1" fill="#92ed00"/><rect x="477" y="522" width="1" height="1" fill="#afee00"/><rect x="478" y="522" width="1" height="1" fill="#d9ef00"/><rect x="479" y="522" width="1" height="1" fill="#95ed00"/><rect x="480" y="522" width="1" height="1" fill="#e2f000"/><rect x="481" y="522" width="1" height="1" fill="#8eed00"/><rect x="482" y="522" width="1" height="1" fill="#c1ee00"/><rect x="483" y="522" width="1" height="1" fill="#2fe93a"/><rect x="484" y="522" width="1" height="1" fill="#00ceae"/><rect x="485" y="522" width="1" height="1" fill="#0003a5"/><rect x="452" y="523" width="1" height="1" fill="#00006c"/><rect x="458" y="523" width="1" height="1" fill="#000070"/><rect x="466" y="523" width="1" height="1" fill="#0068ff"/><rect x="467" y="523" width="1" height="1" fill="#1be853"/><rect x="468" y="523" width="1" height="1" fill="#86ec00"/><rect x="469" y="523" width="1" height="1" fill="#74ec00"/><rect x="470" y="523" width="1" height="1" fill="#43ea1f"/><rect x="471" y="523" width="1" height="1" fill="#85ec00"/><rect x="472" y="523" width="1" height="1" fill="#daef00"/><rect x="473" y="523" width="1" height="1" fill="#68eb00"/><rect x="474" y="523" width="1" height="1" fill="#60eb00"/><rect x="475" y="523" width="1" height="1" fill="#41ea21"/><rect x="476" y="523" width="1" height="1" fill="#f1ec00"/><rect x="477" y="523" width="1" height="1" fill="#5eeb00"/><rect x="478" y="523" width="1" height="1" fill="#d8ef00"/><rect x="479" y="523" width="1" height="1" fill="#abee00"/><rect x="480" y="523" width="1" height="1" fill="#9aed00"/><rect x="481" y="523" width="1" height="1" fill="#99ed00"/><rect x="482" y="523" width="1" height="1" fill="#ccef00"/><rect x="483" y="523" width="1" height="1" fill="#4fea0e"/><rect x="484" y="523" width="1" height="1" fill="#008eff"/><rect x="460" y="524" width="1" height="1" fill="#00008c"/><rect x="463" y="524" width="1" height="1" fill="#000061"/><rect x="466" y="524" width="1" height="1" fill="#001bff"/><rect x="467" y="524" width="1" height="1" fill="#03e673"/><rect x="468" y="524" width="1" height="1" fill="#59eb02"/><rect x="469" y="524" width="1" height="1" fill="#afee00"/><rect x="470" y="524" width="1" height="1" fill="#41ea21"/><rect x="471" y="524" width="1" height="1" fill="#b1ee00"/><rect x="472" y="524" width="1" height="1" fill="#51ea0d"/><rect x="473" y="524" width="1" height="1" fill="#7fec00"/><rect x="474" y="524" width="1" height="1" fill="#94ed00"/><rect x="475" y="524" width="1" height="1" fill="#8fed00"/><rect x="476" y="524" width="1" height="1" fill="#a1ed00"/><rect x="477" y="524" width="1" height="1" fill="#53eb0a"/><rect x="478" y="524" width="1" height="1" fill="#d3ef00"/><rect x="479" y="524" width="1" height="1" fill="#bcee00"/><rect x="480" y="524" width="1" height="1" fill="#94ed00"/><rect x="481" y="524" width="1" height="1" fill="#78ec00"/><rect x="482" y="524" width="1" height="1" fill="#0fe764"/><rect x="483" y="524" width="1" height="1" fill="#0053ff"/><rect x="459" y="525" width="1" height="1" fill="#0002a2"/><rect x="466" y="525" width="1" height="1" fill="#000095"/><rect x="467" y="525" width="1" height="1" fill="#00a8ff"/><rect x="468" y="525" width="1" height="1" fill="#46ea1a"/><rect x="469" y="525" width="1" height="1" fill="#f1ec00"/><rect x="470" y="525" width="1" height="1" fill="#91ed00"/><rect x="471" y="525" width="1" height="1" fill="#7eec00"/><rect x="472" y="525" width="1" height="1" fill="#7fec00"/><rect x="473" y="525" width="1" height="1" fill="#6dec00"/><rect x="474" y="525" width="1" height="1" fill="#95ed00"/><rect x="475" y="525" width="1" height="1" fill="#53eb0a"/><rect x="476" y="525" width="1" height="1" fill="#5aeb00"/><rect x="477" y="525" width="1" height="1" fill="#02e675"/><rect x="478" y="525" width="1" height="1" fill="#00de8a"/><rect x="479" y="525" width="1" height="1" fill="#16e75a"/><rect x="480" y="525" width="1" height="1" fill="#28e843"/><rect x="481" y="525" width="1" height="1" fill="#00b8df"/><rect x="482" y="525" width="1" height="1" fill="#00a8ff"/><rect x="483" y="525" width="1" height="1" fill="#00004d"/><rect x="500" y="525" width="1" height="1" fill="#000096"/><rect x="467" y="526" width="1" height="1" fill="#000ee1"/><rect x="468" y="526" width="1" height="1" fill="#00d1a7"/><rect x="469" y="526" width="1" height="1" fill="#08e66d"/><rect x="470" y="526" width="1" height="1" fill="#41ea22"/><rect x="471" y="526" width="1" height="1" fill="#7eec00"/><rect x="472" y="526" width="1" height="1" fill="#4cea12"/><rect x="473" y="526" width="1" height="1" fill="#00e679"/><rect x="474" y="526" width="1" height="1" fill="#00c0ce"/><rect x="475" y="526" width="1" height="1" fill="#00c1cb"/><rect x="476" y="526" width="1" height="1" fill="#00a5ff"/><rect x="477" y="526" width="1" height="1" fill="#0039ff"/><rect x="478" y="526" width="1" height="1" fill="#0072ff"/><rect x="479" y="526" width="1" height="1" fill="#000acd"/><rect x="480" y="526" width="1" height="1" fill="#0013fa"/><rect x="481" y="526" width="1" height="1" fill="#0008be"/><rect x="492" y="526" width="1" height="1" fill="#000074"/><rect x="462" y="527" width="1" height="1" fill="#000098"/><rect x="468" y="527" width="1" height="1" fill="#000edd"/><rect x="469" y="527" width="1" height="1" fill="#000dd9"/><rect x="470" y="527" width="1" height="1" fill="#009dff"/><rect x="471" y="527" width="1" height="1" fill="#00cfac"/><rect x="472" y="527" width="1" height="1" fill="#0051ff"/><rect x="473" y="527" width="1" height="1" fill="#0074ff"/><rect x="474" y="527" width="1" height="1" fill="#0011f2"/><rect x="455" y="528" width="1" height="1" fill="#00008a"/><rect x="456" y="528" width="1" height="1" fill="#00007a"/><rect x="458" y="528" width="1" height="1" fill="#0002a2"/><rect x="467" y="528" width="1" height="1" fill="#000066"/><rect x="470" y="528" width="1" height="1" fill="#00007b"/><rect x="479" y="528" width="1" height="1" fill="#000084"/><rect x="501" y="528" width="1" height="1" fill="#00005e"/><rect x="480" y="529" width="1" height="1" fill="#00007b"/><rect x="500" y="529" width="1" height="1" fill="#00007d"/><rect x="458" y="530" width="1" height="1" fill="#000064"/><rect x="468" y="530" width="1" height="1" fill="#00005c"/><rect x="479" y="530" width="1" height="1" fill="#000065"/><rect x="453" y="531" width="1" height="1" fill="#000094"/><rect x="469" y="531" width="1" height="1" fill="#00007b"/><rect x="477" y="531" width="1" height="1" fill="#000065"/><rect x="452" y="532" width="1" height="1" fill="#00029e"/><rect x="461" y="533" width="1" height="1" fill="#000052"/><rect x="476" y="534" width="1" height="1" fill="#00019c"/><rect x="471" y="535" width="1" height="1" fill="#0002a3"/><rect x="493" y="535" width="1" height="1" fill="#000199"/><rect x="499" y="535" width="1" height="1" fill="#000079"/><rect x="497" y="536" width="1" height="1" fill="#000066"/><rect x="462" y="537" width="1" height="1" fill="#00029f"/><rect x="494" y="537" width="1" height="1" fill="#000057"/><rect x="462" y="538" width="1" height="1" fill="#00007f"/><rect x="475" y="538" width="1" height="1" fill="#00005e"/><rect x="497" y="538" width="1" height="1" fill="#0002a1"/><rect x="485" y="539" width="1" height="1" fill="#000043"/><rect x="459" y="541" width="1" height="1" fill="#000065"/><rect x="476" y="541" width="1" height="1" fill="#000049"/><rect x="478" y="541" width="1" height="1" fill="#00004a"/><rect x="493" y="542" width="1" height="1" fill="#000071"/></g>
<text x="440.10" y="497.90" font-size="7.3" textLength="73.10" lengthAdjust="spacing">Baseline Fluorescence</text>
<rect x="451.60" y="559.20" width="50.20" height="48.00" fill="#000" stroke="none" stroke-width="1"/>
<g shape-rendering="crispEdges"><rect x="455" y="559" width="1" height="1" fill="#000041"/><rect x="468" y="559" width="1" height="1" fill="#000048"/><rect x="499" y="559" width="1" height="1" fill="#000064"/><rect x="499" y="560" width="1" height="1" fill="#000046"/><rect x="470" y="561" width="1" height="1" fill="#000040"/><rect x="479" y="561" width="1" height="1" fill="#00007c"/><rect x="482" y="561" width="1" height="1" fill="#000199"/><rect x="490" y="561" width="1" height="1" fill="#000056"/><rect x="493" y="563" width="1" height="1" fill="#000060"/><rect x="463" y="564" width="1" height="1" fill="#000092"/><rect x="459" y="565" width="1" height="1" fill="#00005e"/><rect x="484" y="565" width="1" height="1" fill="#000088"/><rect x="459" y="566" width="1" height="1" fill="#000080"/><rect x="479" y="567" width="1" height="1" fill="#000083"/><rect x="492" y="567" width="1" height="1" fill="#000059"/><rect x="458" y="568" width="1" height="1" fill="#00006a"/><rect x="475" y="568" width="1" height="1" fill="#000062"/><rect x="480" y="569" width="1" height="1" fill="#000098"/><rect x="474" y="570" width="1" height="1" fill="#000054"/><rect x="453" y="571" width="1" height="1" fill="#00029f"/><rect x="481" y="571" width="1" height="1" fill="#00006a"/><rect x="472" y="572" width="1" height="1" fill="#00005d"/><rect x="474" y="572" width="1" height="1" fill="#0037ff"/><rect x="475" y="572" width="1" height="1" fill="#0010ec"/><rect x="476" y="572" width="1" height="1" fill="#0002a1"/><rect x="470" y="573" width="1" height="1" fill="#000050"/><rect x="471" y="573" width="1" height="1" fill="#0008c2"/><rect x="472" y="573" width="1" height="1" fill="#00aef6"/><rect x="473" y="573" width="1" height="1" fill="#00b4e9"/><rect x="474" y="573" width="1" height="1" fill="#0099ff"/><rect x="475" y="573" width="1" height="1" fill="#0085ff"/><rect x="476" y="573" width="1" height="1" fill="#007fff"/><rect x="477" y="573" width="1" height="1" fill="#000ee1"/><rect x="478" y="573" width="1" height="1" fill="#0002a0"/><rect x="493" y="573" width="1" height="1" fill="#000089"/><rect x="467" y="574" width="1" height="1" fill="#0002a2"/><rect x="469" y="574" width="1" height="1" fill="#000063"/><rect x="470" y="574" width="1" height="1" fill="#0010e9"/><rect x="471" y="574" width="1" height="1" fill="#00b7e1"/><rect x="472" y="574" width="1" height="1" fill="#1ce853"/><rect x="473" y="574" width="1" height="1" fill="#18e758"/><rect x="474" y="574" width="1" height="1" fill="#3be929"/><rect x="475" y="574" width="1" height="1" fill="#1de851"/><rect x="476" y="574" width="1" height="1" fill="#32e935"/><rect x="477" y="574" width="1" height="1" fill="#00c3c6"/><rect x="478" y="574" width="1" height="1" fill="#004bff"/><rect x="479" y="574" width="1" height="1" fill="#0009c4"/><rect x="482" y="574" width="1" height="1" fill="#000062"/><rect x="469" y="575" width="1" height="1" fill="#0043ff"/><rect x="470" y="575" width="1" height="1" fill="#00b6e4"/><rect x="471" y="575" width="1" height="1" fill="#39e92c"/><rect x="472" y="575" width="1" height="1" fill="#68eb00"/><rect x="473" y="575" width="1" height="1" fill="#b8ee00"/><rect x="474" y="575" width="1" height="1" fill="#aeee00"/><rect x="475" y="575" width="1" height="1" fill="#c6ef00"/><rect x="476" y="575" width="1" height="1" fill="#7fec00"/><rect x="477" y="575" width="1" height="1" fill="#4cea13"/><rect x="478" y="575" width="1" height="1" fill="#00c4c4"/><rect x="479" y="575" width="1" height="1" fill="#0054ff"/><rect x="496" y="575" width="1" height="1" fill="#000053"/><rect x="468" y="576" width="1" height="1" fill="#000ee0"/><rect x="469" y="576" width="1" height="1" fill="#0087ff"/><rect x="470" y="576" width="1" height="1" fill="#25e846"/><rect x="471" y="576" width="1" height="1" fill="#30e938"/><rect x="472" y="576" width="1" height="1" fill="#fc9f00"/><rect x="473" y="576" width="1" height="1" fill="#fc9f00"/><rect x="474" y="576" width="1" height="1" fill="#f7c100"/><rect x="475" y="576" width="1" height="1" fill="#eaf000"/><rect x="476" y="576" width="1" height="1" fill="#f0ef00"/><rect x="477" y="576" width="1" height="1" fill="#81ec00"/><rect x="478" y="576" width="1" height="1" fill="#acee00"/><rect x="479" y="576" width="1" height="1" fill="#00bed2"/><rect x="480" y="576" width="1" height="1" fill="#000076"/><rect x="458" y="577" width="1" height="1" fill="#000044"/><rect x="468" y="577" width="1" height="1" fill="#0012f4"/><rect x="469" y="577" width="1" height="1" fill="#00cdb0"/><rect x="470" y="577" width="1" height="1" fill="#7fec00"/><rect x="471" y="577" width="1" height="1" fill="#d3ef00"/><rect x="472" y="577" width="1" height="1" fill="#ff1700"/><rect x="473" y="577" width="1" height="1" fill="#ff4100"/><rect x="474" y="577" width="1" height="1" fill="#ff150e"/><rect x="475" y="577" width="1" height="1" fill="#c3ef00"/><rect x="476" y="577" width="1" height="1" fill="#96ed00"/><rect x="477" y="577" width="1" height="1" fill="#e3f000"/><rect x="478" y="577" width="1" height="1" fill="#90ed00"/><rect x="479" y="577" width="1" height="1" fill="#2fe93a"/><rect x="480" y="577" width="1" height="1" fill="#0093ff"/><rect x="467" y="578" width="1" height="1" fill="#0005b1"/><rect x="468" y="578" width="1" height="1" fill="#008dff"/><rect x="469" y="578" width="1" height="1" fill="#3ce928"/><rect x="470" y="578" width="1" height="1" fill="#b5ee00"/><rect x="471" y="578" width="1" height="1" fill="#f2e500"/><rect x="472" y="578" width="1" height="1" fill="#f1eb00"/><rect x="473" y="578" width="1" height="1" fill="#ff7100"/><rect x="474" y="578" width="1" height="1" fill="#99ed00"/><rect x="475" y="578" width="1" height="1" fill="#fba800"/><rect x="476" y="578" width="1" height="1" fill="#f2e300"/><rect x="477" y="578" width="1" height="1" fill="#f3dd00"/><rect x="478" y="578" width="1" height="1" fill="#f2e500"/><rect x="479" y="578" width="1" height="1" fill="#3ae92a"/><rect x="480" y="578" width="1" height="1" fill="#00cead"/><rect x="481" y="578" width="1" height="1" fill="#0002a2"/><rect x="462" y="579" width="1" height="1" fill="#00019a"/><rect x="463" y="579" width="1" height="1" fill="#000041"/><rect x="467" y="579" width="1" height="1" fill="#000087"/><rect x="468" y="579" width="1" height="1" fill="#0096ff"/><rect x="469" y="579" width="1" height="1" fill="#85ec00"/><rect x="470" y="579" width="1" height="1" fill="#dcef00"/><rect x="471" y="579" width="1" height="1" fill="#f9b600"/><rect x="472" y="579" width="1" height="1" fill="#f3d900"/><rect x="473" y="579" width="1" height="1" fill="#fd9a00"/><rect x="474" y="579" width="1" height="1" fill="#ff7d00"/><rect x="475" y="579" width="1" height="1" fill="#ff7900"/><rect x="476" y="579" width="1" height="1" fill="#ff7800"/><rect x="477" y="579" width="1" height="1" fill="#fe9400"/><rect x="478" y="579" width="1" height="1" fill="#f4d800"/><rect x="479" y="579" width="1" height="1" fill="#9ded00"/><rect x="480" y="579" width="1" height="1" fill="#00c9b9"/><rect x="481" y="579" width="1" height="1" fill="#0012f2"/><rect x="486" y="579" width="1" height="1" fill="#000041"/><rect x="498" y="579" width="1" height="1" fill="#000088"/><rect x="457" y="580" width="1" height="1" fill="#000096"/><rect x="458" y="580" width="1" height="1" fill="#000199"/><rect x="467" y="580" width="1" height="1" fill="#0009c5"/><rect x="468" y="580" width="1" height="1" fill="#00c7bd"/><rect x="469" y="580" width="1" height="1" fill="#55eb06"/><rect x="470" y="580" width="1" height="1" fill="#f6ca00"/><rect x="471" y="580" width="1" height="1" fill="#fca100"/><rect x="472" y="580" width="1" height="1" fill="#ff5200"/><rect x="473" y="580" width="1" height="1" fill="#ff1f71"/><rect x="474" y="580" width="1" height="1" fill="#ff4800"/><rect x="475" y="580" width="1" height="1" fill="#ff4400"/><rect x="476" y="580" width="1" height="1" fill="#ff5700"/><rect x="477" y="580" width="1" height="1" fill="#ff192d"/><rect x="478" y="580" width="1" height="1" fill="#e6f000"/><rect x="479" y="580" width="1" height="1" fill="#b2ee00"/><rect x="480" y="580" width="1" height="1" fill="#2ce83e"/><rect x="481" y="580" width="1" height="1" fill="#0004ac"/><rect x="482" y="580" width="1" height="1" fill="#0010ec"/><rect x="467" y="581" width="1" height="1" fill="#0038ff"/><rect x="468" y="581" width="1" height="1" fill="#05e671"/><rect x="469" y="581" width="1" height="1" fill="#c1ee00"/><rect x="470" y="581" width="1" height="1" fill="#96ed00"/><rect x="471" y="581" width="1" height="1" fill="#fe9000"/><rect x="472" y="581" width="1" height="1" fill="#ff3000"/><rect x="473" y="581" width="1" height="1" fill="#ff4800"/><rect x="474" y="581" width="1" height="1" fill="#ff5f00"/><rect x="475" y="581" width="1" height="1" fill="#ff1401"/><rect x="476" y="581" width="1" height="1" fill="#ff2391"/><rect x="477" y="581" width="1" height="1" fill="#ff88e1"/><rect x="478" y="581" width="1" height="1" fill="#fca200"/><rect x="479" y="581" width="1" height="1" fill="#cbef00"/><rect x="480" y="581" width="1" height="1" fill="#36e930"/><rect x="481" y="581" width="1" height="1" fill="#50ea0e"/><rect x="482" y="581" width="1" height="1" fill="#5ceb00"/><rect x="483" y="581" width="1" height="1" fill="#0ae76a"/><rect x="484" y="581" width="1" height="1" fill="#004bff"/><rect x="499" y="581" width="1" height="1" fill="#000199"/><rect x="467" y="582" width="1" height="1" fill="#0007ba"/><rect x="468" y="582" width="1" height="1" fill="#40ea23"/><rect x="469" y="582" width="1" height="1" fill="#5ceb00"/><rect x="470" y="582" width="1" height="1" fill="#deef00"/><rect x="471" y="582" width="1" height="1" fill="#e3f000"/><rect x="472" y="582" width="1" height="1" fill="#ff6300"/><rect x="473" y="582" width="1" height="1" fill="#ff3000"/><rect x="474" y="582" width="1" height="1" fill="#ff3300"/><rect x="475" y="582" width="1" height="1" fill="#ff3200"/><rect x="476" y="582" width="1" height="1" fill="#ffa5e8"/><rect x="477" y="582" width="1" height="1" fill="#ff60d6"/><rect x="478" y="582" width="1" height="1" fill="#ff4300"/><rect x="479" y="582" width="1" height="1" fill="#caef00"/><rect x="480" y="582" width="1" height="1" fill="#4cea13"/><rect x="481" y="582" width="1" height="1" fill="#1fe84f"/><rect x="482" y="582" width="1" height="1" fill="#15e75c"/><rect x="483" y="582" width="1" height="1" fill="#00c5c2"/><rect x="484" y="582" width="1" height="1" fill="#0008c1"/><rect x="467" y="583" width="1" height="1" fill="#00019a"/><rect x="468" y="583" width="1" height="1" fill="#00c2c8"/><rect x="469" y="583" width="1" height="1" fill="#1ce853"/><rect x="470" y="583" width="1" height="1" fill="#b9ee00"/><rect x="471" y="583" width="1" height="1" fill="#f1eb00"/><rect x="472" y="583" width="1" height="1" fill="#ff3300"/><rect x="473" y="583" width="1" height="1" fill="#ff7800"/><rect x="474" y="583" width="1" height="1" fill="#ff1823"/><rect x="475" y="583" width="1" height="1" fill="#ffeefb"/><rect x="476" y="583" width="1" height="1" fill="#ffffff"/><rect x="477" y="583" width="1" height="1" fill="#ff83df"/><rect x="478" y="583" width="1" height="1" fill="#ff3400"/><rect x="479" y="583" width="1" height="1" fill="#a0ed00"/><rect x="480" y="583" width="1" height="1" fill="#45ea1b"/><rect x="481" y="583" width="1" height="1" fill="#000ddb"/><rect x="493" y="583" width="1" height="1" fill="#000097"/><rect x="455" y="584" width="1" height="1" fill="#000094"/><rect x="467" y="584" width="1" height="1" fill="#00007f"/><rect x="468" y="584" width="1" height="1" fill="#00ccb2"/><rect x="469" y="584" width="1" height="1" fill="#75ec00"/><rect x="470" y="584" width="1" height="1" fill="#bdee00"/><rect x="471" y="584" width="1" height="1" fill="#f7c100"/><rect x="472" y="584" width="1" height="1" fill="#ff7500"/><rect x="473" y="584" width="1" height="1" fill="#ff5600"/><rect x="474" y="584" width="1" height="1" fill="#ff4500"/><rect x="475" y="584" width="1" height="1" fill="#ff80de"/><rect x="476" y="584" width="1" height="1" fill="#ffd4f4"/><rect x="477" y="584" width="1" height="1" fill="#ff1700"/><rect x="478" y="584" width="1" height="1" fill="#ff2a00"/><rect x="479" y="584" width="1" height="1" fill="#adee00"/><rect x="480" y="584" width="1" height="1" fill="#00aef6"/><rect x="481" y="584" width="1" height="1" fill="#000cd4"/><rect x="458" y="585" width="1" height="1" fill="#00006f"/><rect x="466" y="585" width="1" height="1" fill="#000086"/><rect x="467" y="585" width="1" height="1" fill="#00006d"/><rect x="468" y="585" width="1" height="1" fill="#00c7bd"/><rect x="469" y="585" width="1" height="1" fill="#48ea18"/><rect x="470" y="585" width="1" height="1" fill="#e4f000"/><rect x="471" y="585" width="1" height="1" fill="#f7c000"/><rect x="472" y="585" width="1" height="1" fill="#ff8a00"/><rect x="473" y="585" width="1" height="1" fill="#ff1f00"/><rect x="474" y="585" width="1" height="1" fill="#ff171c"/><rect x="475" y="585" width="1" height="1" fill="#ff1936"/><rect x="476" y="585" width="1" height="1" fill="#ff4500"/><rect x="477" y="585" width="1" height="1" fill="#ff1932"/><rect x="478" y="585" width="1" height="1" fill="#ff5300"/><rect x="479" y="585" width="1" height="1" fill="#90ed00"/><rect x="480" y="585" width="1" height="1" fill="#00c1cb"/><rect x="481" y="585" width="1" height="1" fill="#000fe7"/><rect x="490" y="585" width="1" height="1" fill="#000085"/><rect x="491" y="585" width="1" height="1" fill="#000091"/><rect x="492" y="585" width="1" height="1" fill="#00019d"/><rect x="466" y="586" width="1" height="1" fill="#00029f"/><rect x="468" y="586" width="1" height="1" fill="#006bff"/><rect x="469" y="586" width="1" height="1" fill="#00e57a"/><rect x="470" y="586" width="1" height="1" fill="#98ed00"/><rect x="471" y="586" width="1" height="1" fill="#f4d600"/><rect x="472" y="586" width="1" height="1" fill="#f5d100"/><rect x="473" y="586" width="1" height="1" fill="#fd9b00"/><rect x="474" y="586" width="1" height="1" fill="#ff8d00"/><rect x="475" y="586" width="1" height="1" fill="#ff5700"/><rect x="476" y="586" width="1" height="1" fill="#ff171d"/><rect x="477" y="586" width="1" height="1" fill="#f9b200"/><rect x="478" y="586" width="1" height="1" fill="#e5f000"/><rect x="479" y="586" width="1" height="1" fill="#24e848"/><rect x="480" y="586" width="1" height="1" fill="#00abfe"/><rect x="497" y="586" width="1" height="1" fill="#000045"/><rect x="468" y="587" width="1" height="1" fill="#000096"/><rect x="469" y="587" width="1" height="1" fill="#00de8a"/><rect x="470" y="587" width="1" height="1" fill="#0ae76b"/><rect x="471" y="587" width="1" height="1" fill="#42ea21"/><rect x="472" y="587" width="1" height="1" fill="#f1e700"/><rect x="473" y="587" width="1" height="1" fill="#f7c200"/><rect x="474" y="587" width="1" height="1" fill="#ff7300"/><rect x="475" y="587" width="1" height="1" fill="#ff4900"/><rect x="476" y="587" width="1" height="1" fill="#f9b600"/><rect x="477" y="587" width="1" height="1" fill="#f7c500"/><rect x="478" y="587" width="1" height="1" fill="#20e84d"/><rect x="479" y="587" width="1" height="1" fill="#12e760"/><rect x="480" y="587" width="1" height="1" fill="#000074"/><rect x="452" y="588" width="1" height="1" fill="#000096"/><rect x="456" y="588" width="1" height="1" fill="#0002a0"/><rect x="467" y="588" width="1" height="1" fill="#000072"/><rect x="469" y="588" width="1" height="1" fill="#000cd7"/><rect x="470" y="588" width="1" height="1" fill="#00d0ab"/><rect x="471" y="588" width="1" height="1" fill="#07e66f"/><rect x="472" y="588" width="1" height="1" fill="#7eec00"/><rect x="473" y="588" width="1" height="1" fill="#f6c900"/><rect x="474" y="588" width="1" height="1" fill="#b1ee00"/><rect x="475" y="588" width="1" height="1" fill="#f2e500"/><rect x="476" y="588" width="1" height="1" fill="#62eb00"/><rect x="477" y="588" width="1" height="1" fill="#18e759"/><rect x="478" y="588" width="1" height="1" fill="#00d69b"/><rect x="479" y="588" width="1" height="1" fill="#0052ff"/><rect x="483" y="588" width="1" height="1" fill="#000062"/><rect x="458" y="589" width="1" height="1" fill="#00004d"/><rect x="469" y="589" width="1" height="1" fill="#000ddc"/><rect x="470" y="589" width="1" height="1" fill="#0014ff"/><rect x="471" y="589" width="1" height="1" fill="#00bbd8"/><rect x="472" y="589" width="1" height="1" fill="#42ea20"/><rect x="473" y="589" width="1" height="1" fill="#2fe93a"/><rect x="474" y="589" width="1" height="1" fill="#61eb00"/><rect x="475" y="589" width="1" height="1" fill="#01e677"/><rect x="476" y="589" width="1" height="1" fill="#00d0aa"/><rect x="477" y="589" width="1" height="1" fill="#00bfd1"/><rect x="478" y="589" width="1" height="1" fill="#0031ff"/><rect x="470" y="590" width="1" height="1" fill="#000087"/><rect x="471" y="590" width="1" height="1" fill="#0059ff"/><rect x="472" y="590" width="1" height="1" fill="#0089ff"/><rect x="473" y="590" width="1" height="1" fill="#00e47c"/><rect x="474" y="590" width="1" height="1" fill="#00c7be"/><rect x="475" y="590" width="1" height="1" fill="#00c6c0"/><rect x="476" y="590" width="1" height="1" fill="#00aef7"/><rect x="477" y="590" width="1" height="1" fill="#003bff"/><rect x="478" y="590" width="1" height="1" fill="#00019c"/><rect x="494" y="590" width="1" height="1" fill="#000095"/><rect x="466" y="591" width="1" height="1" fill="#000068"/><rect x="472" y="591" width="1" height="1" fill="#0006b4"/><rect x="473" y="591" width="1" height="1" fill="#002eff"/><rect x="474" y="591" width="1" height="1" fill="#000cd3"/><rect x="475" y="591" width="1" height="1" fill="#000bce"/><rect x="476" y="591" width="1" height="1" fill="#000047"/><rect x="489" y="591" width="1" height="1" fill="#00007e"/><rect x="478" y="592" width="1" height="1" fill="#000086"/><rect x="479" y="593" width="1" height="1" fill="#000055"/><rect x="474" y="594" width="1" height="1" fill="#000072"/><rect x="480" y="594" width="1" height="1" fill="#000094"/><rect x="500" y="594" width="1" height="1" fill="#000068"/><rect x="454" y="595" width="1" height="1" fill="#000053"/><rect x="459" y="595" width="1" height="1" fill="#00019d"/><rect x="467" y="595" width="1" height="1" fill="#000063"/><rect x="473" y="595" width="1" height="1" fill="#000040"/><rect x="479" y="595" width="1" height="1" fill="#000076"/><rect x="484" y="595" width="1" height="1" fill="#00006d"/><rect x="481" y="596" width="1" height="1" fill="#000091"/><rect x="486" y="596" width="1" height="1" fill="#000092"/><rect x="498" y="596" width="1" height="1" fill="#00019d"/><rect x="455" y="597" width="1" height="1" fill="#00029f"/><rect x="474" y="597" width="1" height="1" fill="#000043"/><rect x="467" y="598" width="1" height="1" fill="#00008a"/><rect x="474" y="598" width="1" height="1" fill="#000055"/><rect x="454" y="599" width="1" height="1" fill="#000057"/><rect x="468" y="599" width="1" height="1" fill="#00006a"/><rect x="476" y="600" width="1" height="1" fill="#000079"/><rect x="454" y="601" width="1" height="1" fill="#000055"/><rect x="473" y="602" width="1" height="1" fill="#00007c"/><rect x="460" y="603" width="1" height="1" fill="#00019a"/><rect x="470" y="603" width="1" height="1" fill="#00008d"/><rect x="467" y="604" width="1" height="1" fill="#0009c3"/><rect x="468" y="604" width="1" height="1" fill="#0081ff"/><rect x="469" y="604" width="1" height="1" fill="#00c5c3"/><rect x="470" y="604" width="1" height="1" fill="#0011ed"/><rect x="471" y="604" width="1" height="1" fill="#000fe3"/><rect x="455" y="605" width="1" height="1" fill="#00019a"/><rect x="466" y="605" width="1" height="1" fill="#0076ff"/><rect x="467" y="605" width="1" height="1" fill="#00cab7"/><rect x="468" y="605" width="1" height="1" fill="#00d996"/><rect x="469" y="605" width="1" height="1" fill="#07e66f"/><rect x="470" y="605" width="1" height="1" fill="#51eb0c"/><rect x="471" y="605" width="1" height="1" fill="#00e37f"/><rect x="472" y="605" width="1" height="1" fill="#003cff"/><rect x="473" y="605" width="1" height="1" fill="#00005b"/><rect x="478" y="605" width="1" height="1" fill="#0002a0"/><rect x="481" y="605" width="1" height="1" fill="#000076"/><rect x="465" y="606" width="1" height="1" fill="#0039ff"/><rect x="466" y="606" width="1" height="1" fill="#00cab7"/><rect x="467" y="606" width="1" height="1" fill="#0fe764"/><rect x="468" y="606" width="1" height="1" fill="#38e92d"/><rect x="469" y="606" width="1" height="1" fill="#76ec00"/><rect x="470" y="606" width="1" height="1" fill="#3de927"/><rect x="471" y="606" width="1" height="1" fill="#4aea15"/><rect x="472" y="606" width="1" height="1" fill="#11e761"/><rect x="473" y="606" width="1" height="1" fill="#0033ff"/><rect x="477" y="606" width="1" height="1" fill="#000056"/></g>
<line x1="487.00" y1="601.30" x2="496.00" y2="601.30" stroke="#fff" stroke-width="1.4"/>
<text x="446.10" y="556.80" font-size="7.3" textLength="60.50" lengthAdjust="spacing">Peak Fluorescence</text>
</svg>
</body></html>
